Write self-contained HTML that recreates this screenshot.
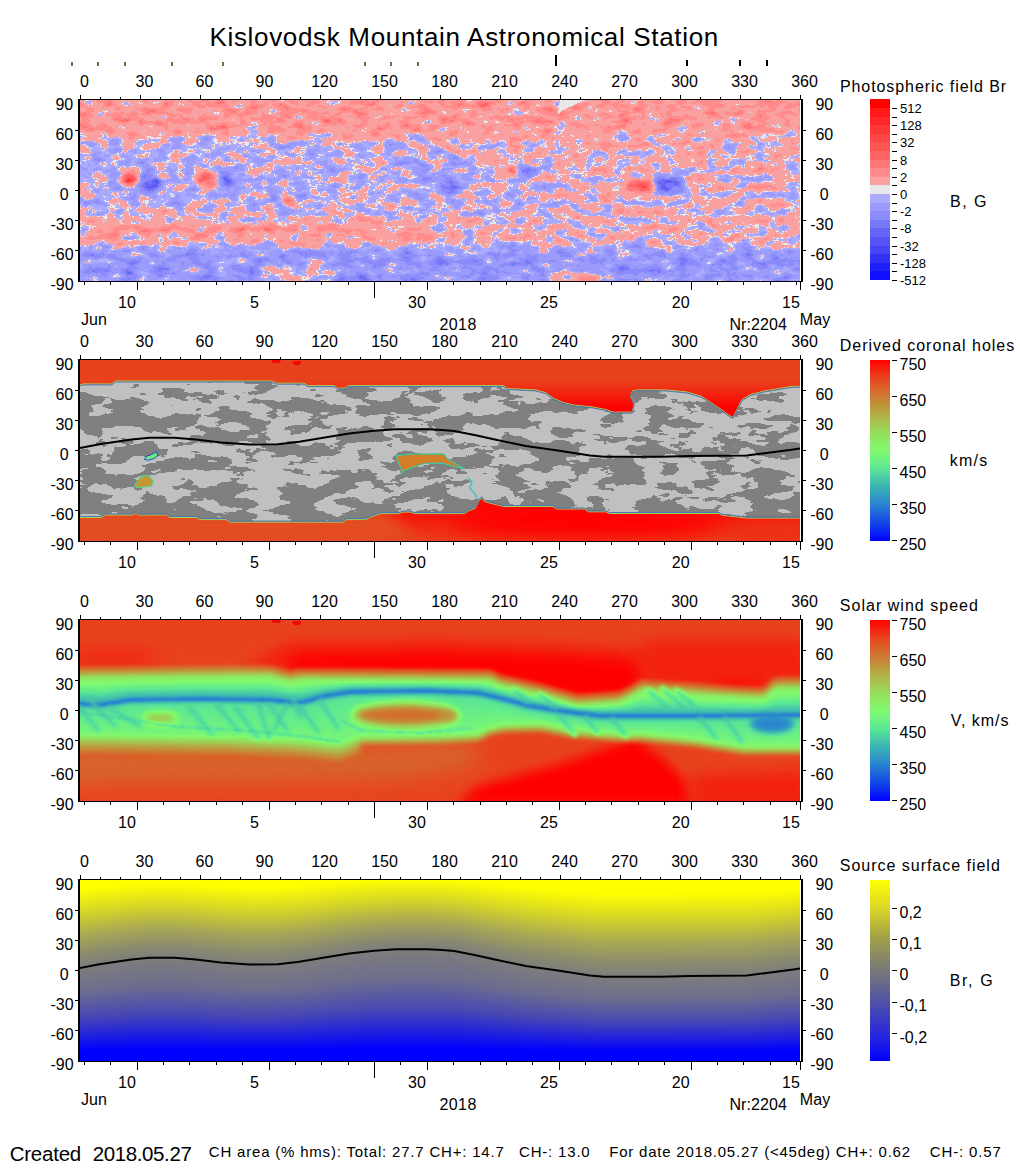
<!DOCTYPE html>
<html><head><meta charset="utf-8"><style>
html,body{margin:0;padding:0;background:#fff;}
svg{display:block;}
text{font-family:"Liberation Sans", sans-serif;}
</style></head><body>
<svg width="1020" height="1172" viewBox="0 0 1020 1172" shape-rendering="crispEdges">
<rect width="1020" height="1172" fill="#fff"/>
<defs>
<linearGradient id="jet" x1="0" y1="0" x2="0" y2="1">
<stop offset="0" stop-color="#ff0000"/>
<stop offset="0.1" stop-color="#e8441e"/>
<stop offset="0.2" stop-color="#cd7a32"/>
<stop offset="0.3" stop-color="#b4ad46"/>
<stop offset="0.4" stop-color="#96dc5a"/>
<stop offset="0.5" stop-color="#82fa6e"/>
<stop offset="0.6" stop-color="#5ae696"/>
<stop offset="0.7" stop-color="#3cb4b4"/>
<stop offset="0.8" stop-color="#2882d2"/>
<stop offset="0.9" stop-color="#1446e6"/>
<stop offset="1" stop-color="#0000ff"/>
</linearGradient>
<linearGradient id="ssf" x1="0" y1="0" x2="0" y2="1">
<stop offset="0" stop-color="#ffff00"/>
<stop offset="0.15" stop-color="#dcd728"/>
<stop offset="0.32" stop-color="#a0a046"/>
<stop offset="0.5" stop-color="#787878"/>
<stop offset="0.68" stop-color="#5050aa"/>
<stop offset="0.85" stop-color="#2828dc"/>
<stop offset="1" stop-color="#0000ff"/>
</linearGradient>
</defs>
<defs><clipPath id="clip0"><rect x="80" y="100" width="720" height="181"/></clipPath><clipPath id="clip1"><rect x="80" y="360" width="720" height="181"/></clipPath><clipPath id="clip2"><rect x="80" y="620" width="720" height="181"/></clipPath><clipPath id="clip3"><rect x="80" y="880" width="720" height="181"/></clipPath><linearGradient id="g4_0" gradientUnits="userSpaceOnUse" x1="0" y1="888.8" x2="0" y2="1050.4"><stop offset="0.000" stop-color="#ffff00"/><stop offset="0.146" stop-color="#d5d528"/><stop offset="0.292" stop-color="#a7a755"/><stop offset="0.414" stop-color="#8a8a70"/><stop offset="0.487" stop-color="#7d7d7d"/><stop offset="0.641" stop-color="#6d6d8e"/><stop offset="0.795" stop-color="#4848b4"/><stop offset="0.923" stop-color="#1c1ce2"/><stop offset="1.000" stop-color="#0000ff"/></linearGradient><linearGradient id="g4_5" gradientUnits="userSpaceOnUse" x1="0" y1="888.3" x2="0" y2="1050.3"><stop offset="0.000" stop-color="#ffff00"/><stop offset="0.145" stop-color="#d5d528"/><stop offset="0.290" stop-color="#a7a755"/><stop offset="0.411" stop-color="#8a8a70"/><stop offset="0.483" stop-color="#7d7d7d"/><stop offset="0.638" stop-color="#6d6d8e"/><stop offset="0.793" stop-color="#4848b4"/><stop offset="0.922" stop-color="#1c1ce2"/><stop offset="1.000" stop-color="#0000ff"/></linearGradient><linearGradient id="g4_10" gradientUnits="userSpaceOnUse" x1="0" y1="887.8" x2="0" y2="1050.2"><stop offset="0.000" stop-color="#ffff00"/><stop offset="0.144" stop-color="#d5d528"/><stop offset="0.287" stop-color="#a7a755"/><stop offset="0.407" stop-color="#8a8a70"/><stop offset="0.479" stop-color="#7d7d7d"/><stop offset="0.635" stop-color="#6d6d8e"/><stop offset="0.792" stop-color="#4848b4"/><stop offset="0.922" stop-color="#1c1ce2"/><stop offset="1.000" stop-color="#0000ff"/></linearGradient><linearGradient id="g4_15" gradientUnits="userSpaceOnUse" x1="0" y1="887.3" x2="0" y2="1050.1"><stop offset="0.000" stop-color="#ffff00"/><stop offset="0.142" stop-color="#d5d528"/><stop offset="0.285" stop-color="#a7a755"/><stop offset="0.404" stop-color="#8a8a70"/><stop offset="0.475" stop-color="#7d7d7d"/><stop offset="0.632" stop-color="#6d6d8e"/><stop offset="0.790" stop-color="#4848b4"/><stop offset="0.921" stop-color="#1c1ce2"/><stop offset="1.000" stop-color="#0000ff"/></linearGradient><linearGradient id="g4_20" gradientUnits="userSpaceOnUse" x1="0" y1="886.9" x2="0" y2="1050.0"><stop offset="0.000" stop-color="#ffff00"/><stop offset="0.141" stop-color="#d5d528"/><stop offset="0.283" stop-color="#a7a755"/><stop offset="0.401" stop-color="#8a8a70"/><stop offset="0.471" stop-color="#7d7d7d"/><stop offset="0.630" stop-color="#6d6d8e"/><stop offset="0.789" stop-color="#4848b4"/><stop offset="0.921" stop-color="#1c1ce2"/><stop offset="1.000" stop-color="#0000ff"/></linearGradient><linearGradient id="g4_25" gradientUnits="userSpaceOnUse" x1="0" y1="886.5" x2="0" y2="1049.9"><stop offset="0.000" stop-color="#ffff00"/><stop offset="0.141" stop-color="#d5d528"/><stop offset="0.281" stop-color="#a7a755"/><stop offset="0.398" stop-color="#8a8a70"/><stop offset="0.468" stop-color="#7d7d7d"/><stop offset="0.628" stop-color="#6d6d8e"/><stop offset="0.787" stop-color="#4848b4"/><stop offset="0.920" stop-color="#1c1ce2"/><stop offset="1.000" stop-color="#0000ff"/></linearGradient><linearGradient id="g4_30" gradientUnits="userSpaceOnUse" x1="0" y1="886.2" x2="0" y2="1049.8"><stop offset="0.000" stop-color="#ffff00"/><stop offset="0.140" stop-color="#d5d528"/><stop offset="0.279" stop-color="#a7a755"/><stop offset="0.396" stop-color="#8a8a70"/><stop offset="0.465" stop-color="#7d7d7d"/><stop offset="0.626" stop-color="#6d6d8e"/><stop offset="0.786" stop-color="#4848b4"/><stop offset="0.920" stop-color="#1c1ce2"/><stop offset="1.000" stop-color="#0000ff"/></linearGradient><linearGradient id="g4_35" gradientUnits="userSpaceOnUse" x1="0" y1="885.8" x2="0" y2="1049.8"><stop offset="0.000" stop-color="#ffff00"/><stop offset="0.139" stop-color="#d5d528"/><stop offset="0.277" stop-color="#a7a755"/><stop offset="0.393" stop-color="#8a8a70"/><stop offset="0.462" stop-color="#7d7d7d"/><stop offset="0.624" stop-color="#6d6d8e"/><stop offset="0.785" stop-color="#4848b4"/><stop offset="0.919" stop-color="#1c1ce2"/><stop offset="1.000" stop-color="#0000ff"/></linearGradient><linearGradient id="g4_40" gradientUnits="userSpaceOnUse" x1="0" y1="885.4" x2="0" y2="1049.7"><stop offset="0.000" stop-color="#ffff00"/><stop offset="0.138" stop-color="#d5d528"/><stop offset="0.276" stop-color="#a7a755"/><stop offset="0.390" stop-color="#8a8a70"/><stop offset="0.459" stop-color="#7d7d7d"/><stop offset="0.622" stop-color="#6d6d8e"/><stop offset="0.784" stop-color="#4848b4"/><stop offset="0.919" stop-color="#1c1ce2"/><stop offset="1.000" stop-color="#0000ff"/></linearGradient><linearGradient id="g4_45" gradientUnits="userSpaceOnUse" x1="0" y1="885.1" x2="0" y2="1049.6"><stop offset="0.000" stop-color="#ffff00"/><stop offset="0.137" stop-color="#d5d528"/><stop offset="0.274" stop-color="#a7a755"/><stop offset="0.388" stop-color="#8a8a70"/><stop offset="0.456" stop-color="#7d7d7d"/><stop offset="0.619" stop-color="#6d6d8e"/><stop offset="0.783" stop-color="#4848b4"/><stop offset="0.918" stop-color="#1c1ce2"/><stop offset="1.000" stop-color="#0000ff"/></linearGradient><linearGradient id="g4_50" gradientUnits="userSpaceOnUse" x1="0" y1="884.7" x2="0" y2="1049.5"><stop offset="0.000" stop-color="#ffff00"/><stop offset="0.136" stop-color="#d5d528"/><stop offset="0.272" stop-color="#a7a755"/><stop offset="0.386" stop-color="#8a8a70"/><stop offset="0.454" stop-color="#7d7d7d"/><stop offset="0.618" stop-color="#6d6d8e"/><stop offset="0.781" stop-color="#4848b4"/><stop offset="0.918" stop-color="#1c1ce2"/><stop offset="1.000" stop-color="#0000ff"/></linearGradient><linearGradient id="g4_55" gradientUnits="userSpaceOnUse" x1="0" y1="884.5" x2="0" y2="1049.5"><stop offset="0.000" stop-color="#ffff00"/><stop offset="0.135" stop-color="#d5d528"/><stop offset="0.271" stop-color="#a7a755"/><stop offset="0.384" stop-color="#8a8a70"/><stop offset="0.452" stop-color="#7d7d7d"/><stop offset="0.616" stop-color="#6d6d8e"/><stop offset="0.781" stop-color="#4848b4"/><stop offset="0.918" stop-color="#1c1ce2"/><stop offset="1.000" stop-color="#0000ff"/></linearGradient><linearGradient id="g4_60" gradientUnits="userSpaceOnUse" x1="0" y1="884.2" x2="0" y2="1049.4"><stop offset="0.000" stop-color="#ffff00"/><stop offset="0.135" stop-color="#d5d528"/><stop offset="0.270" stop-color="#a7a755"/><stop offset="0.382" stop-color="#8a8a70"/><stop offset="0.449" stop-color="#7d7d7d"/><stop offset="0.615" stop-color="#6d6d8e"/><stop offset="0.780" stop-color="#4848b4"/><stop offset="0.917" stop-color="#1c1ce2"/><stop offset="1.000" stop-color="#0000ff"/></linearGradient><linearGradient id="g4_65" gradientUnits="userSpaceOnUse" x1="0" y1="884.0" x2="0" y2="1049.4"><stop offset="0.000" stop-color="#ffff00"/><stop offset="0.134" stop-color="#d5d528"/><stop offset="0.268" stop-color="#a7a755"/><stop offset="0.380" stop-color="#8a8a70"/><stop offset="0.447" stop-color="#7d7d7d"/><stop offset="0.613" stop-color="#6d6d8e"/><stop offset="0.779" stop-color="#4848b4"/><stop offset="0.917" stop-color="#1c1ce2"/><stop offset="1.000" stop-color="#0000ff"/></linearGradient><linearGradient id="g4_70" gradientUnits="userSpaceOnUse" x1="0" y1="883.9" x2="0" y2="1049.4"><stop offset="0.000" stop-color="#ffff00"/><stop offset="0.134" stop-color="#d5d528"/><stop offset="0.268" stop-color="#a7a755"/><stop offset="0.380" stop-color="#8a8a70"/><stop offset="0.447" stop-color="#7d7d7d"/><stop offset="0.613" stop-color="#6d6d8e"/><stop offset="0.779" stop-color="#4848b4"/><stop offset="0.917" stop-color="#1c1ce2"/><stop offset="1.000" stop-color="#0000ff"/></linearGradient><linearGradient id="g4_75" gradientUnits="userSpaceOnUse" x1="0" y1="883.9" x2="0" y2="1049.4"><stop offset="0.000" stop-color="#ffff00"/><stop offset="0.134" stop-color="#d5d528"/><stop offset="0.268" stop-color="#a7a755"/><stop offset="0.380" stop-color="#8a8a70"/><stop offset="0.447" stop-color="#7d7d7d"/><stop offset="0.613" stop-color="#6d6d8e"/><stop offset="0.779" stop-color="#4848b4"/><stop offset="0.917" stop-color="#1c1ce2"/><stop offset="1.000" stop-color="#0000ff"/></linearGradient><linearGradient id="g4_80" gradientUnits="userSpaceOnUse" x1="0" y1="883.9" x2="0" y2="1049.4"><stop offset="0.000" stop-color="#ffff00"/><stop offset="0.134" stop-color="#d5d528"/><stop offset="0.268" stop-color="#a7a755"/><stop offset="0.380" stop-color="#8a8a70"/><stop offset="0.447" stop-color="#7d7d7d"/><stop offset="0.613" stop-color="#6d6d8e"/><stop offset="0.779" stop-color="#4848b4"/><stop offset="0.917" stop-color="#1c1ce2"/><stop offset="1.000" stop-color="#0000ff"/></linearGradient><linearGradient id="g4_85" gradientUnits="userSpaceOnUse" x1="0" y1="883.9" x2="0" y2="1049.4"><stop offset="0.000" stop-color="#ffff00"/><stop offset="0.134" stop-color="#d5d528"/><stop offset="0.268" stop-color="#a7a755"/><stop offset="0.380" stop-color="#8a8a70"/><stop offset="0.447" stop-color="#7d7d7d"/><stop offset="0.613" stop-color="#6d6d8e"/><stop offset="0.779" stop-color="#4848b4"/><stop offset="0.917" stop-color="#1c1ce2"/><stop offset="1.000" stop-color="#0000ff"/></linearGradient><linearGradient id="g4_90" gradientUnits="userSpaceOnUse" x1="0" y1="883.9" x2="0" y2="1049.4"><stop offset="0.000" stop-color="#ffff00"/><stop offset="0.134" stop-color="#d5d528"/><stop offset="0.268" stop-color="#a7a755"/><stop offset="0.380" stop-color="#8a8a70"/><stop offset="0.447" stop-color="#7d7d7d"/><stop offset="0.613" stop-color="#6d6d8e"/><stop offset="0.779" stop-color="#4848b4"/><stop offset="0.917" stop-color="#1c1ce2"/><stop offset="1.000" stop-color="#0000ff"/></linearGradient><linearGradient id="g4_95" gradientUnits="userSpaceOnUse" x1="0" y1="884.0" x2="0" y2="1049.4"><stop offset="0.000" stop-color="#ffff00"/><stop offset="0.134" stop-color="#d5d528"/><stop offset="0.269" stop-color="#a7a755"/><stop offset="0.381" stop-color="#8a8a70"/><stop offset="0.448" stop-color="#7d7d7d"/><stop offset="0.613" stop-color="#6d6d8e"/><stop offset="0.779" stop-color="#4848b4"/><stop offset="0.917" stop-color="#1c1ce2"/><stop offset="1.000" stop-color="#0000ff"/></linearGradient><linearGradient id="g4_100" gradientUnits="userSpaceOnUse" x1="0" y1="884.2" x2="0" y2="1049.4"><stop offset="0.000" stop-color="#ffff00"/><stop offset="0.135" stop-color="#d5d528"/><stop offset="0.270" stop-color="#a7a755"/><stop offset="0.382" stop-color="#8a8a70"/><stop offset="0.449" stop-color="#7d7d7d"/><stop offset="0.615" stop-color="#6d6d8e"/><stop offset="0.780" stop-color="#4848b4"/><stop offset="0.917" stop-color="#1c1ce2"/><stop offset="1.000" stop-color="#0000ff"/></linearGradient><linearGradient id="g4_105" gradientUnits="userSpaceOnUse" x1="0" y1="884.5" x2="0" y2="1049.5"><stop offset="0.000" stop-color="#ffff00"/><stop offset="0.135" stop-color="#d5d528"/><stop offset="0.271" stop-color="#a7a755"/><stop offset="0.383" stop-color="#8a8a70"/><stop offset="0.451" stop-color="#7d7d7d"/><stop offset="0.616" stop-color="#6d6d8e"/><stop offset="0.780" stop-color="#4848b4"/><stop offset="0.918" stop-color="#1c1ce2"/><stop offset="1.000" stop-color="#0000ff"/></linearGradient><linearGradient id="g4_110" gradientUnits="userSpaceOnUse" x1="0" y1="884.7" x2="0" y2="1049.5"><stop offset="0.000" stop-color="#ffff00"/><stop offset="0.136" stop-color="#d5d528"/><stop offset="0.272" stop-color="#a7a755"/><stop offset="0.385" stop-color="#8a8a70"/><stop offset="0.453" stop-color="#7d7d7d"/><stop offset="0.617" stop-color="#6d6d8e"/><stop offset="0.781" stop-color="#4848b4"/><stop offset="0.918" stop-color="#1c1ce2"/><stop offset="1.000" stop-color="#0000ff"/></linearGradient><linearGradient id="g4_115" gradientUnits="userSpaceOnUse" x1="0" y1="884.9" x2="0" y2="1049.6"><stop offset="0.000" stop-color="#ffff00"/><stop offset="0.136" stop-color="#d5d528"/><stop offset="0.273" stop-color="#a7a755"/><stop offset="0.387" stop-color="#8a8a70"/><stop offset="0.455" stop-color="#7d7d7d"/><stop offset="0.618" stop-color="#6d6d8e"/><stop offset="0.782" stop-color="#4848b4"/><stop offset="0.918" stop-color="#1c1ce2"/><stop offset="1.000" stop-color="#0000ff"/></linearGradient><linearGradient id="g4_120" gradientUnits="userSpaceOnUse" x1="0" y1="885.2" x2="0" y2="1049.6"><stop offset="0.000" stop-color="#ffff00"/><stop offset="0.137" stop-color="#d5d528"/><stop offset="0.274" stop-color="#a7a755"/><stop offset="0.389" stop-color="#8a8a70"/><stop offset="0.457" stop-color="#7d7d7d"/><stop offset="0.620" stop-color="#6d6d8e"/><stop offset="0.783" stop-color="#4848b4"/><stop offset="0.919" stop-color="#1c1ce2"/><stop offset="1.000" stop-color="#0000ff"/></linearGradient><linearGradient id="g4_125" gradientUnits="userSpaceOnUse" x1="0" y1="885.5" x2="0" y2="1049.7"><stop offset="0.000" stop-color="#ffff00"/><stop offset="0.138" stop-color="#d5d528"/><stop offset="0.276" stop-color="#a7a755"/><stop offset="0.391" stop-color="#8a8a70"/><stop offset="0.459" stop-color="#7d7d7d"/><stop offset="0.622" stop-color="#6d6d8e"/><stop offset="0.784" stop-color="#4848b4"/><stop offset="0.919" stop-color="#1c1ce2"/><stop offset="1.000" stop-color="#0000ff"/></linearGradient><linearGradient id="g4_130" gradientUnits="userSpaceOnUse" x1="0" y1="885.7" x2="0" y2="1049.7"><stop offset="0.000" stop-color="#ffff00"/><stop offset="0.139" stop-color="#d5d528"/><stop offset="0.277" stop-color="#a7a755"/><stop offset="0.393" stop-color="#8a8a70"/><stop offset="0.462" stop-color="#7d7d7d"/><stop offset="0.623" stop-color="#6d6d8e"/><stop offset="0.785" stop-color="#4848b4"/><stop offset="0.919" stop-color="#1c1ce2"/><stop offset="1.000" stop-color="#0000ff"/></linearGradient><linearGradient id="g4_135" gradientUnits="userSpaceOnUse" x1="0" y1="886.0" x2="0" y2="1049.8"><stop offset="0.000" stop-color="#ffff00"/><stop offset="0.139" stop-color="#d5d528"/><stop offset="0.278" stop-color="#a7a755"/><stop offset="0.394" stop-color="#8a8a70"/><stop offset="0.464" stop-color="#7d7d7d"/><stop offset="0.625" stop-color="#6d6d8e"/><stop offset="0.786" stop-color="#4848b4"/><stop offset="0.920" stop-color="#1c1ce2"/><stop offset="1.000" stop-color="#0000ff"/></linearGradient><linearGradient id="g4_140" gradientUnits="userSpaceOnUse" x1="0" y1="886.3" x2="0" y2="1049.9"><stop offset="0.000" stop-color="#ffff00"/><stop offset="0.140" stop-color="#d5d528"/><stop offset="0.280" stop-color="#a7a755"/><stop offset="0.396" stop-color="#8a8a70"/><stop offset="0.466" stop-color="#7d7d7d"/><stop offset="0.626" stop-color="#6d6d8e"/><stop offset="0.786" stop-color="#4848b4"/><stop offset="0.920" stop-color="#1c1ce2"/><stop offset="1.000" stop-color="#0000ff"/></linearGradient><linearGradient id="g4_145" gradientUnits="userSpaceOnUse" x1="0" y1="886.5" x2="0" y2="1049.9"><stop offset="0.000" stop-color="#ffff00"/><stop offset="0.140" stop-color="#d5d528"/><stop offset="0.281" stop-color="#a7a755"/><stop offset="0.398" stop-color="#8a8a70"/><stop offset="0.468" stop-color="#7d7d7d"/><stop offset="0.627" stop-color="#6d6d8e"/><stop offset="0.787" stop-color="#4848b4"/><stop offset="0.920" stop-color="#1c1ce2"/><stop offset="1.000" stop-color="#0000ff"/></linearGradient><linearGradient id="g4_150" gradientUnits="userSpaceOnUse" x1="0" y1="886.7" x2="0" y2="1049.9"><stop offset="0.000" stop-color="#ffff00"/><stop offset="0.141" stop-color="#d5d528"/><stop offset="0.282" stop-color="#a7a755"/><stop offset="0.399" stop-color="#8a8a70"/><stop offset="0.469" stop-color="#7d7d7d"/><stop offset="0.629" stop-color="#6d6d8e"/><stop offset="0.788" stop-color="#4848b4"/><stop offset="0.920" stop-color="#1c1ce2"/><stop offset="1.000" stop-color="#0000ff"/></linearGradient><linearGradient id="g4_155" gradientUnits="userSpaceOnUse" x1="0" y1="886.8" x2="0" y2="1050.0"><stop offset="0.000" stop-color="#ffff00"/><stop offset="0.141" stop-color="#d5d528"/><stop offset="0.283" stop-color="#a7a755"/><stop offset="0.400" stop-color="#8a8a70"/><stop offset="0.471" stop-color="#7d7d7d"/><stop offset="0.630" stop-color="#6d6d8e"/><stop offset="0.788" stop-color="#4848b4"/><stop offset="0.921" stop-color="#1c1ce2"/><stop offset="1.000" stop-color="#0000ff"/></linearGradient><linearGradient id="g4_160" gradientUnits="userSpaceOnUse" x1="0" y1="887.0" x2="0" y2="1050.0"><stop offset="0.000" stop-color="#ffff00"/><stop offset="0.142" stop-color="#d5d528"/><stop offset="0.284" stop-color="#a7a755"/><stop offset="0.402" stop-color="#8a8a70"/><stop offset="0.473" stop-color="#7d7d7d"/><stop offset="0.631" stop-color="#6d6d8e"/><stop offset="0.789" stop-color="#4848b4"/><stop offset="0.921" stop-color="#1c1ce2"/><stop offset="1.000" stop-color="#0000ff"/></linearGradient><linearGradient id="g4_165" gradientUnits="userSpaceOnUse" x1="0" y1="887.2" x2="0" y2="1050.0"><stop offset="0.000" stop-color="#ffff00"/><stop offset="0.142" stop-color="#d5d528"/><stop offset="0.285" stop-color="#a7a755"/><stop offset="0.403" stop-color="#8a8a70"/><stop offset="0.474" stop-color="#7d7d7d"/><stop offset="0.632" stop-color="#6d6d8e"/><stop offset="0.790" stop-color="#4848b4"/><stop offset="0.921" stop-color="#1c1ce2"/><stop offset="1.000" stop-color="#0000ff"/></linearGradient><linearGradient id="g4_170" gradientUnits="userSpaceOnUse" x1="0" y1="887.3" x2="0" y2="1050.1"><stop offset="0.000" stop-color="#ffff00"/><stop offset="0.142" stop-color="#d5d528"/><stop offset="0.285" stop-color="#a7a755"/><stop offset="0.404" stop-color="#8a8a70"/><stop offset="0.475" stop-color="#7d7d7d"/><stop offset="0.632" stop-color="#6d6d8e"/><stop offset="0.790" stop-color="#4848b4"/><stop offset="0.921" stop-color="#1c1ce2"/><stop offset="1.000" stop-color="#0000ff"/></linearGradient><linearGradient id="g4_175" gradientUnits="userSpaceOnUse" x1="0" y1="887.2" x2="0" y2="1050.0"><stop offset="0.000" stop-color="#ffff00"/><stop offset="0.142" stop-color="#d5d528"/><stop offset="0.285" stop-color="#a7a755"/><stop offset="0.403" stop-color="#8a8a70"/><stop offset="0.474" stop-color="#7d7d7d"/><stop offset="0.632" stop-color="#6d6d8e"/><stop offset="0.790" stop-color="#4848b4"/><stop offset="0.921" stop-color="#1c1ce2"/><stop offset="1.000" stop-color="#0000ff"/></linearGradient><linearGradient id="g4_180" gradientUnits="userSpaceOnUse" x1="0" y1="887.2" x2="0" y2="1050.0"><stop offset="0.000" stop-color="#ffff00"/><stop offset="0.142" stop-color="#d5d528"/><stop offset="0.284" stop-color="#a7a755"/><stop offset="0.403" stop-color="#8a8a70"/><stop offset="0.474" stop-color="#7d7d7d"/><stop offset="0.632" stop-color="#6d6d8e"/><stop offset="0.790" stop-color="#4848b4"/><stop offset="0.921" stop-color="#1c1ce2"/><stop offset="1.000" stop-color="#0000ff"/></linearGradient><linearGradient id="g4_185" gradientUnits="userSpaceOnUse" x1="0" y1="887.2" x2="0" y2="1050.0"><stop offset="0.000" stop-color="#ffff00"/><stop offset="0.142" stop-color="#d5d528"/><stop offset="0.284" stop-color="#a7a755"/><stop offset="0.403" stop-color="#8a8a70"/><stop offset="0.474" stop-color="#7d7d7d"/><stop offset="0.632" stop-color="#6d6d8e"/><stop offset="0.790" stop-color="#4848b4"/><stop offset="0.921" stop-color="#1c1ce2"/><stop offset="1.000" stop-color="#0000ff"/></linearGradient><linearGradient id="g4_190" gradientUnits="userSpaceOnUse" x1="0" y1="887.1" x2="0" y2="1050.0"><stop offset="0.000" stop-color="#ffff00"/><stop offset="0.142" stop-color="#d5d528"/><stop offset="0.284" stop-color="#a7a755"/><stop offset="0.403" stop-color="#8a8a70"/><stop offset="0.474" stop-color="#7d7d7d"/><stop offset="0.631" stop-color="#6d6d8e"/><stop offset="0.789" stop-color="#4848b4"/><stop offset="0.921" stop-color="#1c1ce2"/><stop offset="1.000" stop-color="#0000ff"/></linearGradient><linearGradient id="g4_195" gradientUnits="userSpaceOnUse" x1="0" y1="887.1" x2="0" y2="1050.0"><stop offset="0.000" stop-color="#ffff00"/><stop offset="0.142" stop-color="#d5d528"/><stop offset="0.284" stop-color="#a7a755"/><stop offset="0.402" stop-color="#8a8a70"/><stop offset="0.473" stop-color="#7d7d7d"/><stop offset="0.631" stop-color="#6d6d8e"/><stop offset="0.789" stop-color="#4848b4"/><stop offset="0.921" stop-color="#1c1ce2"/><stop offset="1.000" stop-color="#0000ff"/></linearGradient><linearGradient id="g4_200" gradientUnits="userSpaceOnUse" x1="0" y1="886.8" x2="0" y2="1050.0"><stop offset="0.000" stop-color="#ffff00"/><stop offset="0.141" stop-color="#d5d528"/><stop offset="0.283" stop-color="#a7a755"/><stop offset="0.400" stop-color="#8a8a70"/><stop offset="0.471" stop-color="#7d7d7d"/><stop offset="0.630" stop-color="#6d6d8e"/><stop offset="0.788" stop-color="#4848b4"/><stop offset="0.921" stop-color="#1c1ce2"/><stop offset="1.000" stop-color="#0000ff"/></linearGradient><linearGradient id="g4_205" gradientUnits="userSpaceOnUse" x1="0" y1="886.5" x2="0" y2="1049.9"><stop offset="0.000" stop-color="#ffff00"/><stop offset="0.141" stop-color="#d5d528"/><stop offset="0.281" stop-color="#a7a755"/><stop offset="0.398" stop-color="#8a8a70"/><stop offset="0.469" stop-color="#7d7d7d"/><stop offset="0.628" stop-color="#6d6d8e"/><stop offset="0.787" stop-color="#4848b4"/><stop offset="0.920" stop-color="#1c1ce2"/><stop offset="1.000" stop-color="#0000ff"/></linearGradient><linearGradient id="g4_210" gradientUnits="userSpaceOnUse" x1="0" y1="886.2" x2="0" y2="1049.8"><stop offset="0.000" stop-color="#ffff00"/><stop offset="0.140" stop-color="#d5d528"/><stop offset="0.280" stop-color="#a7a755"/><stop offset="0.396" stop-color="#8a8a70"/><stop offset="0.466" stop-color="#7d7d7d"/><stop offset="0.626" stop-color="#6d6d8e"/><stop offset="0.786" stop-color="#4848b4"/><stop offset="0.920" stop-color="#1c1ce2"/><stop offset="1.000" stop-color="#0000ff"/></linearGradient><linearGradient id="g4_215" gradientUnits="userSpaceOnUse" x1="0" y1="886.0" x2="0" y2="1049.8"><stop offset="0.000" stop-color="#ffff00"/><stop offset="0.139" stop-color="#d5d528"/><stop offset="0.278" stop-color="#a7a755"/><stop offset="0.394" stop-color="#8a8a70"/><stop offset="0.464" stop-color="#7d7d7d"/><stop offset="0.625" stop-color="#6d6d8e"/><stop offset="0.785" stop-color="#4848b4"/><stop offset="0.920" stop-color="#1c1ce2"/><stop offset="1.000" stop-color="#0000ff"/></linearGradient><linearGradient id="g4_220" gradientUnits="userSpaceOnUse" x1="0" y1="885.6" x2="0" y2="1049.7"><stop offset="0.000" stop-color="#ffff00"/><stop offset="0.138" stop-color="#d5d528"/><stop offset="0.276" stop-color="#a7a755"/><stop offset="0.391" stop-color="#8a8a70"/><stop offset="0.461" stop-color="#7d7d7d"/><stop offset="0.622" stop-color="#6d6d8e"/><stop offset="0.784" stop-color="#4848b4"/><stop offset="0.919" stop-color="#1c1ce2"/><stop offset="1.000" stop-color="#0000ff"/></linearGradient><linearGradient id="g4_225" gradientUnits="userSpaceOnUse" x1="0" y1="885.2" x2="0" y2="1049.6"><stop offset="0.000" stop-color="#ffff00"/><stop offset="0.137" stop-color="#d5d528"/><stop offset="0.274" stop-color="#a7a755"/><stop offset="0.389" stop-color="#8a8a70"/><stop offset="0.457" stop-color="#7d7d7d"/><stop offset="0.620" stop-color="#6d6d8e"/><stop offset="0.783" stop-color="#4848b4"/><stop offset="0.919" stop-color="#1c1ce2"/><stop offset="1.000" stop-color="#0000ff"/></linearGradient><linearGradient id="g4_230" gradientUnits="userSpaceOnUse" x1="0" y1="884.8" x2="0" y2="1049.6"><stop offset="0.000" stop-color="#ffff00"/><stop offset="0.136" stop-color="#d5d528"/><stop offset="0.272" stop-color="#a7a755"/><stop offset="0.386" stop-color="#8a8a70"/><stop offset="0.454" stop-color="#7d7d7d"/><stop offset="0.618" stop-color="#6d6d8e"/><stop offset="0.782" stop-color="#4848b4"/><stop offset="0.918" stop-color="#1c1ce2"/><stop offset="1.000" stop-color="#0000ff"/></linearGradient><linearGradient id="g4_235" gradientUnits="userSpaceOnUse" x1="0" y1="884.4" x2="0" y2="1049.5"><stop offset="0.000" stop-color="#ffff00"/><stop offset="0.135" stop-color="#d5d528"/><stop offset="0.270" stop-color="#a7a755"/><stop offset="0.383" stop-color="#8a8a70"/><stop offset="0.451" stop-color="#7d7d7d"/><stop offset="0.615" stop-color="#6d6d8e"/><stop offset="0.780" stop-color="#4848b4"/><stop offset="0.918" stop-color="#1c1ce2"/><stop offset="1.000" stop-color="#0000ff"/></linearGradient><linearGradient id="g4_240" gradientUnits="userSpaceOnUse" x1="0" y1="884.0" x2="0" y2="1049.4"><stop offset="0.000" stop-color="#ffff00"/><stop offset="0.134" stop-color="#d5d528"/><stop offset="0.268" stop-color="#a7a755"/><stop offset="0.380" stop-color="#8a8a70"/><stop offset="0.447" stop-color="#7d7d7d"/><stop offset="0.613" stop-color="#6d6d8e"/><stop offset="0.779" stop-color="#4848b4"/><stop offset="0.917" stop-color="#1c1ce2"/><stop offset="1.000" stop-color="#0000ff"/></linearGradient><linearGradient id="g4_245" gradientUnits="userSpaceOnUse" x1="0" y1="883.6" x2="0" y2="1049.3"><stop offset="0.000" stop-color="#ffff00"/><stop offset="0.133" stop-color="#d5d528"/><stop offset="0.266" stop-color="#a7a755"/><stop offset="0.377" stop-color="#8a8a70"/><stop offset="0.444" stop-color="#7d7d7d"/><stop offset="0.611" stop-color="#6d6d8e"/><stop offset="0.778" stop-color="#4848b4"/><stop offset="0.917" stop-color="#1c1ce2"/><stop offset="1.000" stop-color="#0000ff"/></linearGradient><linearGradient id="g4_250" gradientUnits="userSpaceOnUse" x1="0" y1="883.2" x2="0" y2="1049.2"><stop offset="0.000" stop-color="#ffff00"/><stop offset="0.132" stop-color="#d5d528"/><stop offset="0.264" stop-color="#a7a755"/><stop offset="0.374" stop-color="#8a8a70"/><stop offset="0.440" stop-color="#7d7d7d"/><stop offset="0.608" stop-color="#6d6d8e"/><stop offset="0.776" stop-color="#4848b4"/><stop offset="0.916" stop-color="#1c1ce2"/><stop offset="1.000" stop-color="#0000ff"/></linearGradient><linearGradient id="g4_255" gradientUnits="userSpaceOnUse" x1="0" y1="882.7" x2="0" y2="1049.1"><stop offset="0.000" stop-color="#ffff00"/><stop offset="0.131" stop-color="#d5d528"/><stop offset="0.262" stop-color="#a7a755"/><stop offset="0.372" stop-color="#8a8a70"/><stop offset="0.437" stop-color="#7d7d7d"/><stop offset="0.606" stop-color="#6d6d8e"/><stop offset="0.775" stop-color="#4848b4"/><stop offset="0.916" stop-color="#1c1ce2"/><stop offset="1.000" stop-color="#0000ff"/></linearGradient><linearGradient id="g4_260" gradientUnits="userSpaceOnUse" x1="0" y1="882.3" x2="0" y2="1049.1"><stop offset="0.000" stop-color="#ffff00"/><stop offset="0.130" stop-color="#d5d528"/><stop offset="0.260" stop-color="#a7a755"/><stop offset="0.369" stop-color="#8a8a70"/><stop offset="0.434" stop-color="#7d7d7d"/><stop offset="0.604" stop-color="#6d6d8e"/><stop offset="0.773" stop-color="#4848b4"/><stop offset="0.915" stop-color="#1c1ce2"/><stop offset="1.000" stop-color="#0000ff"/></linearGradient><linearGradient id="g4_265" gradientUnits="userSpaceOnUse" x1="0" y1="881.9" x2="0" y2="1049.0"><stop offset="0.000" stop-color="#ffff00"/><stop offset="0.129" stop-color="#d5d528"/><stop offset="0.258" stop-color="#a7a755"/><stop offset="0.366" stop-color="#8a8a70"/><stop offset="0.430" stop-color="#7d7d7d"/><stop offset="0.601" stop-color="#6d6d8e"/><stop offset="0.772" stop-color="#4848b4"/><stop offset="0.915" stop-color="#1c1ce2"/><stop offset="1.000" stop-color="#0000ff"/></linearGradient><linearGradient id="g4_270" gradientUnits="userSpaceOnUse" x1="0" y1="881.6" x2="0" y2="1048.9"><stop offset="0.000" stop-color="#ffff00"/><stop offset="0.128" stop-color="#d5d528"/><stop offset="0.257" stop-color="#a7a755"/><stop offset="0.363" stop-color="#8a8a70"/><stop offset="0.428" stop-color="#7d7d7d"/><stop offset="0.599" stop-color="#6d6d8e"/><stop offset="0.771" stop-color="#4848b4"/><stop offset="0.914" stop-color="#1c1ce2"/><stop offset="1.000" stop-color="#0000ff"/></linearGradient><linearGradient id="g4_275" gradientUnits="userSpaceOnUse" x1="0" y1="881.3" x2="0" y2="1048.9"><stop offset="0.000" stop-color="#ffff00"/><stop offset="0.128" stop-color="#d5d528"/><stop offset="0.255" stop-color="#a7a755"/><stop offset="0.362" stop-color="#8a8a70"/><stop offset="0.425" stop-color="#7d7d7d"/><stop offset="0.598" stop-color="#6d6d8e"/><stop offset="0.770" stop-color="#4848b4"/><stop offset="0.914" stop-color="#1c1ce2"/><stop offset="1.000" stop-color="#0000ff"/></linearGradient><linearGradient id="g4_280" gradientUnits="userSpaceOnUse" x1="0" y1="881.0" x2="0" y2="1048.8"><stop offset="0.000" stop-color="#ffff00"/><stop offset="0.127" stop-color="#d5d528"/><stop offset="0.254" stop-color="#a7a755"/><stop offset="0.360" stop-color="#8a8a70"/><stop offset="0.423" stop-color="#7d7d7d"/><stop offset="0.596" stop-color="#6d6d8e"/><stop offset="0.769" stop-color="#4848b4"/><stop offset="0.913" stop-color="#1c1ce2"/><stop offset="1.000" stop-color="#0000ff"/></linearGradient><linearGradient id="g4_285" gradientUnits="userSpaceOnUse" x1="0" y1="880.7" x2="0" y2="1048.7"><stop offset="0.000" stop-color="#ffff00"/><stop offset="0.126" stop-color="#d5d528"/><stop offset="0.253" stop-color="#a7a755"/><stop offset="0.358" stop-color="#8a8a70"/><stop offset="0.421" stop-color="#7d7d7d"/><stop offset="0.595" stop-color="#6d6d8e"/><stop offset="0.768" stop-color="#4848b4"/><stop offset="0.913" stop-color="#1c1ce2"/><stop offset="1.000" stop-color="#0000ff"/></linearGradient><linearGradient id="g4_290" gradientUnits="userSpaceOnUse" x1="0" y1="880.4" x2="0" y2="1048.7"><stop offset="0.000" stop-color="#ffff00"/><stop offset="0.126" stop-color="#d5d528"/><stop offset="0.251" stop-color="#a7a755"/><stop offset="0.356" stop-color="#8a8a70"/><stop offset="0.419" stop-color="#7d7d7d"/><stop offset="0.593" stop-color="#6d6d8e"/><stop offset="0.767" stop-color="#4848b4"/><stop offset="0.913" stop-color="#1c1ce2"/><stop offset="1.000" stop-color="#0000ff"/></linearGradient><linearGradient id="g4_295" gradientUnits="userSpaceOnUse" x1="0" y1="880.2" x2="0" y2="1048.6"><stop offset="0.000" stop-color="#ffff00"/><stop offset="0.125" stop-color="#d5d528"/><stop offset="0.250" stop-color="#a7a755"/><stop offset="0.354" stop-color="#8a8a70"/><stop offset="0.417" stop-color="#7d7d7d"/><stop offset="0.592" stop-color="#6d6d8e"/><stop offset="0.767" stop-color="#4848b4"/><stop offset="0.913" stop-color="#1c1ce2"/><stop offset="1.000" stop-color="#0000ff"/></linearGradient><linearGradient id="g4_300" gradientUnits="userSpaceOnUse" x1="0" y1="880.1" x2="0" y2="1048.6"><stop offset="0.000" stop-color="#ffff00"/><stop offset="0.125" stop-color="#d5d528"/><stop offset="0.249" stop-color="#a7a755"/><stop offset="0.353" stop-color="#8a8a70"/><stop offset="0.416" stop-color="#7d7d7d"/><stop offset="0.591" stop-color="#6d6d8e"/><stop offset="0.766" stop-color="#4848b4"/><stop offset="0.912" stop-color="#1c1ce2"/><stop offset="1.000" stop-color="#0000ff"/></linearGradient><linearGradient id="g4_305" gradientUnits="userSpaceOnUse" x1="0" y1="879.9" x2="0" y2="1048.6"><stop offset="0.000" stop-color="#ffff00"/><stop offset="0.124" stop-color="#d5d528"/><stop offset="0.249" stop-color="#a7a755"/><stop offset="0.352" stop-color="#8a8a70"/><stop offset="0.414" stop-color="#7d7d7d"/><stop offset="0.590" stop-color="#6d6d8e"/><stop offset="0.766" stop-color="#4848b4"/><stop offset="0.912" stop-color="#1c1ce2"/><stop offset="1.000" stop-color="#0000ff"/></linearGradient><linearGradient id="g4_310" gradientUnits="userSpaceOnUse" x1="0" y1="879.7" x2="0" y2="1048.5"><stop offset="0.000" stop-color="#ffff00"/><stop offset="0.124" stop-color="#d5d528"/><stop offset="0.248" stop-color="#a7a755"/><stop offset="0.351" stop-color="#8a8a70"/><stop offset="0.413" stop-color="#7d7d7d"/><stop offset="0.589" stop-color="#6d6d8e"/><stop offset="0.765" stop-color="#4848b4"/><stop offset="0.912" stop-color="#1c1ce2"/><stop offset="1.000" stop-color="#0000ff"/></linearGradient><linearGradient id="g4_315" gradientUnits="userSpaceOnUse" x1="0" y1="879.6" x2="0" y2="1048.5"><stop offset="0.000" stop-color="#ffff00"/><stop offset="0.124" stop-color="#d5d528"/><stop offset="0.247" stop-color="#a7a755"/><stop offset="0.350" stop-color="#8a8a70"/><stop offset="0.412" stop-color="#7d7d7d"/><stop offset="0.588" stop-color="#6d6d8e"/><stop offset="0.765" stop-color="#4848b4"/><stop offset="0.912" stop-color="#1c1ce2"/><stop offset="1.000" stop-color="#0000ff"/></linearGradient><linearGradient id="g4_320" gradientUnits="userSpaceOnUse" x1="0" y1="879.6" x2="0" y2="1048.5"><stop offset="0.000" stop-color="#ffff00"/><stop offset="0.124" stop-color="#d5d528"/><stop offset="0.247" stop-color="#a7a755"/><stop offset="0.350" stop-color="#8a8a70"/><stop offset="0.412" stop-color="#7d7d7d"/><stop offset="0.588" stop-color="#6d6d8e"/><stop offset="0.765" stop-color="#4848b4"/><stop offset="0.912" stop-color="#1c1ce2"/><stop offset="1.000" stop-color="#0000ff"/></linearGradient><linearGradient id="g4_325" gradientUnits="userSpaceOnUse" x1="0" y1="879.6" x2="0" y2="1048.5"><stop offset="0.000" stop-color="#ffff00"/><stop offset="0.124" stop-color="#d5d528"/><stop offset="0.247" stop-color="#a7a755"/><stop offset="0.350" stop-color="#8a8a70"/><stop offset="0.412" stop-color="#7d7d7d"/><stop offset="0.588" stop-color="#6d6d8e"/><stop offset="0.765" stop-color="#4848b4"/><stop offset="0.912" stop-color="#1c1ce2"/><stop offset="1.000" stop-color="#0000ff"/></linearGradient><linearGradient id="g4_330" gradientUnits="userSpaceOnUse" x1="0" y1="879.6" x2="0" y2="1048.5"><stop offset="0.000" stop-color="#ffff00"/><stop offset="0.124" stop-color="#d5d528"/><stop offset="0.247" stop-color="#a7a755"/><stop offset="0.350" stop-color="#8a8a70"/><stop offset="0.412" stop-color="#7d7d7d"/><stop offset="0.588" stop-color="#6d6d8e"/><stop offset="0.765" stop-color="#4848b4"/><stop offset="0.912" stop-color="#1c1ce2"/><stop offset="1.000" stop-color="#0000ff"/></linearGradient><linearGradient id="g4_335" gradientUnits="userSpaceOnUse" x1="0" y1="879.6" x2="0" y2="1048.5"><stop offset="0.000" stop-color="#ffff00"/><stop offset="0.124" stop-color="#d5d528"/><stop offset="0.247" stop-color="#a7a755"/><stop offset="0.350" stop-color="#8a8a70"/><stop offset="0.412" stop-color="#7d7d7d"/><stop offset="0.588" stop-color="#6d6d8e"/><stop offset="0.765" stop-color="#4848b4"/><stop offset="0.912" stop-color="#1c1ce2"/><stop offset="1.000" stop-color="#0000ff"/></linearGradient><linearGradient id="g4_340" gradientUnits="userSpaceOnUse" x1="0" y1="879.6" x2="0" y2="1048.5"><stop offset="0.000" stop-color="#ffff00"/><stop offset="0.124" stop-color="#d5d528"/><stop offset="0.247" stop-color="#a7a755"/><stop offset="0.350" stop-color="#8a8a70"/><stop offset="0.412" stop-color="#7d7d7d"/><stop offset="0.588" stop-color="#6d6d8e"/><stop offset="0.765" stop-color="#4848b4"/><stop offset="0.912" stop-color="#1c1ce2"/><stop offset="1.000" stop-color="#0000ff"/></linearGradient><linearGradient id="g4_345" gradientUnits="userSpaceOnUse" x1="0" y1="879.6" x2="0" y2="1048.5"><stop offset="0.000" stop-color="#ffff00"/><stop offset="0.124" stop-color="#d5d528"/><stop offset="0.247" stop-color="#a7a755"/><stop offset="0.350" stop-color="#8a8a70"/><stop offset="0.412" stop-color="#7d7d7d"/><stop offset="0.588" stop-color="#6d6d8e"/><stop offset="0.765" stop-color="#4848b4"/><stop offset="0.912" stop-color="#1c1ce2"/><stop offset="1.000" stop-color="#0000ff"/></linearGradient><linearGradient id="g4_350" gradientUnits="userSpaceOnUse" x1="0" y1="879.7" x2="0" y2="1048.5"><stop offset="0.000" stop-color="#ffff00"/><stop offset="0.124" stop-color="#d5d528"/><stop offset="0.248" stop-color="#a7a755"/><stop offset="0.351" stop-color="#8a8a70"/><stop offset="0.413" stop-color="#7d7d7d"/><stop offset="0.589" stop-color="#6d6d8e"/><stop offset="0.765" stop-color="#4848b4"/><stop offset="0.912" stop-color="#1c1ce2"/><stop offset="1.000" stop-color="#0000ff"/></linearGradient><linearGradient id="g4_355" gradientUnits="userSpaceOnUse" x1="0" y1="879.9" x2="0" y2="1048.6"><stop offset="0.000" stop-color="#ffff00"/><stop offset="0.124" stop-color="#d5d528"/><stop offset="0.249" stop-color="#a7a755"/><stop offset="0.352" stop-color="#8a8a70"/><stop offset="0.414" stop-color="#7d7d7d"/><stop offset="0.590" stop-color="#6d6d8e"/><stop offset="0.766" stop-color="#4848b4"/><stop offset="0.912" stop-color="#1c1ce2"/><stop offset="1.000" stop-color="#0000ff"/></linearGradient><linearGradient id="g4_360" gradientUnits="userSpaceOnUse" x1="0" y1="880.0" x2="0" y2="1048.6"><stop offset="0.000" stop-color="#ffff00"/><stop offset="0.125" stop-color="#d5d528"/><stop offset="0.249" stop-color="#a7a755"/><stop offset="0.353" stop-color="#8a8a70"/><stop offset="0.415" stop-color="#7d7d7d"/><stop offset="0.591" stop-color="#6d6d8e"/><stop offset="0.766" stop-color="#4848b4"/><stop offset="0.912" stop-color="#1c1ce2"/><stop offset="1.000" stop-color="#0000ff"/></linearGradient><linearGradient id="g4_365" gradientUnits="userSpaceOnUse" x1="0" y1="880.2" x2="0" y2="1048.6"><stop offset="0.000" stop-color="#ffff00"/><stop offset="0.125" stop-color="#d5d528"/><stop offset="0.250" stop-color="#a7a755"/><stop offset="0.354" stop-color="#8a8a70"/><stop offset="0.417" stop-color="#7d7d7d"/><stop offset="0.592" stop-color="#6d6d8e"/><stop offset="0.767" stop-color="#4848b4"/><stop offset="0.913" stop-color="#1c1ce2"/><stop offset="1.000" stop-color="#0000ff"/></linearGradient><linearGradient id="g4_370" gradientUnits="userSpaceOnUse" x1="0" y1="880.4" x2="0" y2="1048.7"><stop offset="0.000" stop-color="#ffff00"/><stop offset="0.126" stop-color="#d5d528"/><stop offset="0.251" stop-color="#a7a755"/><stop offset="0.356" stop-color="#8a8a70"/><stop offset="0.419" stop-color="#7d7d7d"/><stop offset="0.593" stop-color="#6d6d8e"/><stop offset="0.767" stop-color="#4848b4"/><stop offset="0.913" stop-color="#1c1ce2"/><stop offset="1.000" stop-color="#0000ff"/></linearGradient><linearGradient id="g4_375" gradientUnits="userSpaceOnUse" x1="0" y1="880.8" x2="0" y2="1048.8"><stop offset="0.000" stop-color="#ffff00"/><stop offset="0.127" stop-color="#d5d528"/><stop offset="0.253" stop-color="#a7a755"/><stop offset="0.358" stop-color="#8a8a70"/><stop offset="0.422" stop-color="#7d7d7d"/><stop offset="0.595" stop-color="#6d6d8e"/><stop offset="0.769" stop-color="#4848b4"/><stop offset="0.913" stop-color="#1c1ce2"/><stop offset="1.000" stop-color="#0000ff"/></linearGradient><linearGradient id="g4_380" gradientUnits="userSpaceOnUse" x1="0" y1="881.3" x2="0" y2="1048.9"><stop offset="0.000" stop-color="#ffff00"/><stop offset="0.128" stop-color="#d5d528"/><stop offset="0.255" stop-color="#a7a755"/><stop offset="0.362" stop-color="#8a8a70"/><stop offset="0.426" stop-color="#7d7d7d"/><stop offset="0.598" stop-color="#6d6d8e"/><stop offset="0.770" stop-color="#4848b4"/><stop offset="0.914" stop-color="#1c1ce2"/><stop offset="1.000" stop-color="#0000ff"/></linearGradient><linearGradient id="g4_385" gradientUnits="userSpaceOnUse" x1="0" y1="881.8" x2="0" y2="1049.0"><stop offset="0.000" stop-color="#ffff00"/><stop offset="0.129" stop-color="#d5d528"/><stop offset="0.258" stop-color="#a7a755"/><stop offset="0.365" stop-color="#8a8a70"/><stop offset="0.430" stop-color="#7d7d7d"/><stop offset="0.601" stop-color="#6d6d8e"/><stop offset="0.772" stop-color="#4848b4"/><stop offset="0.914" stop-color="#1c1ce2"/><stop offset="1.000" stop-color="#0000ff"/></linearGradient><linearGradient id="g4_390" gradientUnits="userSpaceOnUse" x1="0" y1="882.3" x2="0" y2="1049.1"><stop offset="0.000" stop-color="#ffff00"/><stop offset="0.130" stop-color="#d5d528"/><stop offset="0.260" stop-color="#a7a755"/><stop offset="0.369" stop-color="#8a8a70"/><stop offset="0.434" stop-color="#7d7d7d"/><stop offset="0.604" stop-color="#6d6d8e"/><stop offset="0.774" stop-color="#4848b4"/><stop offset="0.915" stop-color="#1c1ce2"/><stop offset="1.000" stop-color="#0000ff"/></linearGradient><linearGradient id="g4_395" gradientUnits="userSpaceOnUse" x1="0" y1="882.8" x2="0" y2="1049.2"><stop offset="0.000" stop-color="#ffff00"/><stop offset="0.131" stop-color="#d5d528"/><stop offset="0.263" stop-color="#a7a755"/><stop offset="0.372" stop-color="#8a8a70"/><stop offset="0.438" stop-color="#7d7d7d"/><stop offset="0.607" stop-color="#6d6d8e"/><stop offset="0.775" stop-color="#4848b4"/><stop offset="0.916" stop-color="#1c1ce2"/><stop offset="1.000" stop-color="#0000ff"/></linearGradient><linearGradient id="g4_400" gradientUnits="userSpaceOnUse" x1="0" y1="883.4" x2="0" y2="1049.3"><stop offset="0.000" stop-color="#ffff00"/><stop offset="0.133" stop-color="#d5d528"/><stop offset="0.265" stop-color="#a7a755"/><stop offset="0.376" stop-color="#8a8a70"/><stop offset="0.442" stop-color="#7d7d7d"/><stop offset="0.610" stop-color="#6d6d8e"/><stop offset="0.777" stop-color="#4848b4"/><stop offset="0.916" stop-color="#1c1ce2"/><stop offset="1.000" stop-color="#0000ff"/></linearGradient><linearGradient id="g4_405" gradientUnits="userSpaceOnUse" x1="0" y1="883.9" x2="0" y2="1049.4"><stop offset="0.000" stop-color="#ffff00"/><stop offset="0.134" stop-color="#d5d528"/><stop offset="0.268" stop-color="#a7a755"/><stop offset="0.380" stop-color="#8a8a70"/><stop offset="0.447" stop-color="#7d7d7d"/><stop offset="0.613" stop-color="#6d6d8e"/><stop offset="0.779" stop-color="#4848b4"/><stop offset="0.917" stop-color="#1c1ce2"/><stop offset="1.000" stop-color="#0000ff"/></linearGradient><linearGradient id="g4_410" gradientUnits="userSpaceOnUse" x1="0" y1="884.5" x2="0" y2="1049.5"><stop offset="0.000" stop-color="#ffff00"/><stop offset="0.135" stop-color="#d5d528"/><stop offset="0.271" stop-color="#a7a755"/><stop offset="0.383" stop-color="#8a8a70"/><stop offset="0.451" stop-color="#7d7d7d"/><stop offset="0.616" stop-color="#6d6d8e"/><stop offset="0.780" stop-color="#4848b4"/><stop offset="0.918" stop-color="#1c1ce2"/><stop offset="1.000" stop-color="#0000ff"/></linearGradient><linearGradient id="g4_415" gradientUnits="userSpaceOnUse" x1="0" y1="885.0" x2="0" y2="1049.6"><stop offset="0.000" stop-color="#ffff00"/><stop offset="0.137" stop-color="#d5d528"/><stop offset="0.273" stop-color="#a7a755"/><stop offset="0.387" stop-color="#8a8a70"/><stop offset="0.456" stop-color="#7d7d7d"/><stop offset="0.619" stop-color="#6d6d8e"/><stop offset="0.782" stop-color="#4848b4"/><stop offset="0.918" stop-color="#1c1ce2"/><stop offset="1.000" stop-color="#0000ff"/></linearGradient><linearGradient id="g4_420" gradientUnits="userSpaceOnUse" x1="0" y1="885.5" x2="0" y2="1049.7"><stop offset="0.000" stop-color="#ffff00"/><stop offset="0.138" stop-color="#d5d528"/><stop offset="0.276" stop-color="#a7a755"/><stop offset="0.391" stop-color="#8a8a70"/><stop offset="0.460" stop-color="#7d7d7d"/><stop offset="0.622" stop-color="#6d6d8e"/><stop offset="0.784" stop-color="#4848b4"/><stop offset="0.919" stop-color="#1c1ce2"/><stop offset="1.000" stop-color="#0000ff"/></linearGradient><linearGradient id="g4_425" gradientUnits="userSpaceOnUse" x1="0" y1="886.1" x2="0" y2="1049.8"><stop offset="0.000" stop-color="#ffff00"/><stop offset="0.139" stop-color="#d5d528"/><stop offset="0.279" stop-color="#a7a755"/><stop offset="0.395" stop-color="#8a8a70"/><stop offset="0.464" stop-color="#7d7d7d"/><stop offset="0.625" stop-color="#6d6d8e"/><stop offset="0.786" stop-color="#4848b4"/><stop offset="0.920" stop-color="#1c1ce2"/><stop offset="1.000" stop-color="#0000ff"/></linearGradient><linearGradient id="g4_430" gradientUnits="userSpaceOnUse" x1="0" y1="886.6" x2="0" y2="1049.9"><stop offset="0.000" stop-color="#ffff00"/><stop offset="0.141" stop-color="#d5d528"/><stop offset="0.281" stop-color="#a7a755"/><stop offset="0.399" stop-color="#8a8a70"/><stop offset="0.469" stop-color="#7d7d7d"/><stop offset="0.628" stop-color="#6d6d8e"/><stop offset="0.788" stop-color="#4848b4"/><stop offset="0.920" stop-color="#1c1ce2"/><stop offset="1.000" stop-color="#0000ff"/></linearGradient><linearGradient id="g4_435" gradientUnits="userSpaceOnUse" x1="0" y1="887.1" x2="0" y2="1050.0"><stop offset="0.000" stop-color="#ffff00"/><stop offset="0.142" stop-color="#d5d528"/><stop offset="0.284" stop-color="#a7a755"/><stop offset="0.402" stop-color="#8a8a70"/><stop offset="0.473" stop-color="#7d7d7d"/><stop offset="0.631" stop-color="#6d6d8e"/><stop offset="0.789" stop-color="#4848b4"/><stop offset="0.921" stop-color="#1c1ce2"/><stop offset="1.000" stop-color="#0000ff"/></linearGradient><linearGradient id="g4_440" gradientUnits="userSpaceOnUse" x1="0" y1="887.7" x2="0" y2="1050.1"><stop offset="0.000" stop-color="#ffff00"/><stop offset="0.143" stop-color="#d5d528"/><stop offset="0.287" stop-color="#a7a755"/><stop offset="0.406" stop-color="#8a8a70"/><stop offset="0.478" stop-color="#7d7d7d"/><stop offset="0.635" stop-color="#6d6d8e"/><stop offset="0.791" stop-color="#4848b4"/><stop offset="0.922" stop-color="#1c1ce2"/><stop offset="1.000" stop-color="#0000ff"/></linearGradient><linearGradient id="g4_445" gradientUnits="userSpaceOnUse" x1="0" y1="888.1" x2="0" y2="1050.2"><stop offset="0.000" stop-color="#ffff00"/><stop offset="0.145" stop-color="#d5d528"/><stop offset="0.289" stop-color="#a7a755"/><stop offset="0.410" stop-color="#8a8a70"/><stop offset="0.482" stop-color="#7d7d7d"/><stop offset="0.637" stop-color="#6d6d8e"/><stop offset="0.793" stop-color="#4848b4"/><stop offset="0.922" stop-color="#1c1ce2"/><stop offset="1.000" stop-color="#0000ff"/></linearGradient><linearGradient id="g4_450" gradientUnits="userSpaceOnUse" x1="0" y1="888.5" x2="0" y2="1050.3"><stop offset="0.000" stop-color="#ffff00"/><stop offset="0.146" stop-color="#d5d528"/><stop offset="0.291" stop-color="#a7a755"/><stop offset="0.412" stop-color="#8a8a70"/><stop offset="0.485" stop-color="#7d7d7d"/><stop offset="0.640" stop-color="#6d6d8e"/><stop offset="0.794" stop-color="#4848b4"/><stop offset="0.923" stop-color="#1c1ce2"/><stop offset="1.000" stop-color="#0000ff"/></linearGradient><linearGradient id="g4_455" gradientUnits="userSpaceOnUse" x1="0" y1="888.8" x2="0" y2="1050.4"><stop offset="0.000" stop-color="#ffff00"/><stop offset="0.146" stop-color="#d5d528"/><stop offset="0.293" stop-color="#a7a755"/><stop offset="0.415" stop-color="#8a8a70"/><stop offset="0.488" stop-color="#7d7d7d"/><stop offset="0.642" stop-color="#6d6d8e"/><stop offset="0.795" stop-color="#4848b4"/><stop offset="0.923" stop-color="#1c1ce2"/><stop offset="1.000" stop-color="#0000ff"/></linearGradient><linearGradient id="g4_460" gradientUnits="userSpaceOnUse" x1="0" y1="889.2" x2="0" y2="1050.4"><stop offset="0.000" stop-color="#ffff00"/><stop offset="0.147" stop-color="#d5d528"/><stop offset="0.295" stop-color="#a7a755"/><stop offset="0.418" stop-color="#8a8a70"/><stop offset="0.491" stop-color="#7d7d7d"/><stop offset="0.644" stop-color="#6d6d8e"/><stop offset="0.796" stop-color="#4848b4"/><stop offset="0.924" stop-color="#1c1ce2"/><stop offset="1.000" stop-color="#0000ff"/></linearGradient><linearGradient id="g4_465" gradientUnits="userSpaceOnUse" x1="0" y1="889.6" x2="0" y2="1050.5"><stop offset="0.000" stop-color="#ffff00"/><stop offset="0.148" stop-color="#d5d528"/><stop offset="0.297" stop-color="#a7a755"/><stop offset="0.420" stop-color="#8a8a70"/><stop offset="0.494" stop-color="#7d7d7d"/><stop offset="0.646" stop-color="#6d6d8e"/><stop offset="0.798" stop-color="#4848b4"/><stop offset="0.924" stop-color="#1c1ce2"/><stop offset="1.000" stop-color="#0000ff"/></linearGradient><linearGradient id="g4_470" gradientUnits="userSpaceOnUse" x1="0" y1="889.9" x2="0" y2="1050.6"><stop offset="0.000" stop-color="#ffff00"/><stop offset="0.149" stop-color="#d5d528"/><stop offset="0.298" stop-color="#a7a755"/><stop offset="0.423" stop-color="#8a8a70"/><stop offset="0.497" stop-color="#7d7d7d"/><stop offset="0.648" stop-color="#6d6d8e"/><stop offset="0.799" stop-color="#4848b4"/><stop offset="0.925" stop-color="#1c1ce2"/><stop offset="1.000" stop-color="#0000ff"/></linearGradient><linearGradient id="g4_475" gradientUnits="userSpaceOnUse" x1="0" y1="890.3" x2="0" y2="1050.7"><stop offset="0.000" stop-color="#ffff00"/><stop offset="0.150" stop-color="#d5d528"/><stop offset="0.300" stop-color="#a7a755"/><stop offset="0.425" stop-color="#8a8a70"/><stop offset="0.501" stop-color="#7d7d7d"/><stop offset="0.650" stop-color="#6d6d8e"/><stop offset="0.800" stop-color="#4848b4"/><stop offset="0.925" stop-color="#1c1ce2"/><stop offset="1.000" stop-color="#0000ff"/></linearGradient><linearGradient id="g4_480" gradientUnits="userSpaceOnUse" x1="0" y1="890.7" x2="0" y2="1050.7"><stop offset="0.000" stop-color="#ffff00"/><stop offset="0.151" stop-color="#d5d528"/><stop offset="0.302" stop-color="#a7a755"/><stop offset="0.428" stop-color="#8a8a70"/><stop offset="0.504" stop-color="#7d7d7d"/><stop offset="0.653" stop-color="#6d6d8e"/><stop offset="0.802" stop-color="#4848b4"/><stop offset="0.926" stop-color="#1c1ce2"/><stop offset="1.000" stop-color="#0000ff"/></linearGradient><linearGradient id="g4_485" gradientUnits="userSpaceOnUse" x1="0" y1="891.1" x2="0" y2="1050.8"><stop offset="0.000" stop-color="#ffff00"/><stop offset="0.152" stop-color="#d5d528"/><stop offset="0.304" stop-color="#a7a755"/><stop offset="0.431" stop-color="#8a8a70"/><stop offset="0.507" stop-color="#7d7d7d"/><stop offset="0.655" stop-color="#6d6d8e"/><stop offset="0.803" stop-color="#4848b4"/><stop offset="0.926" stop-color="#1c1ce2"/><stop offset="1.000" stop-color="#0000ff"/></linearGradient><linearGradient id="g4_490" gradientUnits="userSpaceOnUse" x1="0" y1="891.4" x2="0" y2="1050.9"><stop offset="0.000" stop-color="#ffff00"/><stop offset="0.153" stop-color="#d5d528"/><stop offset="0.306" stop-color="#a7a755"/><stop offset="0.434" stop-color="#8a8a70"/><stop offset="0.511" stop-color="#7d7d7d"/><stop offset="0.658" stop-color="#6d6d8e"/><stop offset="0.804" stop-color="#4848b4"/><stop offset="0.927" stop-color="#1c1ce2"/><stop offset="1.000" stop-color="#0000ff"/></linearGradient><linearGradient id="g4_495" gradientUnits="userSpaceOnUse" x1="0" y1="891.8" x2="0" y2="1051.0"><stop offset="0.000" stop-color="#ffff00"/><stop offset="0.154" stop-color="#d5d528"/><stop offset="0.309" stop-color="#a7a755"/><stop offset="0.437" stop-color="#8a8a70"/><stop offset="0.514" stop-color="#7d7d7d"/><stop offset="0.660" stop-color="#6d6d8e"/><stop offset="0.806" stop-color="#4848b4"/><stop offset="0.927" stop-color="#1c1ce2"/><stop offset="1.000" stop-color="#0000ff"/></linearGradient><linearGradient id="g4_500" gradientUnits="userSpaceOnUse" x1="0" y1="892.2" x2="0" y2="1051.0"><stop offset="0.000" stop-color="#ffff00"/><stop offset="0.155" stop-color="#d5d528"/><stop offset="0.311" stop-color="#a7a755"/><stop offset="0.440" stop-color="#8a8a70"/><stop offset="0.518" stop-color="#7d7d7d"/><stop offset="0.662" stop-color="#6d6d8e"/><stop offset="0.807" stop-color="#4848b4"/><stop offset="0.928" stop-color="#1c1ce2"/><stop offset="1.000" stop-color="#0000ff"/></linearGradient><linearGradient id="g4_505" gradientUnits="userSpaceOnUse" x1="0" y1="892.6" x2="0" y2="1051.1"><stop offset="0.000" stop-color="#ffff00"/><stop offset="0.156" stop-color="#d5d528"/><stop offset="0.313" stop-color="#a7a755"/><stop offset="0.443" stop-color="#8a8a70"/><stop offset="0.521" stop-color="#7d7d7d"/><stop offset="0.665" stop-color="#6d6d8e"/><stop offset="0.808" stop-color="#4848b4"/><stop offset="0.928" stop-color="#1c1ce2"/><stop offset="1.000" stop-color="#0000ff"/></linearGradient><linearGradient id="g4_510" gradientUnits="userSpaceOnUse" x1="0" y1="892.9" x2="0" y2="1051.2"><stop offset="0.000" stop-color="#ffff00"/><stop offset="0.157" stop-color="#d5d528"/><stop offset="0.314" stop-color="#a7a755"/><stop offset="0.445" stop-color="#8a8a70"/><stop offset="0.524" stop-color="#7d7d7d"/><stop offset="0.667" stop-color="#6d6d8e"/><stop offset="0.810" stop-color="#4848b4"/><stop offset="0.929" stop-color="#1c1ce2"/><stop offset="1.000" stop-color="#0000ff"/></linearGradient><linearGradient id="g4_515" gradientUnits="userSpaceOnUse" x1="0" y1="893.1" x2="0" y2="1051.2"><stop offset="0.000" stop-color="#ffff00"/><stop offset="0.158" stop-color="#d5d528"/><stop offset="0.315" stop-color="#a7a755"/><stop offset="0.447" stop-color="#8a8a70"/><stop offset="0.525" stop-color="#7d7d7d"/><stop offset="0.668" stop-color="#6d6d8e"/><stop offset="0.810" stop-color="#4848b4"/><stop offset="0.929" stop-color="#1c1ce2"/><stop offset="1.000" stop-color="#0000ff"/></linearGradient><linearGradient id="g4_520" gradientUnits="userSpaceOnUse" x1="0" y1="893.3" x2="0" y2="1051.3"><stop offset="0.000" stop-color="#ffff00"/><stop offset="0.158" stop-color="#d5d528"/><stop offset="0.316" stop-color="#a7a755"/><stop offset="0.448" stop-color="#8a8a70"/><stop offset="0.527" stop-color="#7d7d7d"/><stop offset="0.669" stop-color="#6d6d8e"/><stop offset="0.811" stop-color="#4848b4"/><stop offset="0.929" stop-color="#1c1ce2"/><stop offset="1.000" stop-color="#0000ff"/></linearGradient><linearGradient id="g4_525" gradientUnits="userSpaceOnUse" x1="0" y1="893.4" x2="0" y2="1051.3"><stop offset="0.000" stop-color="#ffff00"/><stop offset="0.158" stop-color="#d5d528"/><stop offset="0.317" stop-color="#a7a755"/><stop offset="0.449" stop-color="#8a8a70"/><stop offset="0.528" stop-color="#7d7d7d"/><stop offset="0.669" stop-color="#6d6d8e"/><stop offset="0.811" stop-color="#4848b4"/><stop offset="0.929" stop-color="#1c1ce2"/><stop offset="1.000" stop-color="#0000ff"/></linearGradient><linearGradient id="g4_530" gradientUnits="userSpaceOnUse" x1="0" y1="893.4" x2="0" y2="1051.3"><stop offset="0.000" stop-color="#ffff00"/><stop offset="0.158" stop-color="#d5d528"/><stop offset="0.317" stop-color="#a7a755"/><stop offset="0.449" stop-color="#8a8a70"/><stop offset="0.528" stop-color="#7d7d7d"/><stop offset="0.669" stop-color="#6d6d8e"/><stop offset="0.811" stop-color="#4848b4"/><stop offset="0.929" stop-color="#1c1ce2"/><stop offset="1.000" stop-color="#0000ff"/></linearGradient><linearGradient id="g4_535" gradientUnits="userSpaceOnUse" x1="0" y1="893.4" x2="0" y2="1051.3"><stop offset="0.000" stop-color="#ffff00"/><stop offset="0.158" stop-color="#d5d528"/><stop offset="0.317" stop-color="#a7a755"/><stop offset="0.449" stop-color="#8a8a70"/><stop offset="0.528" stop-color="#7d7d7d"/><stop offset="0.669" stop-color="#6d6d8e"/><stop offset="0.811" stop-color="#4848b4"/><stop offset="0.929" stop-color="#1c1ce2"/><stop offset="1.000" stop-color="#0000ff"/></linearGradient><linearGradient id="g4_540" gradientUnits="userSpaceOnUse" x1="0" y1="893.4" x2="0" y2="1051.3"><stop offset="0.000" stop-color="#ffff00"/><stop offset="0.158" stop-color="#d5d528"/><stop offset="0.317" stop-color="#a7a755"/><stop offset="0.449" stop-color="#8a8a70"/><stop offset="0.528" stop-color="#7d7d7d"/><stop offset="0.669" stop-color="#6d6d8e"/><stop offset="0.811" stop-color="#4848b4"/><stop offset="0.929" stop-color="#1c1ce2"/><stop offset="1.000" stop-color="#0000ff"/></linearGradient><linearGradient id="g4_545" gradientUnits="userSpaceOnUse" x1="0" y1="893.4" x2="0" y2="1051.3"><stop offset="0.000" stop-color="#ffff00"/><stop offset="0.158" stop-color="#d5d528"/><stop offset="0.317" stop-color="#a7a755"/><stop offset="0.449" stop-color="#8a8a70"/><stop offset="0.528" stop-color="#7d7d7d"/><stop offset="0.669" stop-color="#6d6d8e"/><stop offset="0.811" stop-color="#4848b4"/><stop offset="0.929" stop-color="#1c1ce2"/><stop offset="1.000" stop-color="#0000ff"/></linearGradient><linearGradient id="g4_550" gradientUnits="userSpaceOnUse" x1="0" y1="893.4" x2="0" y2="1051.3"><stop offset="0.000" stop-color="#ffff00"/><stop offset="0.158" stop-color="#d5d528"/><stop offset="0.317" stop-color="#a7a755"/><stop offset="0.449" stop-color="#8a8a70"/><stop offset="0.528" stop-color="#7d7d7d"/><stop offset="0.669" stop-color="#6d6d8e"/><stop offset="0.811" stop-color="#4848b4"/><stop offset="0.929" stop-color="#1c1ce2"/><stop offset="1.000" stop-color="#0000ff"/></linearGradient><linearGradient id="g4_555" gradientUnits="userSpaceOnUse" x1="0" y1="893.4" x2="0" y2="1051.3"><stop offset="0.000" stop-color="#ffff00"/><stop offset="0.158" stop-color="#d5d528"/><stop offset="0.317" stop-color="#a7a755"/><stop offset="0.449" stop-color="#8a8a70"/><stop offset="0.528" stop-color="#7d7d7d"/><stop offset="0.669" stop-color="#6d6d8e"/><stop offset="0.811" stop-color="#4848b4"/><stop offset="0.929" stop-color="#1c1ce2"/><stop offset="1.000" stop-color="#0000ff"/></linearGradient><linearGradient id="g4_560" gradientUnits="userSpaceOnUse" x1="0" y1="893.4" x2="0" y2="1051.3"><stop offset="0.000" stop-color="#ffff00"/><stop offset="0.158" stop-color="#d5d528"/><stop offset="0.317" stop-color="#a7a755"/><stop offset="0.449" stop-color="#8a8a70"/><stop offset="0.528" stop-color="#7d7d7d"/><stop offset="0.669" stop-color="#6d6d8e"/><stop offset="0.811" stop-color="#4848b4"/><stop offset="0.929" stop-color="#1c1ce2"/><stop offset="1.000" stop-color="#0000ff"/></linearGradient><linearGradient id="g4_565" gradientUnits="userSpaceOnUse" x1="0" y1="893.4" x2="0" y2="1051.3"><stop offset="0.000" stop-color="#ffff00"/><stop offset="0.158" stop-color="#d5d528"/><stop offset="0.317" stop-color="#a7a755"/><stop offset="0.449" stop-color="#8a8a70"/><stop offset="0.528" stop-color="#7d7d7d"/><stop offset="0.669" stop-color="#6d6d8e"/><stop offset="0.811" stop-color="#4848b4"/><stop offset="0.929" stop-color="#1c1ce2"/><stop offset="1.000" stop-color="#0000ff"/></linearGradient><linearGradient id="g4_570" gradientUnits="userSpaceOnUse" x1="0" y1="893.4" x2="0" y2="1051.3"><stop offset="0.000" stop-color="#ffff00"/><stop offset="0.158" stop-color="#d5d528"/><stop offset="0.317" stop-color="#a7a755"/><stop offset="0.449" stop-color="#8a8a70"/><stop offset="0.528" stop-color="#7d7d7d"/><stop offset="0.669" stop-color="#6d6d8e"/><stop offset="0.811" stop-color="#4848b4"/><stop offset="0.929" stop-color="#1c1ce2"/><stop offset="1.000" stop-color="#0000ff"/></linearGradient><linearGradient id="g4_575" gradientUnits="userSpaceOnUse" x1="0" y1="893.4" x2="0" y2="1051.3"><stop offset="0.000" stop-color="#ffff00"/><stop offset="0.158" stop-color="#d5d528"/><stop offset="0.317" stop-color="#a7a755"/><stop offset="0.449" stop-color="#8a8a70"/><stop offset="0.528" stop-color="#7d7d7d"/><stop offset="0.669" stop-color="#6d6d8e"/><stop offset="0.811" stop-color="#4848b4"/><stop offset="0.929" stop-color="#1c1ce2"/><stop offset="1.000" stop-color="#0000ff"/></linearGradient><linearGradient id="g4_580" gradientUnits="userSpaceOnUse" x1="0" y1="893.3" x2="0" y2="1051.3"><stop offset="0.000" stop-color="#ffff00"/><stop offset="0.158" stop-color="#d5d528"/><stop offset="0.317" stop-color="#a7a755"/><stop offset="0.449" stop-color="#8a8a70"/><stop offset="0.528" stop-color="#7d7d7d"/><stop offset="0.669" stop-color="#6d6d8e"/><stop offset="0.811" stop-color="#4848b4"/><stop offset="0.929" stop-color="#1c1ce2"/><stop offset="1.000" stop-color="#0000ff"/></linearGradient><linearGradient id="g4_585" gradientUnits="userSpaceOnUse" x1="0" y1="893.3" x2="0" y2="1051.3"><stop offset="0.000" stop-color="#ffff00"/><stop offset="0.158" stop-color="#d5d528"/><stop offset="0.316" stop-color="#a7a755"/><stop offset="0.448" stop-color="#8a8a70"/><stop offset="0.527" stop-color="#7d7d7d"/><stop offset="0.669" stop-color="#6d6d8e"/><stop offset="0.811" stop-color="#4848b4"/><stop offset="0.929" stop-color="#1c1ce2"/><stop offset="1.000" stop-color="#0000ff"/></linearGradient><linearGradient id="g4_590" gradientUnits="userSpaceOnUse" x1="0" y1="893.2" x2="0" y2="1051.2"><stop offset="0.000" stop-color="#ffff00"/><stop offset="0.158" stop-color="#d5d528"/><stop offset="0.316" stop-color="#a7a755"/><stop offset="0.448" stop-color="#8a8a70"/><stop offset="0.527" stop-color="#7d7d7d"/><stop offset="0.669" stop-color="#6d6d8e"/><stop offset="0.811" stop-color="#4848b4"/><stop offset="0.929" stop-color="#1c1ce2"/><stop offset="1.000" stop-color="#0000ff"/></linearGradient><linearGradient id="g4_595" gradientUnits="userSpaceOnUse" x1="0" y1="893.2" x2="0" y2="1051.2"><stop offset="0.000" stop-color="#ffff00"/><stop offset="0.158" stop-color="#d5d528"/><stop offset="0.316" stop-color="#a7a755"/><stop offset="0.447" stop-color="#8a8a70"/><stop offset="0.526" stop-color="#7d7d7d"/><stop offset="0.668" stop-color="#6d6d8e"/><stop offset="0.810" stop-color="#4848b4"/><stop offset="0.929" stop-color="#1c1ce2"/><stop offset="1.000" stop-color="#0000ff"/></linearGradient><linearGradient id="g4_600" gradientUnits="userSpaceOnUse" x1="0" y1="893.1" x2="0" y2="1051.2"><stop offset="0.000" stop-color="#ffff00"/><stop offset="0.158" stop-color="#d5d528"/><stop offset="0.315" stop-color="#a7a755"/><stop offset="0.447" stop-color="#8a8a70"/><stop offset="0.525" stop-color="#7d7d7d"/><stop offset="0.668" stop-color="#6d6d8e"/><stop offset="0.810" stop-color="#4848b4"/><stop offset="0.929" stop-color="#1c1ce2"/><stop offset="1.000" stop-color="#0000ff"/></linearGradient><linearGradient id="g4_605" gradientUnits="userSpaceOnUse" x1="0" y1="893.0" x2="0" y2="1051.2"><stop offset="0.000" stop-color="#ffff00"/><stop offset="0.157" stop-color="#d5d528"/><stop offset="0.315" stop-color="#a7a755"/><stop offset="0.446" stop-color="#8a8a70"/><stop offset="0.525" stop-color="#7d7d7d"/><stop offset="0.667" stop-color="#6d6d8e"/><stop offset="0.810" stop-color="#4848b4"/><stop offset="0.929" stop-color="#1c1ce2"/><stop offset="1.000" stop-color="#0000ff"/></linearGradient><linearGradient id="g4_610" gradientUnits="userSpaceOnUse" x1="0" y1="893.0" x2="0" y2="1051.2"><stop offset="0.000" stop-color="#ffff00"/><stop offset="0.157" stop-color="#d5d528"/><stop offset="0.315" stop-color="#a7a755"/><stop offset="0.446" stop-color="#8a8a70"/><stop offset="0.525" stop-color="#7d7d7d"/><stop offset="0.667" stop-color="#6d6d8e"/><stop offset="0.810" stop-color="#4848b4"/><stop offset="0.929" stop-color="#1c1ce2"/><stop offset="1.000" stop-color="#0000ff"/></linearGradient><linearGradient id="g4_615" gradientUnits="userSpaceOnUse" x1="0" y1="893.0" x2="0" y2="1051.2"><stop offset="0.000" stop-color="#ffff00"/><stop offset="0.157" stop-color="#d5d528"/><stop offset="0.315" stop-color="#a7a755"/><stop offset="0.446" stop-color="#8a8a70"/><stop offset="0.524" stop-color="#7d7d7d"/><stop offset="0.667" stop-color="#6d6d8e"/><stop offset="0.810" stop-color="#4848b4"/><stop offset="0.929" stop-color="#1c1ce2"/><stop offset="1.000" stop-color="#0000ff"/></linearGradient><linearGradient id="g4_620" gradientUnits="userSpaceOnUse" x1="0" y1="893.0" x2="0" y2="1051.2"><stop offset="0.000" stop-color="#ffff00"/><stop offset="0.157" stop-color="#d5d528"/><stop offset="0.315" stop-color="#a7a755"/><stop offset="0.446" stop-color="#8a8a70"/><stop offset="0.524" stop-color="#7d7d7d"/><stop offset="0.667" stop-color="#6d6d8e"/><stop offset="0.810" stop-color="#4848b4"/><stop offset="0.929" stop-color="#1c1ce2"/><stop offset="1.000" stop-color="#0000ff"/></linearGradient><linearGradient id="g4_625" gradientUnits="userSpaceOnUse" x1="0" y1="892.9" x2="0" y2="1051.2"><stop offset="0.000" stop-color="#ffff00"/><stop offset="0.157" stop-color="#d5d528"/><stop offset="0.314" stop-color="#a7a755"/><stop offset="0.445" stop-color="#8a8a70"/><stop offset="0.524" stop-color="#7d7d7d"/><stop offset="0.667" stop-color="#6d6d8e"/><stop offset="0.810" stop-color="#4848b4"/><stop offset="0.929" stop-color="#1c1ce2"/><stop offset="1.000" stop-color="#0000ff"/></linearGradient><linearGradient id="g4_630" gradientUnits="userSpaceOnUse" x1="0" y1="892.9" x2="0" y2="1051.2"><stop offset="0.000" stop-color="#ffff00"/><stop offset="0.157" stop-color="#d5d528"/><stop offset="0.314" stop-color="#a7a755"/><stop offset="0.445" stop-color="#8a8a70"/><stop offset="0.524" stop-color="#7d7d7d"/><stop offset="0.667" stop-color="#6d6d8e"/><stop offset="0.810" stop-color="#4848b4"/><stop offset="0.929" stop-color="#1c1ce2"/><stop offset="1.000" stop-color="#0000ff"/></linearGradient><linearGradient id="g4_635" gradientUnits="userSpaceOnUse" x1="0" y1="892.9" x2="0" y2="1051.2"><stop offset="0.000" stop-color="#ffff00"/><stop offset="0.157" stop-color="#d5d528"/><stop offset="0.314" stop-color="#a7a755"/><stop offset="0.445" stop-color="#8a8a70"/><stop offset="0.524" stop-color="#7d7d7d"/><stop offset="0.667" stop-color="#6d6d8e"/><stop offset="0.810" stop-color="#4848b4"/><stop offset="0.929" stop-color="#1c1ce2"/><stop offset="1.000" stop-color="#0000ff"/></linearGradient><linearGradient id="g4_640" gradientUnits="userSpaceOnUse" x1="0" y1="892.9" x2="0" y2="1051.2"><stop offset="0.000" stop-color="#ffff00"/><stop offset="0.157" stop-color="#d5d528"/><stop offset="0.314" stop-color="#a7a755"/><stop offset="0.445" stop-color="#8a8a70"/><stop offset="0.524" stop-color="#7d7d7d"/><stop offset="0.667" stop-color="#6d6d8e"/><stop offset="0.809" stop-color="#4848b4"/><stop offset="0.929" stop-color="#1c1ce2"/><stop offset="1.000" stop-color="#0000ff"/></linearGradient><linearGradient id="g4_645" gradientUnits="userSpaceOnUse" x1="0" y1="892.9" x2="0" y2="1051.2"><stop offset="0.000" stop-color="#ffff00"/><stop offset="0.157" stop-color="#d5d528"/><stop offset="0.314" stop-color="#a7a755"/><stop offset="0.445" stop-color="#8a8a70"/><stop offset="0.523" stop-color="#7d7d7d"/><stop offset="0.666" stop-color="#6d6d8e"/><stop offset="0.809" stop-color="#4848b4"/><stop offset="0.929" stop-color="#1c1ce2"/><stop offset="1.000" stop-color="#0000ff"/></linearGradient><linearGradient id="g4_650" gradientUnits="userSpaceOnUse" x1="0" y1="892.9" x2="0" y2="1051.2"><stop offset="0.000" stop-color="#ffff00"/><stop offset="0.157" stop-color="#d5d528"/><stop offset="0.314" stop-color="#a7a755"/><stop offset="0.445" stop-color="#8a8a70"/><stop offset="0.523" stop-color="#7d7d7d"/><stop offset="0.666" stop-color="#6d6d8e"/><stop offset="0.809" stop-color="#4848b4"/><stop offset="0.928" stop-color="#1c1ce2"/><stop offset="1.000" stop-color="#0000ff"/></linearGradient><linearGradient id="g4_655" gradientUnits="userSpaceOnUse" x1="0" y1="892.8" x2="0" y2="1051.2"><stop offset="0.000" stop-color="#ffff00"/><stop offset="0.157" stop-color="#d5d528"/><stop offset="0.314" stop-color="#a7a755"/><stop offset="0.445" stop-color="#8a8a70"/><stop offset="0.523" stop-color="#7d7d7d"/><stop offset="0.666" stop-color="#6d6d8e"/><stop offset="0.809" stop-color="#4848b4"/><stop offset="0.928" stop-color="#1c1ce2"/><stop offset="1.000" stop-color="#0000ff"/></linearGradient><linearGradient id="g4_660" gradientUnits="userSpaceOnUse" x1="0" y1="892.8" x2="0" y2="1051.2"><stop offset="0.000" stop-color="#ffff00"/><stop offset="0.157" stop-color="#d5d528"/><stop offset="0.314" stop-color="#a7a755"/><stop offset="0.445" stop-color="#8a8a70"/><stop offset="0.523" stop-color="#7d7d7d"/><stop offset="0.666" stop-color="#6d6d8e"/><stop offset="0.809" stop-color="#4848b4"/><stop offset="0.928" stop-color="#1c1ce2"/><stop offset="1.000" stop-color="#0000ff"/></linearGradient><linearGradient id="g4_665" gradientUnits="userSpaceOnUse" x1="0" y1="892.8" x2="0" y2="1051.2"><stop offset="0.000" stop-color="#ffff00"/><stop offset="0.157" stop-color="#d5d528"/><stop offset="0.314" stop-color="#a7a755"/><stop offset="0.444" stop-color="#8a8a70"/><stop offset="0.523" stop-color="#7d7d7d"/><stop offset="0.666" stop-color="#6d6d8e"/><stop offset="0.809" stop-color="#4848b4"/><stop offset="0.928" stop-color="#1c1ce2"/><stop offset="1.000" stop-color="#0000ff"/></linearGradient><linearGradient id="g4_670" gradientUnits="userSpaceOnUse" x1="0" y1="892.4" x2="0" y2="1051.1"><stop offset="0.000" stop-color="#ffff00"/><stop offset="0.156" stop-color="#d5d528"/><stop offset="0.312" stop-color="#a7a755"/><stop offset="0.442" stop-color="#8a8a70"/><stop offset="0.520" stop-color="#7d7d7d"/><stop offset="0.664" stop-color="#6d6d8e"/><stop offset="0.808" stop-color="#4848b4"/><stop offset="0.928" stop-color="#1c1ce2"/><stop offset="1.000" stop-color="#0000ff"/></linearGradient><linearGradient id="g4_675" gradientUnits="userSpaceOnUse" x1="0" y1="892.1" x2="0" y2="1051.0"><stop offset="0.000" stop-color="#ffff00"/><stop offset="0.155" stop-color="#d5d528"/><stop offset="0.310" stop-color="#a7a755"/><stop offset="0.439" stop-color="#8a8a70"/><stop offset="0.517" stop-color="#7d7d7d"/><stop offset="0.662" stop-color="#6d6d8e"/><stop offset="0.807" stop-color="#4848b4"/><stop offset="0.928" stop-color="#1c1ce2"/><stop offset="1.000" stop-color="#0000ff"/></linearGradient><linearGradient id="g4_680" gradientUnits="userSpaceOnUse" x1="0" y1="891.8" x2="0" y2="1051.0"><stop offset="0.000" stop-color="#ffff00"/><stop offset="0.154" stop-color="#d5d528"/><stop offset="0.308" stop-color="#a7a755"/><stop offset="0.437" stop-color="#8a8a70"/><stop offset="0.514" stop-color="#7d7d7d"/><stop offset="0.660" stop-color="#6d6d8e"/><stop offset="0.806" stop-color="#4848b4"/><stop offset="0.927" stop-color="#1c1ce2"/><stop offset="1.000" stop-color="#0000ff"/></linearGradient><linearGradient id="g4_685" gradientUnits="userSpaceOnUse" x1="0" y1="891.5" x2="0" y2="1050.9"><stop offset="0.000" stop-color="#ffff00"/><stop offset="0.153" stop-color="#d5d528"/><stop offset="0.307" stop-color="#a7a755"/><stop offset="0.434" stop-color="#8a8a70"/><stop offset="0.511" stop-color="#7d7d7d"/><stop offset="0.658" stop-color="#6d6d8e"/><stop offset="0.804" stop-color="#4848b4"/><stop offset="0.927" stop-color="#1c1ce2"/><stop offset="1.000" stop-color="#0000ff"/></linearGradient><linearGradient id="g4_690" gradientUnits="userSpaceOnUse" x1="0" y1="891.1" x2="0" y2="1050.8"><stop offset="0.000" stop-color="#ffff00"/><stop offset="0.152" stop-color="#d5d528"/><stop offset="0.305" stop-color="#a7a755"/><stop offset="0.432" stop-color="#8a8a70"/><stop offset="0.508" stop-color="#7d7d7d"/><stop offset="0.656" stop-color="#6d6d8e"/><stop offset="0.803" stop-color="#4848b4"/><stop offset="0.926" stop-color="#1c1ce2"/><stop offset="1.000" stop-color="#0000ff"/></linearGradient><linearGradient id="g4_695" gradientUnits="userSpaceOnUse" x1="0" y1="890.8" x2="0" y2="1050.8"><stop offset="0.000" stop-color="#ffff00"/><stop offset="0.151" stop-color="#d5d528"/><stop offset="0.303" stop-color="#a7a755"/><stop offset="0.429" stop-color="#8a8a70"/><stop offset="0.505" stop-color="#7d7d7d"/><stop offset="0.653" stop-color="#6d6d8e"/><stop offset="0.802" stop-color="#4848b4"/><stop offset="0.926" stop-color="#1c1ce2"/><stop offset="1.000" stop-color="#0000ff"/></linearGradient><linearGradient id="g4_700" gradientUnits="userSpaceOnUse" x1="0" y1="890.4" x2="0" y2="1050.7"><stop offset="0.000" stop-color="#ffff00"/><stop offset="0.151" stop-color="#d5d528"/><stop offset="0.301" stop-color="#a7a755"/><stop offset="0.427" stop-color="#8a8a70"/><stop offset="0.502" stop-color="#7d7d7d"/><stop offset="0.651" stop-color="#6d6d8e"/><stop offset="0.801" stop-color="#4848b4"/><stop offset="0.925" stop-color="#1c1ce2"/><stop offset="1.000" stop-color="#0000ff"/></linearGradient><linearGradient id="g4_705" gradientUnits="userSpaceOnUse" x1="0" y1="890.1" x2="0" y2="1050.6"><stop offset="0.000" stop-color="#ffff00"/><stop offset="0.150" stop-color="#d5d528"/><stop offset="0.299" stop-color="#a7a755"/><stop offset="0.424" stop-color="#8a8a70"/><stop offset="0.499" stop-color="#7d7d7d"/><stop offset="0.649" stop-color="#6d6d8e"/><stop offset="0.800" stop-color="#4848b4"/><stop offset="0.925" stop-color="#1c1ce2"/><stop offset="1.000" stop-color="#0000ff"/></linearGradient><linearGradient id="g4_710" gradientUnits="userSpaceOnUse" x1="0" y1="889.8" x2="0" y2="1050.6"><stop offset="0.000" stop-color="#ffff00"/><stop offset="0.149" stop-color="#d5d528"/><stop offset="0.298" stop-color="#a7a755"/><stop offset="0.422" stop-color="#8a8a70"/><stop offset="0.496" stop-color="#7d7d7d"/><stop offset="0.647" stop-color="#6d6d8e"/><stop offset="0.798" stop-color="#4848b4"/><stop offset="0.924" stop-color="#1c1ce2"/><stop offset="1.000" stop-color="#0000ff"/></linearGradient><linearGradient id="g4_715" gradientUnits="userSpaceOnUse" x1="0" y1="889.4" x2="0" y2="1050.5"><stop offset="0.000" stop-color="#ffff00"/><stop offset="0.148" stop-color="#d5d528"/><stop offset="0.296" stop-color="#a7a755"/><stop offset="0.419" stop-color="#8a8a70"/><stop offset="0.493" stop-color="#7d7d7d"/><stop offset="0.645" stop-color="#6d6d8e"/><stop offset="0.797" stop-color="#4848b4"/><stop offset="0.924" stop-color="#1c1ce2"/><stop offset="1.000" stop-color="#0000ff"/></linearGradient><filter id="cmap" x="0" y="0" width="1020" height="1172" filterUnits="userSpaceOnUse" color-interpolation-filters="sRGB"><feComponentTransfer><feFuncR type="table" tableValues="0.000 0.016 0.031 0.047 0.063 0.078 0.094 0.110 0.125 0.141 0.157 0.173 0.188 0.204 0.220 0.235 0.259 0.282 0.306 0.329 0.353 0.384 0.416 0.447 0.478 0.510 0.525 0.541 0.557 0.573 0.588 0.612 0.635 0.659 0.682 0.706 0.725 0.745 0.765 0.784 0.804 0.825 0.846 0.867 0.889 0.910 0.928 0.946 0.964 0.982 1.000"/><feFuncG type="table" tableValues="0.000 0.055 0.110 0.165 0.220 0.275 0.322 0.369 0.416 0.463 0.510 0.549 0.588 0.627 0.667 0.706 0.745 0.784 0.824 0.863 0.902 0.918 0.933 0.949 0.965 0.980 0.957 0.933 0.910 0.886 0.863 0.826 0.789 0.752 0.715 0.678 0.638 0.598 0.558 0.518 0.478 0.436 0.394 0.351 0.309 0.267 0.213 0.160 0.107 0.053 0.000"/><feFuncB type="table" tableValues="1.000 0.980 0.961 0.941 0.922 0.902 0.886 0.871 0.855 0.839 0.824 0.800 0.776 0.753 0.729 0.706 0.682 0.659 0.635 0.612 0.588 0.557 0.525 0.494 0.463 0.431 0.416 0.400 0.384 0.369 0.353 0.337 0.322 0.306 0.290 0.275 0.259 0.243 0.227 0.212 0.196 0.180 0.165 0.149 0.133 0.118 0.094 0.071 0.047 0.024 0.000"/></feComponentTransfer></filter><filter id="blh" x="-5%" y="-5%" width="110%" height="110%" color-interpolation-filters="sRGB"><feGaussianBlur stdDeviation="2.5 1"/></filter><filter id="bl1" x="-50%" y="-50%" width="200%" height="200%" color-interpolation-filters="sRGB"><feGaussianBlur stdDeviation="1"/></filter><filter id="bl2" x="-50%" y="-50%" width="200%" height="200%" color-interpolation-filters="sRGB"><feGaussianBlur stdDeviation="2"/></filter><filter id="bl3" x="-50%" y="-50%" width="200%" height="200%" color-interpolation-filters="sRGB"><feGaussianBlur stdDeviation="3"/></filter><filter id="bl4" x="-50%" y="-50%" width="200%" height="200%" color-interpolation-filters="sRGB"><feGaussianBlur stdDeviation="4"/></filter><filter id="bl5" x="-50%" y="-50%" width="200%" height="200%" color-interpolation-filters="sRGB"><feGaussianBlur stdDeviation="5"/></filter><filter id="bl6" x="-50%" y="-50%" width="200%" height="200%" color-interpolation-filters="sRGB"><feGaussianBlur stdDeviation="6"/></filter><filter id="bl8" x="-50%" y="-50%" width="200%" height="200%" color-interpolation-filters="sRGB"><feGaussianBlur stdDeviation="8"/></filter><filter id="bl10" x="-50%" y="-50%" width="200%" height="200%" color-interpolation-filters="sRGB"><feGaussianBlur stdDeviation="10"/></filter><filter id="bl14" x="-50%" y="-50%" width="200%" height="200%" color-interpolation-filters="sRGB"><feGaussianBlur stdDeviation="14"/></filter><linearGradient id="p3bg" x1="0" y1="0" x2="0" y2="1"><stop offset="0" stop-color="#e6e6e6"/><stop offset="0.5" stop-color="#e6e6e6"/><stop offset="1" stop-color="#e6e6e6"/></linearGradient><linearGradient id="g3_0" gradientUnits="userSpaceOnUse" x1="0" y1="664.9" x2="0" y2="755.2"><stop offset="0.000" stop-color="#9e9e9e" stop-opacity="0"/><stop offset="0.155" stop-color="#8a8a8a" stop-opacity="1"/><stop offset="0.230" stop-color="#7a7a7a" stop-opacity="1"/><stop offset="0.397" stop-color="#4c4c4c" stop-opacity="1"/><stop offset="0.430" stop-color="#2e2e2e" stop-opacity="1"/><stop offset="0.452" stop-color="#4c4c4c" stop-opacity="1"/><stop offset="0.496" stop-color="#666666" stop-opacity="1"/><stop offset="0.756" stop-color="#7a7a7a" stop-opacity="1"/><stop offset="0.801" stop-color="#8f8f8f" stop-opacity="1"/><stop offset="1.000" stop-color="#9e9e9e" stop-opacity="0"/></linearGradient><linearGradient id="g3_4" gradientUnits="userSpaceOnUse" x1="0" y1="664.8" x2="0" y2="755.2"><stop offset="0.000" stop-color="#9e9e9e" stop-opacity="0"/><stop offset="0.155" stop-color="#8a8a8a" stop-opacity="1"/><stop offset="0.230" stop-color="#7a7a7a" stop-opacity="1"/><stop offset="0.399" stop-color="#4c4c4c" stop-opacity="1"/><stop offset="0.432" stop-color="#2e2e2e" stop-opacity="1"/><stop offset="0.454" stop-color="#4c4c4c" stop-opacity="1"/><stop offset="0.499" stop-color="#666666" stop-opacity="1"/><stop offset="0.757" stop-color="#7a7a7a" stop-opacity="1"/><stop offset="0.801" stop-color="#8f8f8f" stop-opacity="1"/><stop offset="1.000" stop-color="#9e9e9e" stop-opacity="0"/></linearGradient><linearGradient id="g3_8" gradientUnits="userSpaceOnUse" x1="0" y1="664.8" x2="0" y2="755.3"><stop offset="0.000" stop-color="#9e9e9e" stop-opacity="0"/><stop offset="0.155" stop-color="#8a8a8a" stop-opacity="1"/><stop offset="0.231" stop-color="#7a7a7a" stop-opacity="1"/><stop offset="0.401" stop-color="#4c4c4c" stop-opacity="1"/><stop offset="0.434" stop-color="#2e2e2e" stop-opacity="1"/><stop offset="0.457" stop-color="#4c4c4c" stop-opacity="1"/><stop offset="0.501" stop-color="#666666" stop-opacity="1"/><stop offset="0.757" stop-color="#7a7a7a" stop-opacity="1"/><stop offset="0.801" stop-color="#8f8f8f" stop-opacity="1"/><stop offset="1.000" stop-color="#9e9e9e" stop-opacity="0"/></linearGradient><linearGradient id="g3_12" gradientUnits="userSpaceOnUse" x1="0" y1="664.8" x2="0" y2="755.3"><stop offset="0.000" stop-color="#9e9e9e" stop-opacity="0"/><stop offset="0.155" stop-color="#8a8a8a" stop-opacity="1"/><stop offset="0.232" stop-color="#7a7a7a" stop-opacity="1"/><stop offset="0.404" stop-color="#4c4c4c" stop-opacity="1"/><stop offset="0.437" stop-color="#2e2e2e" stop-opacity="1"/><stop offset="0.459" stop-color="#4c4c4c" stop-opacity="1"/><stop offset="0.503" stop-color="#666666" stop-opacity="1"/><stop offset="0.757" stop-color="#7a7a7a" stop-opacity="1"/><stop offset="0.801" stop-color="#8f8f8f" stop-opacity="1"/><stop offset="1.000" stop-color="#9e9e9e" stop-opacity="0"/></linearGradient><linearGradient id="g3_16" gradientUnits="userSpaceOnUse" x1="0" y1="664.7" x2="0" y2="755.4"><stop offset="0.000" stop-color="#9e9e9e" stop-opacity="0"/><stop offset="0.154" stop-color="#8a8a8a" stop-opacity="1"/><stop offset="0.232" stop-color="#7a7a7a" stop-opacity="1"/><stop offset="0.406" stop-color="#4c4c4c" stop-opacity="1"/><stop offset="0.439" stop-color="#2e2e2e" stop-opacity="1"/><stop offset="0.461" stop-color="#4c4c4c" stop-opacity="1"/><stop offset="0.505" stop-color="#666666" stop-opacity="1"/><stop offset="0.757" stop-color="#7a7a7a" stop-opacity="1"/><stop offset="0.801" stop-color="#8f8f8f" stop-opacity="1"/><stop offset="1.000" stop-color="#9e9e9e" stop-opacity="0"/></linearGradient><linearGradient id="g3_20" gradientUnits="userSpaceOnUse" x1="0" y1="664.7" x2="0" y2="755.4"><stop offset="0.000" stop-color="#9e9e9e" stop-opacity="0"/><stop offset="0.154" stop-color="#8a8a8a" stop-opacity="1"/><stop offset="0.233" stop-color="#7a7a7a" stop-opacity="1"/><stop offset="0.408" stop-color="#4c4c4c" stop-opacity="1"/><stop offset="0.441" stop-color="#2e2e2e" stop-opacity="1"/><stop offset="0.463" stop-color="#4c4c4c" stop-opacity="1"/><stop offset="0.507" stop-color="#666666" stop-opacity="1"/><stop offset="0.758" stop-color="#7a7a7a" stop-opacity="1"/><stop offset="0.802" stop-color="#8f8f8f" stop-opacity="1"/><stop offset="1.000" stop-color="#9e9e9e" stop-opacity="0"/></linearGradient><linearGradient id="g3_24" gradientUnits="userSpaceOnUse" x1="0" y1="664.6" x2="0" y2="755.5"><stop offset="0.000" stop-color="#9e9e9e" stop-opacity="0"/><stop offset="0.154" stop-color="#8a8a8a" stop-opacity="1"/><stop offset="0.234" stop-color="#7a7a7a" stop-opacity="1"/><stop offset="0.410" stop-color="#4c4c4c" stop-opacity="1"/><stop offset="0.443" stop-color="#2e2e2e" stop-opacity="1"/><stop offset="0.465" stop-color="#4c4c4c" stop-opacity="1"/><stop offset="0.509" stop-color="#666666" stop-opacity="1"/><stop offset="0.758" stop-color="#7a7a7a" stop-opacity="1"/><stop offset="0.802" stop-color="#8f8f8f" stop-opacity="1"/><stop offset="1.000" stop-color="#9e9e9e" stop-opacity="0"/></linearGradient><linearGradient id="g3_28" gradientUnits="userSpaceOnUse" x1="0" y1="664.6" x2="0" y2="755.5"><stop offset="0.000" stop-color="#9e9e9e" stop-opacity="0"/><stop offset="0.154" stop-color="#8a8a8a" stop-opacity="1"/><stop offset="0.233" stop-color="#7a7a7a" stop-opacity="1"/><stop offset="0.408" stop-color="#4c4c4c" stop-opacity="1"/><stop offset="0.441" stop-color="#2e2e2e" stop-opacity="1"/><stop offset="0.463" stop-color="#4c4c4c" stop-opacity="1"/><stop offset="0.507" stop-color="#666666" stop-opacity="1"/><stop offset="0.758" stop-color="#7a7a7a" stop-opacity="1"/><stop offset="0.802" stop-color="#8f8f8f" stop-opacity="1"/><stop offset="1.000" stop-color="#9e9e9e" stop-opacity="0"/></linearGradient><linearGradient id="g3_32" gradientUnits="userSpaceOnUse" x1="0" y1="664.6" x2="0" y2="755.6"><stop offset="0.000" stop-color="#9e9e9e" stop-opacity="0"/><stop offset="0.154" stop-color="#8a8a8a" stop-opacity="1"/><stop offset="0.230" stop-color="#7a7a7a" stop-opacity="1"/><stop offset="0.400" stop-color="#4c4c4c" stop-opacity="1"/><stop offset="0.433" stop-color="#2e2e2e" stop-opacity="1"/><stop offset="0.455" stop-color="#4c4c4c" stop-opacity="1"/><stop offset="0.499" stop-color="#666666" stop-opacity="1"/><stop offset="0.758" stop-color="#7a7a7a" stop-opacity="1"/><stop offset="0.802" stop-color="#8f8f8f" stop-opacity="1"/><stop offset="1.000" stop-color="#9e9e9e" stop-opacity="0"/></linearGradient><linearGradient id="g3_36" gradientUnits="userSpaceOnUse" x1="0" y1="664.5" x2="0" y2="755.6"><stop offset="0.000" stop-color="#9e9e9e" stop-opacity="0"/><stop offset="0.154" stop-color="#8a8a8a" stop-opacity="1"/><stop offset="0.228" stop-color="#7a7a7a" stop-opacity="1"/><stop offset="0.393" stop-color="#4c4c4c" stop-opacity="1"/><stop offset="0.426" stop-color="#2e2e2e" stop-opacity="1"/><stop offset="0.448" stop-color="#4c4c4c" stop-opacity="1"/><stop offset="0.492" stop-color="#666666" stop-opacity="1"/><stop offset="0.758" stop-color="#7a7a7a" stop-opacity="1"/><stop offset="0.802" stop-color="#8f8f8f" stop-opacity="1"/><stop offset="1.000" stop-color="#9e9e9e" stop-opacity="0"/></linearGradient><linearGradient id="g3_40" gradientUnits="userSpaceOnUse" x1="0" y1="664.5" x2="0" y2="755.7"><stop offset="0.000" stop-color="#9e9e9e" stop-opacity="0"/><stop offset="0.154" stop-color="#8a8a8a" stop-opacity="1"/><stop offset="0.225" stop-color="#7a7a7a" stop-opacity="1"/><stop offset="0.386" stop-color="#4c4c4c" stop-opacity="1"/><stop offset="0.419" stop-color="#2e2e2e" stop-opacity="1"/><stop offset="0.441" stop-color="#4c4c4c" stop-opacity="1"/><stop offset="0.485" stop-color="#666666" stop-opacity="1"/><stop offset="0.759" stop-color="#7a7a7a" stop-opacity="1"/><stop offset="0.803" stop-color="#8f8f8f" stop-opacity="1"/><stop offset="1.000" stop-color="#9e9e9e" stop-opacity="0"/></linearGradient><linearGradient id="g3_44" gradientUnits="userSpaceOnUse" x1="0" y1="664.4" x2="0" y2="755.7"><stop offset="0.000" stop-color="#9e9e9e" stop-opacity="0"/><stop offset="0.153" stop-color="#8a8a8a" stop-opacity="1"/><stop offset="0.222" stop-color="#7a7a7a" stop-opacity="1"/><stop offset="0.379" stop-color="#4c4c4c" stop-opacity="1"/><stop offset="0.412" stop-color="#2e2e2e" stop-opacity="1"/><stop offset="0.433" stop-color="#4c4c4c" stop-opacity="1"/><stop offset="0.477" stop-color="#666666" stop-opacity="1"/><stop offset="0.759" stop-color="#7a7a7a" stop-opacity="1"/><stop offset="0.803" stop-color="#8f8f8f" stop-opacity="1"/><stop offset="1.000" stop-color="#9e9e9e" stop-opacity="0"/></linearGradient><linearGradient id="g3_48" gradientUnits="userSpaceOnUse" x1="0" y1="664.4" x2="0" y2="755.8"><stop offset="0.000" stop-color="#9e9e9e" stop-opacity="0"/><stop offset="0.153" stop-color="#8a8a8a" stop-opacity="1"/><stop offset="0.220" stop-color="#7a7a7a" stop-opacity="1"/><stop offset="0.371" stop-color="#4c4c4c" stop-opacity="1"/><stop offset="0.404" stop-color="#2e2e2e" stop-opacity="1"/><stop offset="0.426" stop-color="#4c4c4c" stop-opacity="1"/><stop offset="0.470" stop-color="#666666" stop-opacity="1"/><stop offset="0.759" stop-color="#7a7a7a" stop-opacity="1"/><stop offset="0.803" stop-color="#8f8f8f" stop-opacity="1"/><stop offset="1.000" stop-color="#9e9e9e" stop-opacity="0"/></linearGradient><linearGradient id="g3_52" gradientUnits="userSpaceOnUse" x1="0" y1="664.4" x2="0" y2="755.8"><stop offset="0.000" stop-color="#9e9e9e" stop-opacity="0"/><stop offset="0.153" stop-color="#8a8a8a" stop-opacity="1"/><stop offset="0.217" stop-color="#7a7a7a" stop-opacity="1"/><stop offset="0.364" stop-color="#4c4c4c" stop-opacity="1"/><stop offset="0.397" stop-color="#2e2e2e" stop-opacity="1"/><stop offset="0.419" stop-color="#4c4c4c" stop-opacity="1"/><stop offset="0.463" stop-color="#666666" stop-opacity="1"/><stop offset="0.759" stop-color="#7a7a7a" stop-opacity="1"/><stop offset="0.803" stop-color="#8f8f8f" stop-opacity="1"/><stop offset="1.000" stop-color="#9e9e9e" stop-opacity="0"/></linearGradient><linearGradient id="g3_56" gradientUnits="userSpaceOnUse" x1="0" y1="664.3" x2="0" y2="755.8"><stop offset="0.000" stop-color="#9e9e9e" stop-opacity="0"/><stop offset="0.153" stop-color="#8a8a8a" stop-opacity="1"/><stop offset="0.215" stop-color="#7a7a7a" stop-opacity="1"/><stop offset="0.357" stop-color="#4c4c4c" stop-opacity="1"/><stop offset="0.390" stop-color="#2e2e2e" stop-opacity="1"/><stop offset="0.412" stop-color="#4c4c4c" stop-opacity="1"/><stop offset="0.455" stop-color="#666666" stop-opacity="1"/><stop offset="0.760" stop-color="#7a7a7a" stop-opacity="1"/><stop offset="0.803" stop-color="#8f8f8f" stop-opacity="1"/><stop offset="1.000" stop-color="#9e9e9e" stop-opacity="0"/></linearGradient><linearGradient id="g3_60" gradientUnits="userSpaceOnUse" x1="0" y1="664.3" x2="0" y2="755.9"><stop offset="0.000" stop-color="#9e9e9e" stop-opacity="0"/><stop offset="0.153" stop-color="#8a8a8a" stop-opacity="1"/><stop offset="0.214" stop-color="#7a7a7a" stop-opacity="1"/><stop offset="0.356" stop-color="#4c4c4c" stop-opacity="1"/><stop offset="0.389" stop-color="#2e2e2e" stop-opacity="1"/><stop offset="0.411" stop-color="#4c4c4c" stop-opacity="1"/><stop offset="0.455" stop-color="#666666" stop-opacity="1"/><stop offset="0.760" stop-color="#7a7a7a" stop-opacity="1"/><stop offset="0.803" stop-color="#8f8f8f" stop-opacity="1"/><stop offset="1.000" stop-color="#9e9e9e" stop-opacity="0"/></linearGradient><linearGradient id="g3_64" gradientUnits="userSpaceOnUse" x1="0" y1="664.3" x2="0" y2="755.9"><stop offset="0.000" stop-color="#9e9e9e" stop-opacity="0"/><stop offset="0.153" stop-color="#8a8a8a" stop-opacity="1"/><stop offset="0.214" stop-color="#7a7a7a" stop-opacity="1"/><stop offset="0.356" stop-color="#4c4c4c" stop-opacity="1"/><stop offset="0.389" stop-color="#2e2e2e" stop-opacity="1"/><stop offset="0.410" stop-color="#4c4c4c" stop-opacity="1"/><stop offset="0.454" stop-color="#666666" stop-opacity="1"/><stop offset="0.760" stop-color="#7a7a7a" stop-opacity="1"/><stop offset="0.804" stop-color="#8f8f8f" stop-opacity="1"/><stop offset="1.000" stop-color="#9e9e9e" stop-opacity="0"/></linearGradient><linearGradient id="g3_68" gradientUnits="userSpaceOnUse" x1="0" y1="664.2" x2="0" y2="756.0"><stop offset="0.000" stop-color="#9e9e9e" stop-opacity="0"/><stop offset="0.153" stop-color="#8a8a8a" stop-opacity="1"/><stop offset="0.214" stop-color="#7a7a7a" stop-opacity="1"/><stop offset="0.355" stop-color="#4c4c4c" stop-opacity="1"/><stop offset="0.388" stop-color="#2e2e2e" stop-opacity="1"/><stop offset="0.410" stop-color="#4c4c4c" stop-opacity="1"/><stop offset="0.453" stop-color="#666666" stop-opacity="1"/><stop offset="0.760" stop-color="#7a7a7a" stop-opacity="1"/><stop offset="0.804" stop-color="#8f8f8f" stop-opacity="1"/><stop offset="1.000" stop-color="#9e9e9e" stop-opacity="0"/></linearGradient><linearGradient id="g3_72" gradientUnits="userSpaceOnUse" x1="0" y1="664.2" x2="0" y2="756.0"><stop offset="0.000" stop-color="#9e9e9e" stop-opacity="0"/><stop offset="0.152" stop-color="#8a8a8a" stop-opacity="1"/><stop offset="0.213" stop-color="#7a7a7a" stop-opacity="1"/><stop offset="0.355" stop-color="#4c4c4c" stop-opacity="1"/><stop offset="0.387" stop-color="#2e2e2e" stop-opacity="1"/><stop offset="0.409" stop-color="#4c4c4c" stop-opacity="1"/><stop offset="0.453" stop-color="#666666" stop-opacity="1"/><stop offset="0.761" stop-color="#7a7a7a" stop-opacity="1"/><stop offset="0.804" stop-color="#8f8f8f" stop-opacity="1"/><stop offset="1.000" stop-color="#9e9e9e" stop-opacity="0"/></linearGradient><linearGradient id="g3_76" gradientUnits="userSpaceOnUse" x1="0" y1="664.1" x2="0" y2="756.1"><stop offset="0.000" stop-color="#9e9e9e" stop-opacity="0"/><stop offset="0.152" stop-color="#8a8a8a" stop-opacity="1"/><stop offset="0.213" stop-color="#7a7a7a" stop-opacity="1"/><stop offset="0.354" stop-color="#4c4c4c" stop-opacity="1"/><stop offset="0.387" stop-color="#2e2e2e" stop-opacity="1"/><stop offset="0.409" stop-color="#4c4c4c" stop-opacity="1"/><stop offset="0.452" stop-color="#666666" stop-opacity="1"/><stop offset="0.761" stop-color="#7a7a7a" stop-opacity="1"/><stop offset="0.804" stop-color="#8f8f8f" stop-opacity="1"/><stop offset="1.000" stop-color="#9e9e9e" stop-opacity="0"/></linearGradient><linearGradient id="g3_80" gradientUnits="userSpaceOnUse" x1="0" y1="664.1" x2="0" y2="756.1"><stop offset="0.000" stop-color="#9e9e9e" stop-opacity="0"/><stop offset="0.152" stop-color="#8a8a8a" stop-opacity="1"/><stop offset="0.213" stop-color="#7a7a7a" stop-opacity="1"/><stop offset="0.354" stop-color="#4c4c4c" stop-opacity="1"/><stop offset="0.386" stop-color="#2e2e2e" stop-opacity="1"/><stop offset="0.408" stop-color="#4c4c4c" stop-opacity="1"/><stop offset="0.451" stop-color="#666666" stop-opacity="1"/><stop offset="0.761" stop-color="#7a7a7a" stop-opacity="1"/><stop offset="0.804" stop-color="#8f8f8f" stop-opacity="1"/><stop offset="1.000" stop-color="#9e9e9e" stop-opacity="0"/></linearGradient><linearGradient id="g3_84" gradientUnits="userSpaceOnUse" x1="0" y1="664.1" x2="0" y2="756.2"><stop offset="0.000" stop-color="#9e9e9e" stop-opacity="0"/><stop offset="0.152" stop-color="#8a8a8a" stop-opacity="1"/><stop offset="0.213" stop-color="#7a7a7a" stop-opacity="1"/><stop offset="0.353" stop-color="#4c4c4c" stop-opacity="1"/><stop offset="0.386" stop-color="#2e2e2e" stop-opacity="1"/><stop offset="0.407" stop-color="#4c4c4c" stop-opacity="1"/><stop offset="0.451" stop-color="#666666" stop-opacity="1"/><stop offset="0.761" stop-color="#7a7a7a" stop-opacity="1"/><stop offset="0.805" stop-color="#8f8f8f" stop-opacity="1"/><stop offset="1.000" stop-color="#9e9e9e" stop-opacity="0"/></linearGradient><linearGradient id="g3_88" gradientUnits="userSpaceOnUse" x1="0" y1="664.0" x2="0" y2="756.2"><stop offset="0.000" stop-color="#9e9e9e" stop-opacity="0"/><stop offset="0.152" stop-color="#8a8a8a" stop-opacity="1"/><stop offset="0.212" stop-color="#7a7a7a" stop-opacity="1"/><stop offset="0.353" stop-color="#4c4c4c" stop-opacity="1"/><stop offset="0.385" stop-color="#2e2e2e" stop-opacity="1"/><stop offset="0.407" stop-color="#4c4c4c" stop-opacity="1"/><stop offset="0.450" stop-color="#666666" stop-opacity="1"/><stop offset="0.761" stop-color="#7a7a7a" stop-opacity="1"/><stop offset="0.805" stop-color="#8f8f8f" stop-opacity="1"/><stop offset="1.000" stop-color="#9e9e9e" stop-opacity="0"/></linearGradient><linearGradient id="g3_92" gradientUnits="userSpaceOnUse" x1="0" y1="664.0" x2="0" y2="756.3"><stop offset="0.000" stop-color="#9e9e9e" stop-opacity="0"/><stop offset="0.152" stop-color="#8a8a8a" stop-opacity="1"/><stop offset="0.212" stop-color="#7a7a7a" stop-opacity="1"/><stop offset="0.352" stop-color="#4c4c4c" stop-opacity="1"/><stop offset="0.385" stop-color="#2e2e2e" stop-opacity="1"/><stop offset="0.406" stop-color="#4c4c4c" stop-opacity="1"/><stop offset="0.450" stop-color="#666666" stop-opacity="1"/><stop offset="0.762" stop-color="#7a7a7a" stop-opacity="1"/><stop offset="0.805" stop-color="#8f8f8f" stop-opacity="1"/><stop offset="1.000" stop-color="#9e9e9e" stop-opacity="0"/></linearGradient><linearGradient id="g3_96" gradientUnits="userSpaceOnUse" x1="0" y1="664.0" x2="0" y2="756.3"><stop offset="0.000" stop-color="#9e9e9e" stop-opacity="0"/><stop offset="0.152" stop-color="#8a8a8a" stop-opacity="1"/><stop offset="0.212" stop-color="#7a7a7a" stop-opacity="1"/><stop offset="0.352" stop-color="#4c4c4c" stop-opacity="1"/><stop offset="0.384" stop-color="#2e2e2e" stop-opacity="1"/><stop offset="0.406" stop-color="#4c4c4c" stop-opacity="1"/><stop offset="0.449" stop-color="#666666" stop-opacity="1"/><stop offset="0.762" stop-color="#7a7a7a" stop-opacity="1"/><stop offset="0.805" stop-color="#8f8f8f" stop-opacity="1"/><stop offset="1.000" stop-color="#9e9e9e" stop-opacity="0"/></linearGradient><linearGradient id="g3_100" gradientUnits="userSpaceOnUse" x1="0" y1="663.9" x2="0" y2="756.4"><stop offset="0.000" stop-color="#9e9e9e" stop-opacity="0"/><stop offset="0.151" stop-color="#8a8a8a" stop-opacity="1"/><stop offset="0.212" stop-color="#7a7a7a" stop-opacity="1"/><stop offset="0.351" stop-color="#4c4c4c" stop-opacity="1"/><stop offset="0.383" stop-color="#2e2e2e" stop-opacity="1"/><stop offset="0.405" stop-color="#4c4c4c" stop-opacity="1"/><stop offset="0.448" stop-color="#666666" stop-opacity="1"/><stop offset="0.762" stop-color="#7a7a7a" stop-opacity="1"/><stop offset="0.805" stop-color="#8f8f8f" stop-opacity="1"/><stop offset="1.000" stop-color="#9e9e9e" stop-opacity="0"/></linearGradient><linearGradient id="g3_104" gradientUnits="userSpaceOnUse" x1="0" y1="663.9" x2="0" y2="756.4"><stop offset="0.000" stop-color="#9e9e9e" stop-opacity="0"/><stop offset="0.151" stop-color="#8a8a8a" stop-opacity="1"/><stop offset="0.211" stop-color="#7a7a7a" stop-opacity="1"/><stop offset="0.350" stop-color="#4c4c4c" stop-opacity="1"/><stop offset="0.383" stop-color="#2e2e2e" stop-opacity="1"/><stop offset="0.404" stop-color="#4c4c4c" stop-opacity="1"/><stop offset="0.448" stop-color="#666666" stop-opacity="1"/><stop offset="0.762" stop-color="#7a7a7a" stop-opacity="1"/><stop offset="0.806" stop-color="#8f8f8f" stop-opacity="1"/><stop offset="1.000" stop-color="#9e9e9e" stop-opacity="0"/></linearGradient><linearGradient id="g3_108" gradientUnits="userSpaceOnUse" x1="0" y1="663.8" x2="0" y2="756.5"><stop offset="0.000" stop-color="#9e9e9e" stop-opacity="0"/><stop offset="0.151" stop-color="#8a8a8a" stop-opacity="1"/><stop offset="0.211" stop-color="#7a7a7a" stop-opacity="1"/><stop offset="0.350" stop-color="#4c4c4c" stop-opacity="1"/><stop offset="0.382" stop-color="#2e2e2e" stop-opacity="1"/><stop offset="0.404" stop-color="#4c4c4c" stop-opacity="1"/><stop offset="0.447" stop-color="#666666" stop-opacity="1"/><stop offset="0.763" stop-color="#7a7a7a" stop-opacity="1"/><stop offset="0.806" stop-color="#8f8f8f" stop-opacity="1"/><stop offset="1.000" stop-color="#9e9e9e" stop-opacity="0"/></linearGradient><linearGradient id="g3_112" gradientUnits="userSpaceOnUse" x1="0" y1="663.8" x2="0" y2="756.5"><stop offset="0.000" stop-color="#9e9e9e" stop-opacity="0"/><stop offset="0.151" stop-color="#8a8a8a" stop-opacity="1"/><stop offset="0.211" stop-color="#7a7a7a" stop-opacity="1"/><stop offset="0.349" stop-color="#4c4c4c" stop-opacity="1"/><stop offset="0.382" stop-color="#2e2e2e" stop-opacity="1"/><stop offset="0.403" stop-color="#4c4c4c" stop-opacity="1"/><stop offset="0.446" stop-color="#666666" stop-opacity="1"/><stop offset="0.763" stop-color="#7a7a7a" stop-opacity="1"/><stop offset="0.806" stop-color="#8f8f8f" stop-opacity="1"/><stop offset="1.000" stop-color="#9e9e9e" stop-opacity="0"/></linearGradient><linearGradient id="g3_116" gradientUnits="userSpaceOnUse" x1="0" y1="663.8" x2="0" y2="756.6"><stop offset="0.000" stop-color="#9e9e9e" stop-opacity="0"/><stop offset="0.151" stop-color="#8a8a8a" stop-opacity="1"/><stop offset="0.210" stop-color="#7a7a7a" stop-opacity="1"/><stop offset="0.349" stop-color="#4c4c4c" stop-opacity="1"/><stop offset="0.381" stop-color="#2e2e2e" stop-opacity="1"/><stop offset="0.403" stop-color="#4c4c4c" stop-opacity="1"/><stop offset="0.446" stop-color="#666666" stop-opacity="1"/><stop offset="0.763" stop-color="#7a7a7a" stop-opacity="1"/><stop offset="0.806" stop-color="#8f8f8f" stop-opacity="1"/><stop offset="1.000" stop-color="#9e9e9e" stop-opacity="0"/></linearGradient><linearGradient id="g3_120" gradientUnits="userSpaceOnUse" x1="0" y1="663.7" x2="0" y2="756.6"><stop offset="0.000" stop-color="#9e9e9e" stop-opacity="0"/><stop offset="0.151" stop-color="#8a8a8a" stop-opacity="1"/><stop offset="0.210" stop-color="#7a7a7a" stop-opacity="1"/><stop offset="0.348" stop-color="#4c4c4c" stop-opacity="1"/><stop offset="0.381" stop-color="#2e2e2e" stop-opacity="1"/><stop offset="0.402" stop-color="#4c4c4c" stop-opacity="1"/><stop offset="0.445" stop-color="#666666" stop-opacity="1"/><stop offset="0.763" stop-color="#7a7a7a" stop-opacity="1"/><stop offset="0.806" stop-color="#8f8f8f" stop-opacity="1"/><stop offset="1.000" stop-color="#9e9e9e" stop-opacity="0"/></linearGradient><linearGradient id="g3_124" gradientUnits="userSpaceOnUse" x1="0" y1="663.7" x2="0" y2="756.7"><stop offset="0.000" stop-color="#9e9e9e" stop-opacity="0"/><stop offset="0.151" stop-color="#8a8a8a" stop-opacity="1"/><stop offset="0.210" stop-color="#7a7a7a" stop-opacity="1"/><stop offset="0.348" stop-color="#4c4c4c" stop-opacity="1"/><stop offset="0.380" stop-color="#2e2e2e" stop-opacity="1"/><stop offset="0.402" stop-color="#4c4c4c" stop-opacity="1"/><stop offset="0.445" stop-color="#666666" stop-opacity="1"/><stop offset="0.763" stop-color="#7a7a7a" stop-opacity="1"/><stop offset="0.806" stop-color="#8f8f8f" stop-opacity="1"/><stop offset="1.000" stop-color="#9e9e9e" stop-opacity="0"/></linearGradient><linearGradient id="g3_128" gradientUnits="userSpaceOnUse" x1="0" y1="663.6" x2="0" y2="756.7"><stop offset="0.000" stop-color="#9e9e9e" stop-opacity="0"/><stop offset="0.150" stop-color="#8a8a8a" stop-opacity="1"/><stop offset="0.210" stop-color="#7a7a7a" stop-opacity="1"/><stop offset="0.348" stop-color="#4c4c4c" stop-opacity="1"/><stop offset="0.380" stop-color="#2e2e2e" stop-opacity="1"/><stop offset="0.402" stop-color="#4c4c4c" stop-opacity="1"/><stop offset="0.445" stop-color="#666666" stop-opacity="1"/><stop offset="0.764" stop-color="#7a7a7a" stop-opacity="1"/><stop offset="0.807" stop-color="#8f8f8f" stop-opacity="1"/><stop offset="1.000" stop-color="#9e9e9e" stop-opacity="0"/></linearGradient><linearGradient id="g3_132" gradientUnits="userSpaceOnUse" x1="0" y1="663.6" x2="0" y2="756.8"><stop offset="0.000" stop-color="#9e9e9e" stop-opacity="0"/><stop offset="0.150" stop-color="#8a8a8a" stop-opacity="1"/><stop offset="0.210" stop-color="#7a7a7a" stop-opacity="1"/><stop offset="0.349" stop-color="#4c4c4c" stop-opacity="1"/><stop offset="0.381" stop-color="#2e2e2e" stop-opacity="1"/><stop offset="0.402" stop-color="#4c4c4c" stop-opacity="1"/><stop offset="0.445" stop-color="#666666" stop-opacity="1"/><stop offset="0.764" stop-color="#7a7a7a" stop-opacity="1"/><stop offset="0.807" stop-color="#8f8f8f" stop-opacity="1"/><stop offset="1.000" stop-color="#9e9e9e" stop-opacity="0"/></linearGradient><linearGradient id="g3_136" gradientUnits="userSpaceOnUse" x1="0" y1="663.6" x2="0" y2="756.8"><stop offset="0.000" stop-color="#9e9e9e" stop-opacity="0"/><stop offset="0.150" stop-color="#8a8a8a" stop-opacity="1"/><stop offset="0.210" stop-color="#7a7a7a" stop-opacity="1"/><stop offset="0.349" stop-color="#4c4c4c" stop-opacity="1"/><stop offset="0.381" stop-color="#2e2e2e" stop-opacity="1"/><stop offset="0.403" stop-color="#4c4c4c" stop-opacity="1"/><stop offset="0.446" stop-color="#666666" stop-opacity="1"/><stop offset="0.764" stop-color="#7a7a7a" stop-opacity="1"/><stop offset="0.807" stop-color="#8f8f8f" stop-opacity="1"/><stop offset="1.000" stop-color="#9e9e9e" stop-opacity="0"/></linearGradient><linearGradient id="g3_140" gradientUnits="userSpaceOnUse" x1="0" y1="663.5" x2="0" y2="756.9"><stop offset="0.000" stop-color="#9e9e9e" stop-opacity="0"/><stop offset="0.150" stop-color="#8a8a8a" stop-opacity="1"/><stop offset="0.210" stop-color="#7a7a7a" stop-opacity="1"/><stop offset="0.350" stop-color="#4c4c4c" stop-opacity="1"/><stop offset="0.382" stop-color="#2e2e2e" stop-opacity="1"/><stop offset="0.404" stop-color="#4c4c4c" stop-opacity="1"/><stop offset="0.446" stop-color="#666666" stop-opacity="1"/><stop offset="0.764" stop-color="#7a7a7a" stop-opacity="1"/><stop offset="0.807" stop-color="#8f8f8f" stop-opacity="1"/><stop offset="1.000" stop-color="#9e9e9e" stop-opacity="0"/></linearGradient><linearGradient id="g3_144" gradientUnits="userSpaceOnUse" x1="0" y1="663.5" x2="0" y2="756.9"><stop offset="0.000" stop-color="#9e9e9e" stop-opacity="0"/><stop offset="0.150" stop-color="#8a8a8a" stop-opacity="1"/><stop offset="0.211" stop-color="#7a7a7a" stop-opacity="1"/><stop offset="0.351" stop-color="#4c4c4c" stop-opacity="1"/><stop offset="0.383" stop-color="#2e2e2e" stop-opacity="1"/><stop offset="0.404" stop-color="#4c4c4c" stop-opacity="1"/><stop offset="0.447" stop-color="#666666" stop-opacity="1"/><stop offset="0.765" stop-color="#7a7a7a" stop-opacity="1"/><stop offset="0.807" stop-color="#8f8f8f" stop-opacity="1"/><stop offset="1.000" stop-color="#9e9e9e" stop-opacity="0"/></linearGradient><linearGradient id="g3_148" gradientUnits="userSpaceOnUse" x1="0" y1="663.5" x2="0" y2="757.0"><stop offset="0.000" stop-color="#9e9e9e" stop-opacity="0"/><stop offset="0.150" stop-color="#8a8a8a" stop-opacity="1"/><stop offset="0.211" stop-color="#7a7a7a" stop-opacity="1"/><stop offset="0.351" stop-color="#4c4c4c" stop-opacity="1"/><stop offset="0.383" stop-color="#2e2e2e" stop-opacity="1"/><stop offset="0.405" stop-color="#4c4c4c" stop-opacity="1"/><stop offset="0.448" stop-color="#666666" stop-opacity="1"/><stop offset="0.765" stop-color="#7a7a7a" stop-opacity="1"/><stop offset="0.807" stop-color="#8f8f8f" stop-opacity="1"/><stop offset="1.000" stop-color="#9e9e9e" stop-opacity="0"/></linearGradient><linearGradient id="g3_152" gradientUnits="userSpaceOnUse" x1="0" y1="663.4" x2="0" y2="757.0"><stop offset="0.000" stop-color="#9e9e9e" stop-opacity="0"/><stop offset="0.150" stop-color="#8a8a8a" stop-opacity="1"/><stop offset="0.211" stop-color="#7a7a7a" stop-opacity="1"/><stop offset="0.352" stop-color="#4c4c4c" stop-opacity="1"/><stop offset="0.384" stop-color="#2e2e2e" stop-opacity="1"/><stop offset="0.405" stop-color="#4c4c4c" stop-opacity="1"/><stop offset="0.448" stop-color="#666666" stop-opacity="1"/><stop offset="0.765" stop-color="#7a7a7a" stop-opacity="1"/><stop offset="0.808" stop-color="#8f8f8f" stop-opacity="1"/><stop offset="1.000" stop-color="#9e9e9e" stop-opacity="0"/></linearGradient><linearGradient id="g3_156" gradientUnits="userSpaceOnUse" x1="0" y1="663.4" x2="0" y2="757.2"><stop offset="0.000" stop-color="#9e9e9e" stop-opacity="0"/><stop offset="0.149" stop-color="#8a8a8a" stop-opacity="1"/><stop offset="0.211" stop-color="#7a7a7a" stop-opacity="1"/><stop offset="0.352" stop-color="#4c4c4c" stop-opacity="1"/><stop offset="0.384" stop-color="#2e2e2e" stop-opacity="1"/><stop offset="0.406" stop-color="#4c4c4c" stop-opacity="1"/><stop offset="0.448" stop-color="#666666" stop-opacity="1"/><stop offset="0.766" stop-color="#7a7a7a" stop-opacity="1"/><stop offset="0.808" stop-color="#8f8f8f" stop-opacity="1"/><stop offset="1.000" stop-color="#9e9e9e" stop-opacity="0"/></linearGradient><linearGradient id="g3_160" gradientUnits="userSpaceOnUse" x1="0" y1="663.3" x2="0" y2="757.4"><stop offset="0.000" stop-color="#9e9e9e" stop-opacity="0"/><stop offset="0.149" stop-color="#8a8a8a" stop-opacity="1"/><stop offset="0.211" stop-color="#7a7a7a" stop-opacity="1"/><stop offset="0.353" stop-color="#4c4c4c" stop-opacity="1"/><stop offset="0.384" stop-color="#2e2e2e" stop-opacity="1"/><stop offset="0.406" stop-color="#4c4c4c" stop-opacity="1"/><stop offset="0.448" stop-color="#666666" stop-opacity="1"/><stop offset="0.766" stop-color="#7a7a7a" stop-opacity="1"/><stop offset="0.809" stop-color="#8f8f8f" stop-opacity="1"/><stop offset="1.000" stop-color="#9e9e9e" stop-opacity="0"/></linearGradient><linearGradient id="g3_164" gradientUnits="userSpaceOnUse" x1="0" y1="663.3" x2="0" y2="757.5"><stop offset="0.000" stop-color="#9e9e9e" stop-opacity="0"/><stop offset="0.149" stop-color="#8a8a8a" stop-opacity="1"/><stop offset="0.211" stop-color="#7a7a7a" stop-opacity="1"/><stop offset="0.353" stop-color="#4c4c4c" stop-opacity="1"/><stop offset="0.385" stop-color="#2e2e2e" stop-opacity="1"/><stop offset="0.406" stop-color="#4c4c4c" stop-opacity="1"/><stop offset="0.448" stop-color="#666666" stop-opacity="1"/><stop offset="0.766" stop-color="#7a7a7a" stop-opacity="1"/><stop offset="0.809" stop-color="#8f8f8f" stop-opacity="1"/><stop offset="1.000" stop-color="#9e9e9e" stop-opacity="0"/></linearGradient><linearGradient id="g3_168" gradientUnits="userSpaceOnUse" x1="0" y1="663.3" x2="0" y2="757.7"><stop offset="0.000" stop-color="#9e9e9e" stop-opacity="0"/><stop offset="0.148" stop-color="#8a8a8a" stop-opacity="1"/><stop offset="0.210" stop-color="#7a7a7a" stop-opacity="1"/><stop offset="0.353" stop-color="#4c4c4c" stop-opacity="1"/><stop offset="0.385" stop-color="#2e2e2e" stop-opacity="1"/><stop offset="0.406" stop-color="#4c4c4c" stop-opacity="1"/><stop offset="0.448" stop-color="#666666" stop-opacity="1"/><stop offset="0.767" stop-color="#7a7a7a" stop-opacity="1"/><stop offset="0.809" stop-color="#8f8f8f" stop-opacity="1"/><stop offset="1.000" stop-color="#9e9e9e" stop-opacity="0"/></linearGradient><linearGradient id="g3_172" gradientUnits="userSpaceOnUse" x1="0" y1="663.2" x2="0" y2="757.8"><stop offset="0.000" stop-color="#9e9e9e" stop-opacity="0"/><stop offset="0.148" stop-color="#8a8a8a" stop-opacity="1"/><stop offset="0.210" stop-color="#7a7a7a" stop-opacity="1"/><stop offset="0.353" stop-color="#4c4c4c" stop-opacity="1"/><stop offset="0.385" stop-color="#2e2e2e" stop-opacity="1"/><stop offset="0.406" stop-color="#4c4c4c" stop-opacity="1"/><stop offset="0.448" stop-color="#666666" stop-opacity="1"/><stop offset="0.767" stop-color="#7a7a7a" stop-opacity="1"/><stop offset="0.810" stop-color="#8f8f8f" stop-opacity="1"/><stop offset="1.000" stop-color="#9e9e9e" stop-opacity="0"/></linearGradient><linearGradient id="g3_176" gradientUnits="userSpaceOnUse" x1="0" y1="663.2" x2="0" y2="758.0"><stop offset="0.000" stop-color="#9e9e9e" stop-opacity="0"/><stop offset="0.148" stop-color="#8a8a8a" stop-opacity="1"/><stop offset="0.210" stop-color="#7a7a7a" stop-opacity="1"/><stop offset="0.354" stop-color="#4c4c4c" stop-opacity="1"/><stop offset="0.385" stop-color="#2e2e2e" stop-opacity="1"/><stop offset="0.406" stop-color="#4c4c4c" stop-opacity="1"/><stop offset="0.449" stop-color="#666666" stop-opacity="1"/><stop offset="0.768" stop-color="#7a7a7a" stop-opacity="1"/><stop offset="0.810" stop-color="#8f8f8f" stop-opacity="1"/><stop offset="1.000" stop-color="#9e9e9e" stop-opacity="0"/></linearGradient><linearGradient id="g3_180" gradientUnits="userSpaceOnUse" x1="0" y1="663.2" x2="0" y2="758.2"><stop offset="0.000" stop-color="#9e9e9e" stop-opacity="0"/><stop offset="0.147" stop-color="#8a8a8a" stop-opacity="1"/><stop offset="0.210" stop-color="#7a7a7a" stop-opacity="1"/><stop offset="0.354" stop-color="#4c4c4c" stop-opacity="1"/><stop offset="0.385" stop-color="#2e2e2e" stop-opacity="1"/><stop offset="0.406" stop-color="#4c4c4c" stop-opacity="1"/><stop offset="0.449" stop-color="#666666" stop-opacity="1"/><stop offset="0.768" stop-color="#7a7a7a" stop-opacity="1"/><stop offset="0.811" stop-color="#8f8f8f" stop-opacity="1"/><stop offset="1.000" stop-color="#9e9e9e" stop-opacity="0"/></linearGradient><linearGradient id="g3_184" gradientUnits="userSpaceOnUse" x1="0" y1="663.1" x2="0" y2="758.3"><stop offset="0.000" stop-color="#9e9e9e" stop-opacity="0"/><stop offset="0.147" stop-color="#8a8a8a" stop-opacity="1"/><stop offset="0.210" stop-color="#7a7a7a" stop-opacity="1"/><stop offset="0.354" stop-color="#4c4c4c" stop-opacity="1"/><stop offset="0.386" stop-color="#2e2e2e" stop-opacity="1"/><stop offset="0.407" stop-color="#4c4c4c" stop-opacity="1"/><stop offset="0.449" stop-color="#666666" stop-opacity="1"/><stop offset="0.769" stop-color="#7a7a7a" stop-opacity="1"/><stop offset="0.811" stop-color="#8f8f8f" stop-opacity="1"/><stop offset="1.000" stop-color="#9e9e9e" stop-opacity="0"/></linearGradient><linearGradient id="g3_188" gradientUnits="userSpaceOnUse" x1="0" y1="663.1" x2="0" y2="758.5"><stop offset="0.000" stop-color="#9e9e9e" stop-opacity="0"/><stop offset="0.147" stop-color="#8a8a8a" stop-opacity="1"/><stop offset="0.210" stop-color="#7a7a7a" stop-opacity="1"/><stop offset="0.354" stop-color="#4c4c4c" stop-opacity="1"/><stop offset="0.386" stop-color="#2e2e2e" stop-opacity="1"/><stop offset="0.407" stop-color="#4c4c4c" stop-opacity="1"/><stop offset="0.449" stop-color="#666666" stop-opacity="1"/><stop offset="0.769" stop-color="#7a7a7a" stop-opacity="1"/><stop offset="0.811" stop-color="#8f8f8f" stop-opacity="1"/><stop offset="1.000" stop-color="#9e9e9e" stop-opacity="0"/></linearGradient><linearGradient id="g3_192" gradientUnits="userSpaceOnUse" x1="0" y1="663.0" x2="0" y2="758.6"><stop offset="0.000" stop-color="#9e9e9e" stop-opacity="0"/><stop offset="0.146" stop-color="#8a8a8a" stop-opacity="1"/><stop offset="0.210" stop-color="#7a7a7a" stop-opacity="1"/><stop offset="0.355" stop-color="#4c4c4c" stop-opacity="1"/><stop offset="0.386" stop-color="#2e2e2e" stop-opacity="1"/><stop offset="0.407" stop-color="#4c4c4c" stop-opacity="1"/><stop offset="0.449" stop-color="#666666" stop-opacity="1"/><stop offset="0.770" stop-color="#7a7a7a" stop-opacity="1"/><stop offset="0.812" stop-color="#8f8f8f" stop-opacity="1"/><stop offset="1.000" stop-color="#9e9e9e" stop-opacity="0"/></linearGradient><linearGradient id="g3_196" gradientUnits="userSpaceOnUse" x1="0" y1="663.0" x2="0" y2="758.8"><stop offset="0.000" stop-color="#9e9e9e" stop-opacity="0"/><stop offset="0.146" stop-color="#8a8a8a" stop-opacity="1"/><stop offset="0.210" stop-color="#7a7a7a" stop-opacity="1"/><stop offset="0.355" stop-color="#4c4c4c" stop-opacity="1"/><stop offset="0.386" stop-color="#2e2e2e" stop-opacity="1"/><stop offset="0.407" stop-color="#4c4c4c" stop-opacity="1"/><stop offset="0.449" stop-color="#666666" stop-opacity="1"/><stop offset="0.770" stop-color="#7a7a7a" stop-opacity="1"/><stop offset="0.812" stop-color="#8f8f8f" stop-opacity="1"/><stop offset="1.000" stop-color="#9e9e9e" stop-opacity="0"/></linearGradient><linearGradient id="g3_200" gradientUnits="userSpaceOnUse" x1="0" y1="664.0" x2="0" y2="759.0"><stop offset="0.000" stop-color="#9e9e9e" stop-opacity="0"/><stop offset="0.147" stop-color="#8a8a8a" stop-opacity="1"/><stop offset="0.209" stop-color="#7a7a7a" stop-opacity="1"/><stop offset="0.352" stop-color="#4c4c4c" stop-opacity="1"/><stop offset="0.383" stop-color="#2e2e2e" stop-opacity="1"/><stop offset="0.404" stop-color="#4c4c4c" stop-opacity="1"/><stop offset="0.447" stop-color="#666666" stop-opacity="1"/><stop offset="0.768" stop-color="#7a7a7a" stop-opacity="1"/><stop offset="0.810" stop-color="#8f8f8f" stop-opacity="1"/><stop offset="1.000" stop-color="#9e9e9e" stop-opacity="0"/></linearGradient><linearGradient id="g3_204" gradientUnits="userSpaceOnUse" x1="0" y1="665.0" x2="0" y2="759.1"><stop offset="0.000" stop-color="#9e9e9e" stop-opacity="0"/><stop offset="0.149" stop-color="#8a8a8a" stop-opacity="1"/><stop offset="0.209" stop-color="#7a7a7a" stop-opacity="1"/><stop offset="0.348" stop-color="#4c4c4c" stop-opacity="1"/><stop offset="0.380" stop-color="#2e2e2e" stop-opacity="1"/><stop offset="0.402" stop-color="#4c4c4c" stop-opacity="1"/><stop offset="0.444" stop-color="#666666" stop-opacity="1"/><stop offset="0.766" stop-color="#7a7a7a" stop-opacity="1"/><stop offset="0.809" stop-color="#8f8f8f" stop-opacity="1"/><stop offset="1.000" stop-color="#9e9e9e" stop-opacity="0"/></linearGradient><linearGradient id="g3_208" gradientUnits="userSpaceOnUse" x1="0" y1="666.0" x2="0" y2="759.3"><stop offset="0.000" stop-color="#9e9e9e" stop-opacity="0"/><stop offset="0.150" stop-color="#8a8a8a" stop-opacity="1"/><stop offset="0.209" stop-color="#7a7a7a" stop-opacity="1"/><stop offset="0.345" stop-color="#4c4c4c" stop-opacity="1"/><stop offset="0.377" stop-color="#2e2e2e" stop-opacity="1"/><stop offset="0.399" stop-color="#4c4c4c" stop-opacity="1"/><stop offset="0.442" stop-color="#666666" stop-opacity="1"/><stop offset="0.764" stop-color="#7a7a7a" stop-opacity="1"/><stop offset="0.807" stop-color="#8f8f8f" stop-opacity="1"/><stop offset="1.000" stop-color="#9e9e9e" stop-opacity="0"/></linearGradient><linearGradient id="g3_212" gradientUnits="userSpaceOnUse" x1="0" y1="667.0" x2="0" y2="759.4"><stop offset="0.000" stop-color="#9e9e9e" stop-opacity="0"/><stop offset="0.151" stop-color="#8a8a8a" stop-opacity="1"/><stop offset="0.208" stop-color="#7a7a7a" stop-opacity="1"/><stop offset="0.342" stop-color="#4c4c4c" stop-opacity="1"/><stop offset="0.374" stop-color="#2e2e2e" stop-opacity="1"/><stop offset="0.396" stop-color="#4c4c4c" stop-opacity="1"/><stop offset="0.439" stop-color="#666666" stop-opacity="1"/><stop offset="0.762" stop-color="#7a7a7a" stop-opacity="1"/><stop offset="0.805" stop-color="#8f8f8f" stop-opacity="1"/><stop offset="1.000" stop-color="#9e9e9e" stop-opacity="0"/></linearGradient><linearGradient id="g3_216" gradientUnits="userSpaceOnUse" x1="0" y1="668.0" x2="0" y2="759.6"><stop offset="0.000" stop-color="#9e9e9e" stop-opacity="0"/><stop offset="0.153" stop-color="#8a8a8a" stop-opacity="1"/><stop offset="0.208" stop-color="#7a7a7a" stop-opacity="1"/><stop offset="0.338" stop-color="#4c4c4c" stop-opacity="1"/><stop offset="0.371" stop-color="#2e2e2e" stop-opacity="1"/><stop offset="0.393" stop-color="#4c4c4c" stop-opacity="1"/><stop offset="0.437" stop-color="#666666" stop-opacity="1"/><stop offset="0.760" stop-color="#7a7a7a" stop-opacity="1"/><stop offset="0.803" stop-color="#8f8f8f" stop-opacity="1"/><stop offset="1.000" stop-color="#9e9e9e" stop-opacity="0"/></linearGradient><linearGradient id="g3_220" gradientUnits="userSpaceOnUse" x1="0" y1="667.2" x2="0" y2="759.8"><stop offset="0.000" stop-color="#9e9e9e" stop-opacity="0"/><stop offset="0.151" stop-color="#8a8a8a" stop-opacity="1"/><stop offset="0.210" stop-color="#7a7a7a" stop-opacity="1"/><stop offset="0.348" stop-color="#4c4c4c" stop-opacity="1"/><stop offset="0.380" stop-color="#2e2e2e" stop-opacity="1"/><stop offset="0.402" stop-color="#4c4c4c" stop-opacity="1"/><stop offset="0.445" stop-color="#666666" stop-opacity="1"/><stop offset="0.762" stop-color="#7a7a7a" stop-opacity="1"/><stop offset="0.806" stop-color="#8f8f8f" stop-opacity="1"/><stop offset="1.000" stop-color="#9e9e9e" stop-opacity="0"/></linearGradient><linearGradient id="g3_224" gradientUnits="userSpaceOnUse" x1="0" y1="666.4" x2="0" y2="759.9"><stop offset="0.000" stop-color="#9e9e9e" stop-opacity="0"/><stop offset="0.150" stop-color="#8a8a8a" stop-opacity="1"/><stop offset="0.213" stop-color="#7a7a7a" stop-opacity="1"/><stop offset="0.357" stop-color="#4c4c4c" stop-opacity="1"/><stop offset="0.389" stop-color="#2e2e2e" stop-opacity="1"/><stop offset="0.411" stop-color="#4c4c4c" stop-opacity="1"/><stop offset="0.453" stop-color="#666666" stop-opacity="1"/><stop offset="0.765" stop-color="#7a7a7a" stop-opacity="1"/><stop offset="0.808" stop-color="#8f8f8f" stop-opacity="1"/><stop offset="1.000" stop-color="#9e9e9e" stop-opacity="0"/></linearGradient><linearGradient id="g3_228" gradientUnits="userSpaceOnUse" x1="0" y1="666.0" x2="0" y2="760.2"><stop offset="0.000" stop-color="#9e9e9e" stop-opacity="0"/><stop offset="0.149" stop-color="#8a8a8a" stop-opacity="1"/><stop offset="0.211" stop-color="#7a7a7a" stop-opacity="1"/><stop offset="0.355" stop-color="#4c4c4c" stop-opacity="1"/><stop offset="0.387" stop-color="#2e2e2e" stop-opacity="1"/><stop offset="0.408" stop-color="#4c4c4c" stop-opacity="1"/><stop offset="0.450" stop-color="#666666" stop-opacity="1"/><stop offset="0.766" stop-color="#7a7a7a" stop-opacity="1"/><stop offset="0.809" stop-color="#8f8f8f" stop-opacity="1"/><stop offset="1.000" stop-color="#9e9e9e" stop-opacity="0"/></linearGradient><linearGradient id="g3_232" gradientUnits="userSpaceOnUse" x1="0" y1="666.0" x2="0" y2="760.6"><stop offset="0.000" stop-color="#9e9e9e" stop-opacity="0"/><stop offset="0.148" stop-color="#8a8a8a" stop-opacity="1"/><stop offset="0.206" stop-color="#7a7a7a" stop-opacity="1"/><stop offset="0.341" stop-color="#4c4c4c" stop-opacity="1"/><stop offset="0.373" stop-color="#2e2e2e" stop-opacity="1"/><stop offset="0.394" stop-color="#4c4c4c" stop-opacity="1"/><stop offset="0.437" stop-color="#666666" stop-opacity="1"/><stop offset="0.767" stop-color="#7a7a7a" stop-opacity="1"/><stop offset="0.810" stop-color="#8f8f8f" stop-opacity="1"/><stop offset="1.000" stop-color="#9e9e9e" stop-opacity="0"/></linearGradient><linearGradient id="g3_236" gradientUnits="userSpaceOnUse" x1="0" y1="666.1" x2="0" y2="761.0"><stop offset="0.000" stop-color="#9e9e9e" stop-opacity="0"/><stop offset="0.147" stop-color="#8a8a8a" stop-opacity="1"/><stop offset="0.201" stop-color="#7a7a7a" stop-opacity="1"/><stop offset="0.328" stop-color="#4c4c4c" stop-opacity="1"/><stop offset="0.360" stop-color="#2e2e2e" stop-opacity="1"/><stop offset="0.381" stop-color="#4c4c4c" stop-opacity="1"/><stop offset="0.423" stop-color="#666666" stop-opacity="1"/><stop offset="0.768" stop-color="#7a7a7a" stop-opacity="1"/><stop offset="0.810" stop-color="#8f8f8f" stop-opacity="1"/><stop offset="1.000" stop-color="#9e9e9e" stop-opacity="0"/></linearGradient><linearGradient id="g3_240" gradientUnits="userSpaceOnUse" x1="0" y1="666.1" x2="0" y2="761.4"><stop offset="0.000" stop-color="#9e9e9e" stop-opacity="0"/><stop offset="0.147" stop-color="#8a8a8a" stop-opacity="1"/><stop offset="0.196" stop-color="#7a7a7a" stop-opacity="1"/><stop offset="0.315" stop-color="#4c4c4c" stop-opacity="1"/><stop offset="0.346" stop-color="#2e2e2e" stop-opacity="1"/><stop offset="0.367" stop-color="#4c4c4c" stop-opacity="1"/><stop offset="0.409" stop-color="#666666" stop-opacity="1"/><stop offset="0.769" stop-color="#7a7a7a" stop-opacity="1"/><stop offset="0.811" stop-color="#8f8f8f" stop-opacity="1"/><stop offset="1.000" stop-color="#9e9e9e" stop-opacity="0"/></linearGradient><linearGradient id="g3_244" gradientUnits="userSpaceOnUse" x1="0" y1="666.1" x2="0" y2="761.8"><stop offset="0.000" stop-color="#9e9e9e" stop-opacity="0"/><stop offset="0.146" stop-color="#8a8a8a" stop-opacity="1"/><stop offset="0.191" stop-color="#7a7a7a" stop-opacity="1"/><stop offset="0.302" stop-color="#4c4c4c" stop-opacity="1"/><stop offset="0.333" stop-color="#2e2e2e" stop-opacity="1"/><stop offset="0.354" stop-color="#4c4c4c" stop-opacity="1"/><stop offset="0.396" stop-color="#666666" stop-opacity="1"/><stop offset="0.770" stop-color="#7a7a7a" stop-opacity="1"/><stop offset="0.812" stop-color="#8f8f8f" stop-opacity="1"/><stop offset="1.000" stop-color="#9e9e9e" stop-opacity="0"/></linearGradient><linearGradient id="g3_248" gradientUnits="userSpaceOnUse" x1="0" y1="666.1" x2="0" y2="762.2"><stop offset="0.000" stop-color="#9e9e9e" stop-opacity="0"/><stop offset="0.146" stop-color="#8a8a8a" stop-opacity="1"/><stop offset="0.186" stop-color="#7a7a7a" stop-opacity="1"/><stop offset="0.289" stop-color="#4c4c4c" stop-opacity="1"/><stop offset="0.320" stop-color="#2e2e2e" stop-opacity="1"/><stop offset="0.341" stop-color="#4c4c4c" stop-opacity="1"/><stop offset="0.382" stop-color="#666666" stop-opacity="1"/><stop offset="0.771" stop-color="#7a7a7a" stop-opacity="1"/><stop offset="0.813" stop-color="#8f8f8f" stop-opacity="1"/><stop offset="1.000" stop-color="#9e9e9e" stop-opacity="0"/></linearGradient><linearGradient id="g3_252" gradientUnits="userSpaceOnUse" x1="0" y1="666.1" x2="0" y2="762.6"><stop offset="0.000" stop-color="#9e9e9e" stop-opacity="0"/><stop offset="0.145" stop-color="#8a8a8a" stop-opacity="1"/><stop offset="0.182" stop-color="#7a7a7a" stop-opacity="1"/><stop offset="0.277" stop-color="#4c4c4c" stop-opacity="1"/><stop offset="0.308" stop-color="#2e2e2e" stop-opacity="1"/><stop offset="0.329" stop-color="#4c4c4c" stop-opacity="1"/><stop offset="0.370" stop-color="#666666" stop-opacity="1"/><stop offset="0.772" stop-color="#7a7a7a" stop-opacity="1"/><stop offset="0.813" stop-color="#8f8f8f" stop-opacity="1"/><stop offset="1.000" stop-color="#9e9e9e" stop-opacity="0"/></linearGradient><linearGradient id="g3_256" gradientUnits="userSpaceOnUse" x1="0" y1="666.2" x2="0" y2="763.0"><stop offset="0.000" stop-color="#9e9e9e" stop-opacity="0"/><stop offset="0.145" stop-color="#8a8a8a" stop-opacity="1"/><stop offset="0.179" stop-color="#7a7a7a" stop-opacity="1"/><stop offset="0.269" stop-color="#4c4c4c" stop-opacity="1"/><stop offset="0.300" stop-color="#2e2e2e" stop-opacity="1"/><stop offset="0.321" stop-color="#4c4c4c" stop-opacity="1"/><stop offset="0.362" stop-color="#666666" stop-opacity="1"/><stop offset="0.773" stop-color="#7a7a7a" stop-opacity="1"/><stop offset="0.814" stop-color="#8f8f8f" stop-opacity="1"/><stop offset="1.000" stop-color="#9e9e9e" stop-opacity="0"/></linearGradient><linearGradient id="g3_260" gradientUnits="userSpaceOnUse" x1="0" y1="666.2" x2="0" y2="763.4"><stop offset="0.000" stop-color="#9e9e9e" stop-opacity="0"/><stop offset="0.144" stop-color="#8a8a8a" stop-opacity="1"/><stop offset="0.176" stop-color="#7a7a7a" stop-opacity="1"/><stop offset="0.262" stop-color="#4c4c4c" stop-opacity="1"/><stop offset="0.292" stop-color="#2e2e2e" stop-opacity="1"/><stop offset="0.313" stop-color="#4c4c4c" stop-opacity="1"/><stop offset="0.354" stop-color="#666666" stop-opacity="1"/><stop offset="0.774" stop-color="#7a7a7a" stop-opacity="1"/><stop offset="0.815" stop-color="#8f8f8f" stop-opacity="1"/><stop offset="1.000" stop-color="#9e9e9e" stop-opacity="0"/></linearGradient><linearGradient id="g3_264" gradientUnits="userSpaceOnUse" x1="0" y1="666.2" x2="0" y2="763.8"><stop offset="0.000" stop-color="#9e9e9e" stop-opacity="0"/><stop offset="0.143" stop-color="#8a8a8a" stop-opacity="1"/><stop offset="0.173" stop-color="#7a7a7a" stop-opacity="1"/><stop offset="0.254" stop-color="#4c4c4c" stop-opacity="1"/><stop offset="0.285" stop-color="#2e2e2e" stop-opacity="1"/><stop offset="0.305" stop-color="#4c4c4c" stop-opacity="1"/><stop offset="0.346" stop-color="#666666" stop-opacity="1"/><stop offset="0.775" stop-color="#7a7a7a" stop-opacity="1"/><stop offset="0.816" stop-color="#8f8f8f" stop-opacity="1"/><stop offset="1.000" stop-color="#9e9e9e" stop-opacity="0"/></linearGradient><linearGradient id="g3_268" gradientUnits="userSpaceOnUse" x1="0" y1="666.2" x2="0" y2="763.2"><stop offset="0.000" stop-color="#9e9e9e" stop-opacity="0"/><stop offset="0.144" stop-color="#8a8a8a" stop-opacity="1"/><stop offset="0.172" stop-color="#7a7a7a" stop-opacity="1"/><stop offset="0.249" stop-color="#4c4c4c" stop-opacity="1"/><stop offset="0.280" stop-color="#2e2e2e" stop-opacity="1"/><stop offset="0.301" stop-color="#4c4c4c" stop-opacity="1"/><stop offset="0.342" stop-color="#666666" stop-opacity="1"/><stop offset="0.773" stop-color="#7a7a7a" stop-opacity="1"/><stop offset="0.814" stop-color="#8f8f8f" stop-opacity="1"/><stop offset="1.000" stop-color="#9e9e9e" stop-opacity="0"/></linearGradient><linearGradient id="g3_272" gradientUnits="userSpaceOnUse" x1="0" y1="666.2" x2="0" y2="761.6"><stop offset="0.000" stop-color="#9e9e9e" stop-opacity="0"/><stop offset="0.147" stop-color="#8a8a8a" stop-opacity="1"/><stop offset="0.172" stop-color="#7a7a7a" stop-opacity="1"/><stop offset="0.247" stop-color="#4c4c4c" stop-opacity="1"/><stop offset="0.278" stop-color="#2e2e2e" stop-opacity="1"/><stop offset="0.299" stop-color="#4c4c4c" stop-opacity="1"/><stop offset="0.341" stop-color="#666666" stop-opacity="1"/><stop offset="0.769" stop-color="#7a7a7a" stop-opacity="1"/><stop offset="0.811" stop-color="#8f8f8f" stop-opacity="1"/><stop offset="1.000" stop-color="#9e9e9e" stop-opacity="0"/></linearGradient><linearGradient id="g3_276" gradientUnits="userSpaceOnUse" x1="0" y1="666.3" x2="0" y2="760.0"><stop offset="0.000" stop-color="#9e9e9e" stop-opacity="0"/><stop offset="0.149" stop-color="#8a8a8a" stop-opacity="1"/><stop offset="0.173" stop-color="#7a7a7a" stop-opacity="1"/><stop offset="0.244" stop-color="#4c4c4c" stop-opacity="1"/><stop offset="0.276" stop-color="#2e2e2e" stop-opacity="1"/><stop offset="0.298" stop-color="#4c4c4c" stop-opacity="1"/><stop offset="0.340" stop-color="#666666" stop-opacity="1"/><stop offset="0.765" stop-color="#7a7a7a" stop-opacity="1"/><stop offset="0.808" stop-color="#8f8f8f" stop-opacity="1"/><stop offset="1.000" stop-color="#9e9e9e" stop-opacity="0"/></linearGradient><linearGradient id="g3_280" gradientUnits="userSpaceOnUse" x1="0" y1="666.3" x2="0" y2="758.4"><stop offset="0.000" stop-color="#9e9e9e" stop-opacity="0"/><stop offset="0.152" stop-color="#8a8a8a" stop-opacity="1"/><stop offset="0.175" stop-color="#7a7a7a" stop-opacity="1"/><stop offset="0.246" stop-color="#4c4c4c" stop-opacity="1"/><stop offset="0.279" stop-color="#2e2e2e" stop-opacity="1"/><stop offset="0.300" stop-color="#4c4c4c" stop-opacity="1"/><stop offset="0.344" stop-color="#666666" stop-opacity="1"/><stop offset="0.761" stop-color="#7a7a7a" stop-opacity="1"/><stop offset="0.805" stop-color="#8f8f8f" stop-opacity="1"/><stop offset="1.000" stop-color="#9e9e9e" stop-opacity="0"/></linearGradient><linearGradient id="g3_284" gradientUnits="userSpaceOnUse" x1="0" y1="666.3" x2="0" y2="756.8"><stop offset="0.000" stop-color="#9e9e9e" stop-opacity="0"/><stop offset="0.155" stop-color="#8a8a8a" stop-opacity="1"/><stop offset="0.178" stop-color="#7a7a7a" stop-opacity="1"/><stop offset="0.250" stop-color="#4c4c4c" stop-opacity="1"/><stop offset="0.283" stop-color="#2e2e2e" stop-opacity="1"/><stop offset="0.305" stop-color="#4c4c4c" stop-opacity="1"/><stop offset="0.349" stop-color="#666666" stop-opacity="1"/><stop offset="0.757" stop-color="#7a7a7a" stop-opacity="1"/><stop offset="0.801" stop-color="#8f8f8f" stop-opacity="1"/><stop offset="1.000" stop-color="#9e9e9e" stop-opacity="0"/></linearGradient><linearGradient id="g3_288" gradientUnits="userSpaceOnUse" x1="0" y1="666.3" x2="0" y2="747.0"><stop offset="0.000" stop-color="#9e9e9e" stop-opacity="0"/><stop offset="0.174" stop-color="#8a8a8a" stop-opacity="1"/><stop offset="0.199" stop-color="#7a7a7a" stop-opacity="1"/><stop offset="0.279" stop-color="#4c4c4c" stop-opacity="1"/><stop offset="0.317" stop-color="#2e2e2e" stop-opacity="1"/><stop offset="0.341" stop-color="#4c4c4c" stop-opacity="1"/><stop offset="0.391" stop-color="#666666" stop-opacity="1"/><stop offset="0.839" stop-color="#7a7a7a" stop-opacity="1"/><stop offset="0.888" stop-color="#8f8f8f" stop-opacity="1"/><stop offset="1.000" stop-color="#9e9e9e" stop-opacity="0"/></linearGradient><linearGradient id="g3_292" gradientUnits="userSpaceOnUse" x1="0" y1="666.3" x2="0" y2="746.9"><stop offset="0.000" stop-color="#9e9e9e" stop-opacity="0"/><stop offset="0.174" stop-color="#8a8a8a" stop-opacity="1"/><stop offset="0.199" stop-color="#7a7a7a" stop-opacity="1"/><stop offset="0.279" stop-color="#4c4c4c" stop-opacity="1"/><stop offset="0.316" stop-color="#2e2e2e" stop-opacity="1"/><stop offset="0.341" stop-color="#4c4c4c" stop-opacity="1"/><stop offset="0.390" stop-color="#666666" stop-opacity="1"/><stop offset="0.839" stop-color="#7a7a7a" stop-opacity="1"/><stop offset="0.888" stop-color="#8f8f8f" stop-opacity="1"/><stop offset="1.000" stop-color="#9e9e9e" stop-opacity="0"/></linearGradient><linearGradient id="g3_296" gradientUnits="userSpaceOnUse" x1="0" y1="666.4" x2="0" y2="746.9"><stop offset="0.000" stop-color="#9e9e9e" stop-opacity="0"/><stop offset="0.174" stop-color="#8a8a8a" stop-opacity="1"/><stop offset="0.199" stop-color="#7a7a7a" stop-opacity="1"/><stop offset="0.278" stop-color="#4c4c4c" stop-opacity="1"/><stop offset="0.315" stop-color="#2e2e2e" stop-opacity="1"/><stop offset="0.340" stop-color="#4c4c4c" stop-opacity="1"/><stop offset="0.390" stop-color="#666666" stop-opacity="1"/><stop offset="0.839" stop-color="#7a7a7a" stop-opacity="1"/><stop offset="0.888" stop-color="#8f8f8f" stop-opacity="1"/><stop offset="1.000" stop-color="#9e9e9e" stop-opacity="0"/></linearGradient><linearGradient id="g3_300" gradientUnits="userSpaceOnUse" x1="0" y1="666.4" x2="0" y2="746.8"><stop offset="0.000" stop-color="#9e9e9e" stop-opacity="0"/><stop offset="0.174" stop-color="#8a8a8a" stop-opacity="1"/><stop offset="0.199" stop-color="#7a7a7a" stop-opacity="1"/><stop offset="0.277" stop-color="#4c4c4c" stop-opacity="1"/><stop offset="0.315" stop-color="#2e2e2e" stop-opacity="1"/><stop offset="0.340" stop-color="#4c4c4c" stop-opacity="1"/><stop offset="0.389" stop-color="#666666" stop-opacity="1"/><stop offset="0.838" stop-color="#7a7a7a" stop-opacity="1"/><stop offset="0.888" stop-color="#8f8f8f" stop-opacity="1"/><stop offset="1.000" stop-color="#9e9e9e" stop-opacity="0"/></linearGradient><linearGradient id="g3_304" gradientUnits="userSpaceOnUse" x1="0" y1="666.4" x2="0" y2="746.8"><stop offset="0.000" stop-color="#9e9e9e" stop-opacity="0"/><stop offset="0.174" stop-color="#8a8a8a" stop-opacity="1"/><stop offset="0.199" stop-color="#7a7a7a" stop-opacity="1"/><stop offset="0.277" stop-color="#4c4c4c" stop-opacity="1"/><stop offset="0.314" stop-color="#2e2e2e" stop-opacity="1"/><stop offset="0.339" stop-color="#4c4c4c" stop-opacity="1"/><stop offset="0.389" stop-color="#666666" stop-opacity="1"/><stop offset="0.838" stop-color="#7a7a7a" stop-opacity="1"/><stop offset="0.888" stop-color="#8f8f8f" stop-opacity="1"/><stop offset="1.000" stop-color="#9e9e9e" stop-opacity="0"/></linearGradient><linearGradient id="g3_308" gradientUnits="userSpaceOnUse" x1="0" y1="666.4" x2="0" y2="746.7"><stop offset="0.000" stop-color="#9e9e9e" stop-opacity="0"/><stop offset="0.174" stop-color="#8a8a8a" stop-opacity="1"/><stop offset="0.199" stop-color="#7a7a7a" stop-opacity="1"/><stop offset="0.276" stop-color="#4c4c4c" stop-opacity="1"/><stop offset="0.313" stop-color="#2e2e2e" stop-opacity="1"/><stop offset="0.338" stop-color="#4c4c4c" stop-opacity="1"/><stop offset="0.388" stop-color="#666666" stop-opacity="1"/><stop offset="0.838" stop-color="#7a7a7a" stop-opacity="1"/><stop offset="0.888" stop-color="#8f8f8f" stop-opacity="1"/><stop offset="1.000" stop-color="#9e9e9e" stop-opacity="0"/></linearGradient><linearGradient id="g3_312" gradientUnits="userSpaceOnUse" x1="0" y1="666.5" x2="0" y2="746.7"><stop offset="0.000" stop-color="#9e9e9e" stop-opacity="0"/><stop offset="0.175" stop-color="#8a8a8a" stop-opacity="1"/><stop offset="0.199" stop-color="#7a7a7a" stop-opacity="1"/><stop offset="0.275" stop-color="#4c4c4c" stop-opacity="1"/><stop offset="0.313" stop-color="#2e2e2e" stop-opacity="1"/><stop offset="0.338" stop-color="#4c4c4c" stop-opacity="1"/><stop offset="0.388" stop-color="#666666" stop-opacity="1"/><stop offset="0.838" stop-color="#7a7a7a" stop-opacity="1"/><stop offset="0.888" stop-color="#8f8f8f" stop-opacity="1"/><stop offset="1.000" stop-color="#9e9e9e" stop-opacity="0"/></linearGradient><linearGradient id="g3_316" gradientUnits="userSpaceOnUse" x1="0" y1="666.5" x2="0" y2="746.6"><stop offset="0.000" stop-color="#9e9e9e" stop-opacity="0"/><stop offset="0.175" stop-color="#8a8a8a" stop-opacity="1"/><stop offset="0.198" stop-color="#7a7a7a" stop-opacity="1"/><stop offset="0.275" stop-color="#4c4c4c" stop-opacity="1"/><stop offset="0.312" stop-color="#2e2e2e" stop-opacity="1"/><stop offset="0.337" stop-color="#4c4c4c" stop-opacity="1"/><stop offset="0.387" stop-color="#666666" stop-opacity="1"/><stop offset="0.838" stop-color="#7a7a7a" stop-opacity="1"/><stop offset="0.888" stop-color="#8f8f8f" stop-opacity="1"/><stop offset="1.000" stop-color="#9e9e9e" stop-opacity="0"/></linearGradient><linearGradient id="g3_320" gradientUnits="userSpaceOnUse" x1="0" y1="666.5" x2="0" y2="746.6"><stop offset="0.000" stop-color="#9e9e9e" stop-opacity="0"/><stop offset="0.175" stop-color="#8a8a8a" stop-opacity="1"/><stop offset="0.198" stop-color="#7a7a7a" stop-opacity="1"/><stop offset="0.274" stop-color="#4c4c4c" stop-opacity="1"/><stop offset="0.311" stop-color="#2e2e2e" stop-opacity="1"/><stop offset="0.336" stop-color="#4c4c4c" stop-opacity="1"/><stop offset="0.386" stop-color="#666666" stop-opacity="1"/><stop offset="0.838" stop-color="#7a7a7a" stop-opacity="1"/><stop offset="0.888" stop-color="#8f8f8f" stop-opacity="1"/><stop offset="1.000" stop-color="#9e9e9e" stop-opacity="0"/></linearGradient><linearGradient id="g3_324" gradientUnits="userSpaceOnUse" x1="0" y1="666.5" x2="0" y2="746.5"><stop offset="0.000" stop-color="#9e9e9e" stop-opacity="0"/><stop offset="0.175" stop-color="#8a8a8a" stop-opacity="1"/><stop offset="0.198" stop-color="#7a7a7a" stop-opacity="1"/><stop offset="0.273" stop-color="#4c4c4c" stop-opacity="1"/><stop offset="0.311" stop-color="#2e2e2e" stop-opacity="1"/><stop offset="0.336" stop-color="#4c4c4c" stop-opacity="1"/><stop offset="0.386" stop-color="#666666" stop-opacity="1"/><stop offset="0.838" stop-color="#7a7a7a" stop-opacity="1"/><stop offset="0.888" stop-color="#8f8f8f" stop-opacity="1"/><stop offset="1.000" stop-color="#9e9e9e" stop-opacity="0"/></linearGradient><linearGradient id="g3_328" gradientUnits="userSpaceOnUse" x1="0" y1="666.5" x2="0" y2="746.5"><stop offset="0.000" stop-color="#9e9e9e" stop-opacity="0"/><stop offset="0.175" stop-color="#8a8a8a" stop-opacity="1"/><stop offset="0.198" stop-color="#7a7a7a" stop-opacity="1"/><stop offset="0.273" stop-color="#4c4c4c" stop-opacity="1"/><stop offset="0.310" stop-color="#2e2e2e" stop-opacity="1"/><stop offset="0.335" stop-color="#4c4c4c" stop-opacity="1"/><stop offset="0.385" stop-color="#666666" stop-opacity="1"/><stop offset="0.837" stop-color="#7a7a7a" stop-opacity="1"/><stop offset="0.887" stop-color="#8f8f8f" stop-opacity="1"/><stop offset="1.000" stop-color="#9e9e9e" stop-opacity="0"/></linearGradient><linearGradient id="g3_332" gradientUnits="userSpaceOnUse" x1="0" y1="666.6" x2="0" y2="746.4"><stop offset="0.000" stop-color="#9e9e9e" stop-opacity="0"/><stop offset="0.175" stop-color="#8a8a8a" stop-opacity="1"/><stop offset="0.198" stop-color="#7a7a7a" stop-opacity="1"/><stop offset="0.272" stop-color="#4c4c4c" stop-opacity="1"/><stop offset="0.309" stop-color="#2e2e2e" stop-opacity="1"/><stop offset="0.335" stop-color="#4c4c4c" stop-opacity="1"/><stop offset="0.385" stop-color="#666666" stop-opacity="1"/><stop offset="0.837" stop-color="#7a7a7a" stop-opacity="1"/><stop offset="0.887" stop-color="#8f8f8f" stop-opacity="1"/><stop offset="1.000" stop-color="#9e9e9e" stop-opacity="0"/></linearGradient><linearGradient id="g3_336" gradientUnits="userSpaceOnUse" x1="0" y1="666.6" x2="0" y2="746.4"><stop offset="0.000" stop-color="#9e9e9e" stop-opacity="0"/><stop offset="0.175" stop-color="#8a8a8a" stop-opacity="1"/><stop offset="0.198" stop-color="#7a7a7a" stop-opacity="1"/><stop offset="0.271" stop-color="#4c4c4c" stop-opacity="1"/><stop offset="0.309" stop-color="#2e2e2e" stop-opacity="1"/><stop offset="0.334" stop-color="#4c4c4c" stop-opacity="1"/><stop offset="0.384" stop-color="#666666" stop-opacity="1"/><stop offset="0.837" stop-color="#7a7a7a" stop-opacity="1"/><stop offset="0.887" stop-color="#8f8f8f" stop-opacity="1"/><stop offset="1.000" stop-color="#9e9e9e" stop-opacity="0"/></linearGradient><linearGradient id="g3_340" gradientUnits="userSpaceOnUse" x1="0" y1="666.6" x2="0" y2="746.3"><stop offset="0.000" stop-color="#9e9e9e" stop-opacity="0"/><stop offset="0.176" stop-color="#8a8a8a" stop-opacity="1"/><stop offset="0.198" stop-color="#7a7a7a" stop-opacity="1"/><stop offset="0.271" stop-color="#4c4c4c" stop-opacity="1"/><stop offset="0.308" stop-color="#2e2e2e" stop-opacity="1"/><stop offset="0.333" stop-color="#4c4c4c" stop-opacity="1"/><stop offset="0.383" stop-color="#666666" stop-opacity="1"/><stop offset="0.837" stop-color="#7a7a7a" stop-opacity="1"/><stop offset="0.887" stop-color="#8f8f8f" stop-opacity="1"/><stop offset="1.000" stop-color="#9e9e9e" stop-opacity="0"/></linearGradient><linearGradient id="g3_344" gradientUnits="userSpaceOnUse" x1="0" y1="666.6" x2="0" y2="746.3"><stop offset="0.000" stop-color="#9e9e9e" stop-opacity="0"/><stop offset="0.176" stop-color="#8a8a8a" stop-opacity="1"/><stop offset="0.197" stop-color="#7a7a7a" stop-opacity="1"/><stop offset="0.270" stop-color="#4c4c4c" stop-opacity="1"/><stop offset="0.308" stop-color="#2e2e2e" stop-opacity="1"/><stop offset="0.333" stop-color="#4c4c4c" stop-opacity="1"/><stop offset="0.383" stop-color="#666666" stop-opacity="1"/><stop offset="0.837" stop-color="#7a7a7a" stop-opacity="1"/><stop offset="0.887" stop-color="#8f8f8f" stop-opacity="1"/><stop offset="1.000" stop-color="#9e9e9e" stop-opacity="0"/></linearGradient><linearGradient id="g3_348" gradientUnits="userSpaceOnUse" x1="0" y1="666.6" x2="0" y2="746.2"><stop offset="0.000" stop-color="#9e9e9e" stop-opacity="0"/><stop offset="0.176" stop-color="#8a8a8a" stop-opacity="1"/><stop offset="0.197" stop-color="#7a7a7a" stop-opacity="1"/><stop offset="0.269" stop-color="#4c4c4c" stop-opacity="1"/><stop offset="0.307" stop-color="#2e2e2e" stop-opacity="1"/><stop offset="0.332" stop-color="#4c4c4c" stop-opacity="1"/><stop offset="0.382" stop-color="#666666" stop-opacity="1"/><stop offset="0.837" stop-color="#7a7a7a" stop-opacity="1"/><stop offset="0.887" stop-color="#8f8f8f" stop-opacity="1"/><stop offset="1.000" stop-color="#9e9e9e" stop-opacity="0"/></linearGradient><linearGradient id="g3_352" gradientUnits="userSpaceOnUse" x1="0" y1="666.7" x2="0" y2="746.2"><stop offset="0.000" stop-color="#9e9e9e" stop-opacity="0"/><stop offset="0.176" stop-color="#8a8a8a" stop-opacity="1"/><stop offset="0.197" stop-color="#7a7a7a" stop-opacity="1"/><stop offset="0.269" stop-color="#4c4c4c" stop-opacity="1"/><stop offset="0.306" stop-color="#2e2e2e" stop-opacity="1"/><stop offset="0.331" stop-color="#4c4c4c" stop-opacity="1"/><stop offset="0.382" stop-color="#666666" stop-opacity="1"/><stop offset="0.837" stop-color="#7a7a7a" stop-opacity="1"/><stop offset="0.887" stop-color="#8f8f8f" stop-opacity="1"/><stop offset="1.000" stop-color="#9e9e9e" stop-opacity="0"/></linearGradient><linearGradient id="g3_356" gradientUnits="userSpaceOnUse" x1="0" y1="666.7" x2="0" y2="746.1"><stop offset="0.000" stop-color="#9e9e9e" stop-opacity="0"/><stop offset="0.176" stop-color="#8a8a8a" stop-opacity="1"/><stop offset="0.198" stop-color="#7a7a7a" stop-opacity="1"/><stop offset="0.270" stop-color="#4c4c4c" stop-opacity="1"/><stop offset="0.308" stop-color="#2e2e2e" stop-opacity="1"/><stop offset="0.333" stop-color="#4c4c4c" stop-opacity="1"/><stop offset="0.383" stop-color="#666666" stop-opacity="1"/><stop offset="0.836" stop-color="#7a7a7a" stop-opacity="1"/><stop offset="0.887" stop-color="#8f8f8f" stop-opacity="1"/><stop offset="1.000" stop-color="#9e9e9e" stop-opacity="0"/></linearGradient><linearGradient id="g3_360" gradientUnits="userSpaceOnUse" x1="0" y1="666.7" x2="0" y2="746.1"><stop offset="0.000" stop-color="#9e9e9e" stop-opacity="0"/><stop offset="0.176" stop-color="#8a8a8a" stop-opacity="1"/><stop offset="0.198" stop-color="#7a7a7a" stop-opacity="1"/><stop offset="0.272" stop-color="#4c4c4c" stop-opacity="1"/><stop offset="0.310" stop-color="#2e2e2e" stop-opacity="1"/><stop offset="0.335" stop-color="#4c4c4c" stop-opacity="1"/><stop offset="0.385" stop-color="#666666" stop-opacity="1"/><stop offset="0.836" stop-color="#7a7a7a" stop-opacity="1"/><stop offset="0.887" stop-color="#8f8f8f" stop-opacity="1"/><stop offset="1.000" stop-color="#9e9e9e" stop-opacity="0"/></linearGradient><linearGradient id="g3_364" gradientUnits="userSpaceOnUse" x1="0" y1="666.7" x2="0" y2="746.0"><stop offset="0.000" stop-color="#9e9e9e" stop-opacity="0"/><stop offset="0.177" stop-color="#8a8a8a" stop-opacity="1"/><stop offset="0.199" stop-color="#7a7a7a" stop-opacity="1"/><stop offset="0.274" stop-color="#4c4c4c" stop-opacity="1"/><stop offset="0.312" stop-color="#2e2e2e" stop-opacity="1"/><stop offset="0.337" stop-color="#4c4c4c" stop-opacity="1"/><stop offset="0.387" stop-color="#666666" stop-opacity="1"/><stop offset="0.836" stop-color="#7a7a7a" stop-opacity="1"/><stop offset="0.887" stop-color="#8f8f8f" stop-opacity="1"/><stop offset="1.000" stop-color="#9e9e9e" stop-opacity="0"/></linearGradient><linearGradient id="g3_368" gradientUnits="userSpaceOnUse" x1="0" y1="666.7" x2="0" y2="745.9"><stop offset="0.000" stop-color="#9e9e9e" stop-opacity="0"/><stop offset="0.177" stop-color="#8a8a8a" stop-opacity="1"/><stop offset="0.200" stop-color="#7a7a7a" stop-opacity="1"/><stop offset="0.276" stop-color="#4c4c4c" stop-opacity="1"/><stop offset="0.314" stop-color="#2e2e2e" stop-opacity="1"/><stop offset="0.339" stop-color="#4c4c4c" stop-opacity="1"/><stop offset="0.390" stop-color="#666666" stop-opacity="1"/><stop offset="0.836" stop-color="#7a7a7a" stop-opacity="1"/><stop offset="0.886" stop-color="#8f8f8f" stop-opacity="1"/><stop offset="1.000" stop-color="#9e9e9e" stop-opacity="0"/></linearGradient><linearGradient id="g3_372" gradientUnits="userSpaceOnUse" x1="0" y1="666.8" x2="0" y2="745.7"><stop offset="0.000" stop-color="#9e9e9e" stop-opacity="0"/><stop offset="0.177" stop-color="#8a8a8a" stop-opacity="1"/><stop offset="0.201" stop-color="#7a7a7a" stop-opacity="1"/><stop offset="0.278" stop-color="#4c4c4c" stop-opacity="1"/><stop offset="0.316" stop-color="#2e2e2e" stop-opacity="1"/><stop offset="0.342" stop-color="#4c4c4c" stop-opacity="1"/><stop offset="0.393" stop-color="#666666" stop-opacity="1"/><stop offset="0.835" stop-color="#7a7a7a" stop-opacity="1"/><stop offset="0.886" stop-color="#8f8f8f" stop-opacity="1"/><stop offset="1.000" stop-color="#9e9e9e" stop-opacity="0"/></linearGradient><linearGradient id="g3_376" gradientUnits="userSpaceOnUse" x1="0" y1="666.8" x2="0" y2="745.5"><stop offset="0.000" stop-color="#9e9e9e" stop-opacity="0"/><stop offset="0.178" stop-color="#8a8a8a" stop-opacity="1"/><stop offset="0.203" stop-color="#7a7a7a" stop-opacity="1"/><stop offset="0.281" stop-color="#4c4c4c" stop-opacity="1"/><stop offset="0.319" stop-color="#2e2e2e" stop-opacity="1"/><stop offset="0.345" stop-color="#4c4c4c" stop-opacity="1"/><stop offset="0.395" stop-color="#666666" stop-opacity="1"/><stop offset="0.835" stop-color="#7a7a7a" stop-opacity="1"/><stop offset="0.886" stop-color="#8f8f8f" stop-opacity="1"/><stop offset="1.000" stop-color="#9e9e9e" stop-opacity="0"/></linearGradient><linearGradient id="g3_380" gradientUnits="userSpaceOnUse" x1="0" y1="666.8" x2="0" y2="745.3"><stop offset="0.000" stop-color="#9e9e9e" stop-opacity="0"/><stop offset="0.178" stop-color="#8a8a8a" stop-opacity="1"/><stop offset="0.204" stop-color="#7a7a7a" stop-opacity="1"/><stop offset="0.284" stop-color="#4c4c4c" stop-opacity="1"/><stop offset="0.322" stop-color="#2e2e2e" stop-opacity="1"/><stop offset="0.347" stop-color="#4c4c4c" stop-opacity="1"/><stop offset="0.398" stop-color="#666666" stop-opacity="1"/><stop offset="0.834" stop-color="#7a7a7a" stop-opacity="1"/><stop offset="0.885" stop-color="#8f8f8f" stop-opacity="1"/><stop offset="1.000" stop-color="#9e9e9e" stop-opacity="0"/></linearGradient><linearGradient id="g3_384" gradientUnits="userSpaceOnUse" x1="0" y1="666.8" x2="0" y2="745.1"><stop offset="0.000" stop-color="#9e9e9e" stop-opacity="0"/><stop offset="0.179" stop-color="#8a8a8a" stop-opacity="1"/><stop offset="0.205" stop-color="#7a7a7a" stop-opacity="1"/><stop offset="0.286" stop-color="#4c4c4c" stop-opacity="1"/><stop offset="0.325" stop-color="#2e2e2e" stop-opacity="1"/><stop offset="0.350" stop-color="#4c4c4c" stop-opacity="1"/><stop offset="0.401" stop-color="#666666" stop-opacity="1"/><stop offset="0.834" stop-color="#7a7a7a" stop-opacity="1"/><stop offset="0.885" stop-color="#8f8f8f" stop-opacity="1"/><stop offset="1.000" stop-color="#9e9e9e" stop-opacity="0"/></linearGradient><linearGradient id="g3_388" gradientUnits="userSpaceOnUse" x1="0" y1="666.9" x2="0" y2="744.8"><stop offset="0.000" stop-color="#9e9e9e" stop-opacity="0"/><stop offset="0.180" stop-color="#8a8a8a" stop-opacity="1"/><stop offset="0.206" stop-color="#7a7a7a" stop-opacity="1"/><stop offset="0.289" stop-color="#4c4c4c" stop-opacity="1"/><stop offset="0.327" stop-color="#2e2e2e" stop-opacity="1"/><stop offset="0.353" stop-color="#4c4c4c" stop-opacity="1"/><stop offset="0.404" stop-color="#666666" stop-opacity="1"/><stop offset="0.833" stop-color="#7a7a7a" stop-opacity="1"/><stop offset="0.885" stop-color="#8f8f8f" stop-opacity="1"/><stop offset="1.000" stop-color="#9e9e9e" stop-opacity="0"/></linearGradient><linearGradient id="g3_392" gradientUnits="userSpaceOnUse" x1="0" y1="666.9" x2="0" y2="744.6"><stop offset="0.000" stop-color="#9e9e9e" stop-opacity="0"/><stop offset="0.180" stop-color="#8a8a8a" stop-opacity="1"/><stop offset="0.207" stop-color="#7a7a7a" stop-opacity="1"/><stop offset="0.291" stop-color="#4c4c4c" stop-opacity="1"/><stop offset="0.330" stop-color="#2e2e2e" stop-opacity="1"/><stop offset="0.356" stop-color="#4c4c4c" stop-opacity="1"/><stop offset="0.407" stop-color="#666666" stop-opacity="1"/><stop offset="0.833" stop-color="#7a7a7a" stop-opacity="1"/><stop offset="0.884" stop-color="#8f8f8f" stop-opacity="1"/><stop offset="1.000" stop-color="#9e9e9e" stop-opacity="0"/></linearGradient><linearGradient id="g3_396" gradientUnits="userSpaceOnUse" x1="0" y1="666.9" x2="0" y2="744.4"><stop offset="0.000" stop-color="#9e9e9e" stop-opacity="0"/><stop offset="0.181" stop-color="#8a8a8a" stop-opacity="1"/><stop offset="0.209" stop-color="#7a7a7a" stop-opacity="1"/><stop offset="0.294" stop-color="#4c4c4c" stop-opacity="1"/><stop offset="0.333" stop-color="#2e2e2e" stop-opacity="1"/><stop offset="0.358" stop-color="#4c4c4c" stop-opacity="1"/><stop offset="0.410" stop-color="#666666" stop-opacity="1"/><stop offset="0.832" stop-color="#7a7a7a" stop-opacity="1"/><stop offset="0.884" stop-color="#8f8f8f" stop-opacity="1"/><stop offset="1.000" stop-color="#9e9e9e" stop-opacity="0"/></linearGradient><linearGradient id="g3_400" gradientUnits="userSpaceOnUse" x1="0" y1="666.9" x2="0" y2="744.2"><stop offset="0.000" stop-color="#9e9e9e" stop-opacity="0"/><stop offset="0.181" stop-color="#8a8a8a" stop-opacity="1"/><stop offset="0.210" stop-color="#7a7a7a" stop-opacity="1"/><stop offset="0.297" stop-color="#4c4c4c" stop-opacity="1"/><stop offset="0.335" stop-color="#2e2e2e" stop-opacity="1"/><stop offset="0.361" stop-color="#4c4c4c" stop-opacity="1"/><stop offset="0.413" stop-color="#666666" stop-opacity="1"/><stop offset="0.832" stop-color="#7a7a7a" stop-opacity="1"/><stop offset="0.884" stop-color="#8f8f8f" stop-opacity="1"/><stop offset="1.000" stop-color="#9e9e9e" stop-opacity="0"/></linearGradient><linearGradient id="g3_404" gradientUnits="userSpaceOnUse" x1="0" y1="666.9" x2="0" y2="744.0"><stop offset="0.000" stop-color="#9e9e9e" stop-opacity="0"/><stop offset="0.182" stop-color="#8a8a8a" stop-opacity="1"/><stop offset="0.211" stop-color="#7a7a7a" stop-opacity="1"/><stop offset="0.299" stop-color="#4c4c4c" stop-opacity="1"/><stop offset="0.338" stop-color="#2e2e2e" stop-opacity="1"/><stop offset="0.364" stop-color="#4c4c4c" stop-opacity="1"/><stop offset="0.416" stop-color="#666666" stop-opacity="1"/><stop offset="0.831" stop-color="#7a7a7a" stop-opacity="1"/><stop offset="0.883" stop-color="#8f8f8f" stop-opacity="1"/><stop offset="1.000" stop-color="#9e9e9e" stop-opacity="0"/></linearGradient><linearGradient id="g3_408" gradientUnits="userSpaceOnUse" x1="0" y1="667.0" x2="0" y2="742.0"><stop offset="0.000" stop-color="#9e9e9e" stop-opacity="0"/><stop offset="0.187" stop-color="#8a8a8a" stop-opacity="1"/><stop offset="0.221" stop-color="#7a7a7a" stop-opacity="1"/><stop offset="0.320" stop-color="#4c4c4c" stop-opacity="1"/><stop offset="0.360" stop-color="#2e2e2e" stop-opacity="1"/><stop offset="0.386" stop-color="#4c4c4c" stop-opacity="1"/><stop offset="0.440" stop-color="#666666" stop-opacity="1"/><stop offset="0.827" stop-color="#7a7a7a" stop-opacity="1"/><stop offset="0.880" stop-color="#8f8f8f" stop-opacity="1"/><stop offset="1.000" stop-color="#9e9e9e" stop-opacity="0"/></linearGradient><linearGradient id="g3_412" gradientUnits="userSpaceOnUse" x1="0" y1="667.0" x2="0" y2="740.0"><stop offset="0.000" stop-color="#9e9e9e" stop-opacity="0"/><stop offset="0.192" stop-color="#8a8a8a" stop-opacity="1"/><stop offset="0.232" stop-color="#7a7a7a" stop-opacity="1"/><stop offset="0.341" stop-color="#4c4c4c" stop-opacity="1"/><stop offset="0.382" stop-color="#2e2e2e" stop-opacity="1"/><stop offset="0.410" stop-color="#4c4c4c" stop-opacity="1"/><stop offset="0.465" stop-color="#666666" stop-opacity="1"/><stop offset="0.822" stop-color="#7a7a7a" stop-opacity="1"/><stop offset="0.877" stop-color="#8f8f8f" stop-opacity="1"/><stop offset="1.000" stop-color="#9e9e9e" stop-opacity="0"/></linearGradient><linearGradient id="g3_416" gradientUnits="userSpaceOnUse" x1="0" y1="667.0" x2="0" y2="738.0"><stop offset="0.000" stop-color="#9e9e9e" stop-opacity="0"/><stop offset="0.197" stop-color="#8a8a8a" stop-opacity="1"/><stop offset="0.243" stop-color="#7a7a7a" stop-opacity="1"/><stop offset="0.364" stop-color="#4c4c4c" stop-opacity="1"/><stop offset="0.406" stop-color="#2e2e2e" stop-opacity="1"/><stop offset="0.435" stop-color="#4c4c4c" stop-opacity="1"/><stop offset="0.491" stop-color="#666666" stop-opacity="1"/><stop offset="0.817" stop-color="#7a7a7a" stop-opacity="1"/><stop offset="0.873" stop-color="#8f8f8f" stop-opacity="1"/><stop offset="1.000" stop-color="#9e9e9e" stop-opacity="0"/></linearGradient><linearGradient id="g3_420" gradientUnits="userSpaceOnUse" x1="0" y1="669.0" x2="0" y2="737.1"><stop offset="0.000" stop-color="#9e9e9e" stop-opacity="0"/><stop offset="0.205" stop-color="#8a8a8a" stop-opacity="1"/><stop offset="0.248" stop-color="#7a7a7a" stop-opacity="1"/><stop offset="0.364" stop-color="#4c4c4c" stop-opacity="1"/><stop offset="0.408" stop-color="#2e2e2e" stop-opacity="1"/><stop offset="0.437" stop-color="#4c4c4c" stop-opacity="1"/><stop offset="0.496" stop-color="#666666" stop-opacity="1"/><stop offset="0.809" stop-color="#7a7a7a" stop-opacity="1"/><stop offset="0.868" stop-color="#8f8f8f" stop-opacity="1"/><stop offset="1.000" stop-color="#9e9e9e" stop-opacity="0"/></linearGradient><linearGradient id="g3_424" gradientUnits="userSpaceOnUse" x1="0" y1="671.0" x2="0" y2="736.3"><stop offset="0.000" stop-color="#9e9e9e" stop-opacity="0"/><stop offset="0.214" stop-color="#8a8a8a" stop-opacity="1"/><stop offset="0.253" stop-color="#7a7a7a" stop-opacity="1"/><stop offset="0.364" stop-color="#4c4c4c" stop-opacity="1"/><stop offset="0.410" stop-color="#2e2e2e" stop-opacity="1"/><stop offset="0.441" stop-color="#4c4c4c" stop-opacity="1"/><stop offset="0.502" stop-color="#666666" stop-opacity="1"/><stop offset="0.801" stop-color="#7a7a7a" stop-opacity="1"/><stop offset="0.862" stop-color="#8f8f8f" stop-opacity="1"/><stop offset="1.000" stop-color="#9e9e9e" stop-opacity="0"/></linearGradient><linearGradient id="g3_428" gradientUnits="userSpaceOnUse" x1="0" y1="672.5" x2="0" y2="735.4"><stop offset="0.000" stop-color="#9e9e9e" stop-opacity="0"/><stop offset="0.222" stop-color="#8a8a8a" stop-opacity="1"/><stop offset="0.260" stop-color="#7a7a7a" stop-opacity="1"/><stop offset="0.371" stop-color="#4c4c4c" stop-opacity="1"/><stop offset="0.418" stop-color="#2e2e2e" stop-opacity="1"/><stop offset="0.450" stop-color="#4c4c4c" stop-opacity="1"/><stop offset="0.514" stop-color="#666666" stop-opacity="1"/><stop offset="0.794" stop-color="#7a7a7a" stop-opacity="1"/><stop offset="0.857" stop-color="#8f8f8f" stop-opacity="1"/><stop offset="1.000" stop-color="#9e9e9e" stop-opacity="0"/></linearGradient><linearGradient id="g3_432" gradientUnits="userSpaceOnUse" x1="0" y1="673.4" x2="0" y2="734.9"><stop offset="0.000" stop-color="#9e9e9e" stop-opacity="0"/><stop offset="0.227" stop-color="#8a8a8a" stop-opacity="1"/><stop offset="0.267" stop-color="#7a7a7a" stop-opacity="1"/><stop offset="0.382" stop-color="#4c4c4c" stop-opacity="1"/><stop offset="0.431" stop-color="#2e2e2e" stop-opacity="1"/><stop offset="0.463" stop-color="#4c4c4c" stop-opacity="1"/><stop offset="0.528" stop-color="#666666" stop-opacity="1"/><stop offset="0.789" stop-color="#7a7a7a" stop-opacity="1"/><stop offset="0.854" stop-color="#8f8f8f" stop-opacity="1"/><stop offset="1.000" stop-color="#9e9e9e" stop-opacity="0"/></linearGradient><linearGradient id="g3_436" gradientUnits="userSpaceOnUse" x1="0" y1="674.2" x2="0" y2="734.8"><stop offset="0.000" stop-color="#9e9e9e" stop-opacity="0"/><stop offset="0.231" stop-color="#8a8a8a" stop-opacity="1"/><stop offset="0.272" stop-color="#7a7a7a" stop-opacity="1"/><stop offset="0.391" stop-color="#4c4c4c" stop-opacity="1"/><stop offset="0.440" stop-color="#2e2e2e" stop-opacity="1"/><stop offset="0.473" stop-color="#4c4c4c" stop-opacity="1"/><stop offset="0.539" stop-color="#666666" stop-opacity="1"/><stop offset="0.785" stop-color="#7a7a7a" stop-opacity="1"/><stop offset="0.851" stop-color="#8f8f8f" stop-opacity="1"/><stop offset="1.000" stop-color="#9e9e9e" stop-opacity="0"/></linearGradient><linearGradient id="g3_440" gradientUnits="userSpaceOnUse" x1="0" y1="675.1" x2="0" y2="734.7"><stop offset="0.000" stop-color="#9e9e9e" stop-opacity="0"/><stop offset="0.235" stop-color="#8a8a8a" stop-opacity="1"/><stop offset="0.278" stop-color="#7a7a7a" stop-opacity="1"/><stop offset="0.400" stop-color="#4c4c4c" stop-opacity="1"/><stop offset="0.451" stop-color="#2e2e2e" stop-opacity="1"/><stop offset="0.484" stop-color="#4c4c4c" stop-opacity="1"/><stop offset="0.551" stop-color="#666666" stop-opacity="1"/><stop offset="0.782" stop-color="#7a7a7a" stop-opacity="1"/><stop offset="0.849" stop-color="#8f8f8f" stop-opacity="1"/><stop offset="1.000" stop-color="#9e9e9e" stop-opacity="0"/></linearGradient><linearGradient id="g3_444" gradientUnits="userSpaceOnUse" x1="0" y1="676.0" x2="0" y2="734.6"><stop offset="0.000" stop-color="#9e9e9e" stop-opacity="0"/><stop offset="0.239" stop-color="#8a8a8a" stop-opacity="1"/><stop offset="0.284" stop-color="#7a7a7a" stop-opacity="1"/><stop offset="0.410" stop-color="#4c4c4c" stop-opacity="1"/><stop offset="0.461" stop-color="#2e2e2e" stop-opacity="1"/><stop offset="0.495" stop-color="#4c4c4c" stop-opacity="1"/><stop offset="0.564" stop-color="#666666" stop-opacity="1"/><stop offset="0.778" stop-color="#7a7a7a" stop-opacity="1"/><stop offset="0.846" stop-color="#8f8f8f" stop-opacity="1"/><stop offset="1.000" stop-color="#9e9e9e" stop-opacity="0"/></linearGradient><linearGradient id="g3_448" gradientUnits="userSpaceOnUse" x1="0" y1="677.0" x2="0" y2="734.5"><stop offset="0.000" stop-color="#9e9e9e" stop-opacity="0"/><stop offset="0.243" stop-color="#8a8a8a" stop-opacity="1"/><stop offset="0.290" stop-color="#7a7a7a" stop-opacity="1"/><stop offset="0.420" stop-color="#4c4c4c" stop-opacity="1"/><stop offset="0.472" stop-color="#2e2e2e" stop-opacity="1"/><stop offset="0.507" stop-color="#4c4c4c" stop-opacity="1"/><stop offset="0.577" stop-color="#666666" stop-opacity="1"/><stop offset="0.774" stop-color="#7a7a7a" stop-opacity="1"/><stop offset="0.844" stop-color="#8f8f8f" stop-opacity="1"/><stop offset="1.000" stop-color="#9e9e9e" stop-opacity="0"/></linearGradient><linearGradient id="g3_452" gradientUnits="userSpaceOnUse" x1="0" y1="677.9" x2="0" y2="734.4"><stop offset="0.000" stop-color="#9e9e9e" stop-opacity="0"/><stop offset="0.248" stop-color="#8a8a8a" stop-opacity="1"/><stop offset="0.296" stop-color="#7a7a7a" stop-opacity="1"/><stop offset="0.431" stop-color="#4c4c4c" stop-opacity="1"/><stop offset="0.484" stop-color="#2e2e2e" stop-opacity="1"/><stop offset="0.519" stop-color="#4c4c4c" stop-opacity="1"/><stop offset="0.590" stop-color="#666666" stop-opacity="1"/><stop offset="0.770" stop-color="#7a7a7a" stop-opacity="1"/><stop offset="0.841" stop-color="#8f8f8f" stop-opacity="1"/><stop offset="1.000" stop-color="#9e9e9e" stop-opacity="0"/></linearGradient><linearGradient id="g3_456" gradientUnits="userSpaceOnUse" x1="0" y1="678.8" x2="0" y2="734.3"><stop offset="0.000" stop-color="#9e9e9e" stop-opacity="0"/><stop offset="0.252" stop-color="#8a8a8a" stop-opacity="1"/><stop offset="0.302" stop-color="#7a7a7a" stop-opacity="1"/><stop offset="0.440" stop-color="#4c4c4c" stop-opacity="1"/><stop offset="0.494" stop-color="#2e2e2e" stop-opacity="1"/><stop offset="0.530" stop-color="#4c4c4c" stop-opacity="1"/><stop offset="0.602" stop-color="#666666" stop-opacity="1"/><stop offset="0.766" stop-color="#7a7a7a" stop-opacity="1"/><stop offset="0.838" stop-color="#8f8f8f" stop-opacity="1"/><stop offset="1.000" stop-color="#9e9e9e" stop-opacity="0"/></linearGradient><linearGradient id="g3_460" gradientUnits="userSpaceOnUse" x1="0" y1="679.6" x2="0" y2="734.2"><stop offset="0.000" stop-color="#9e9e9e" stop-opacity="0"/><stop offset="0.257" stop-color="#8a8a8a" stop-opacity="1"/><stop offset="0.305" stop-color="#7a7a7a" stop-opacity="1"/><stop offset="0.443" stop-color="#4c4c4c" stop-opacity="1"/><stop offset="0.498" stop-color="#2e2e2e" stop-opacity="1"/><stop offset="0.535" stop-color="#4c4c4c" stop-opacity="1"/><stop offset="0.608" stop-color="#666666" stop-opacity="1"/><stop offset="0.762" stop-color="#7a7a7a" stop-opacity="1"/><stop offset="0.835" stop-color="#8f8f8f" stop-opacity="1"/><stop offset="1.000" stop-color="#9e9e9e" stop-opacity="0"/></linearGradient><linearGradient id="g3_464" gradientUnits="userSpaceOnUse" x1="0" y1="680.5" x2="0" y2="734.1"><stop offset="0.000" stop-color="#9e9e9e" stop-opacity="0"/><stop offset="0.262" stop-color="#8a8a8a" stop-opacity="1"/><stop offset="0.310" stop-color="#7a7a7a" stop-opacity="1"/><stop offset="0.447" stop-color="#4c4c4c" stop-opacity="1"/><stop offset="0.503" stop-color="#2e2e2e" stop-opacity="1"/><stop offset="0.540" stop-color="#4c4c4c" stop-opacity="1"/><stop offset="0.615" stop-color="#666666" stop-opacity="1"/><stop offset="0.757" stop-color="#7a7a7a" stop-opacity="1"/><stop offset="0.832" stop-color="#8f8f8f" stop-opacity="1"/><stop offset="1.000" stop-color="#9e9e9e" stop-opacity="0"/></linearGradient><linearGradient id="g3_468" gradientUnits="userSpaceOnUse" x1="0" y1="681.6" x2="0" y2="734.4"><stop offset="0.000" stop-color="#9e9e9e" stop-opacity="0"/><stop offset="0.265" stop-color="#8a8a8a" stop-opacity="1"/><stop offset="0.311" stop-color="#7a7a7a" stop-opacity="1"/><stop offset="0.445" stop-color="#4c4c4c" stop-opacity="1"/><stop offset="0.502" stop-color="#2e2e2e" stop-opacity="1"/><stop offset="0.540" stop-color="#4c4c4c" stop-opacity="1"/><stop offset="0.616" stop-color="#666666" stop-opacity="1"/><stop offset="0.754" stop-color="#7a7a7a" stop-opacity="1"/><stop offset="0.830" stop-color="#8f8f8f" stop-opacity="1"/><stop offset="1.000" stop-color="#9e9e9e" stop-opacity="0"/></linearGradient><linearGradient id="g3_472" gradientUnits="userSpaceOnUse" x1="0" y1="682.7" x2="0" y2="735.2"><stop offset="0.000" stop-color="#9e9e9e" stop-opacity="0"/><stop offset="0.267" stop-color="#8a8a8a" stop-opacity="1"/><stop offset="0.310" stop-color="#7a7a7a" stop-opacity="1"/><stop offset="0.438" stop-color="#4c4c4c" stop-opacity="1"/><stop offset="0.496" stop-color="#2e2e2e" stop-opacity="1"/><stop offset="0.534" stop-color="#4c4c4c" stop-opacity="1"/><stop offset="0.610" stop-color="#666666" stop-opacity="1"/><stop offset="0.752" stop-color="#7a7a7a" stop-opacity="1"/><stop offset="0.828" stop-color="#8f8f8f" stop-opacity="1"/><stop offset="1.000" stop-color="#9e9e9e" stop-opacity="0"/></linearGradient><linearGradient id="g3_476" gradientUnits="userSpaceOnUse" x1="0" y1="683.9" x2="0" y2="736.0"><stop offset="0.000" stop-color="#9e9e9e" stop-opacity="0"/><stop offset="0.269" stop-color="#8a8a8a" stop-opacity="1"/><stop offset="0.308" stop-color="#7a7a7a" stop-opacity="1"/><stop offset="0.432" stop-color="#4c4c4c" stop-opacity="1"/><stop offset="0.489" stop-color="#2e2e2e" stop-opacity="1"/><stop offset="0.528" stop-color="#4c4c4c" stop-opacity="1"/><stop offset="0.604" stop-color="#666666" stop-opacity="1"/><stop offset="0.751" stop-color="#7a7a7a" stop-opacity="1"/><stop offset="0.827" stop-color="#8f8f8f" stop-opacity="1"/><stop offset="1.000" stop-color="#9e9e9e" stop-opacity="0"/></linearGradient><linearGradient id="g3_480" gradientUnits="userSpaceOnUse" x1="0" y1="685.1" x2="0" y2="736.8"><stop offset="0.000" stop-color="#9e9e9e" stop-opacity="0"/><stop offset="0.271" stop-color="#8a8a8a" stop-opacity="1"/><stop offset="0.307" stop-color="#7a7a7a" stop-opacity="1"/><stop offset="0.425" stop-color="#4c4c4c" stop-opacity="1"/><stop offset="0.483" stop-color="#2e2e2e" stop-opacity="1"/><stop offset="0.521" stop-color="#4c4c4c" stop-opacity="1"/><stop offset="0.599" stop-color="#666666" stop-opacity="1"/><stop offset="0.749" stop-color="#7a7a7a" stop-opacity="1"/><stop offset="0.826" stop-color="#8f8f8f" stop-opacity="1"/><stop offset="1.000" stop-color="#9e9e9e" stop-opacity="0"/></linearGradient><linearGradient id="g3_484" gradientUnits="userSpaceOnUse" x1="0" y1="686.2" x2="0" y2="737.6"><stop offset="0.000" stop-color="#9e9e9e" stop-opacity="0"/><stop offset="0.272" stop-color="#8a8a8a" stop-opacity="1"/><stop offset="0.306" stop-color="#7a7a7a" stop-opacity="1"/><stop offset="0.418" stop-color="#4c4c4c" stop-opacity="1"/><stop offset="0.476" stop-color="#2e2e2e" stop-opacity="1"/><stop offset="0.515" stop-color="#4c4c4c" stop-opacity="1"/><stop offset="0.593" stop-color="#666666" stop-opacity="1"/><stop offset="0.747" stop-color="#7a7a7a" stop-opacity="1"/><stop offset="0.825" stop-color="#8f8f8f" stop-opacity="1"/><stop offset="1.000" stop-color="#9e9e9e" stop-opacity="0"/></linearGradient><linearGradient id="g3_488" gradientUnits="userSpaceOnUse" x1="0" y1="687.4" x2="0" y2="738.4"><stop offset="0.000" stop-color="#9e9e9e" stop-opacity="0"/><stop offset="0.274" stop-color="#8a8a8a" stop-opacity="1"/><stop offset="0.304" stop-color="#7a7a7a" stop-opacity="1"/><stop offset="0.409" stop-color="#4c4c4c" stop-opacity="1"/><stop offset="0.468" stop-color="#2e2e2e" stop-opacity="1"/><stop offset="0.507" stop-color="#4c4c4c" stop-opacity="1"/><stop offset="0.586" stop-color="#666666" stop-opacity="1"/><stop offset="0.745" stop-color="#7a7a7a" stop-opacity="1"/><stop offset="0.824" stop-color="#8f8f8f" stop-opacity="1"/><stop offset="1.000" stop-color="#9e9e9e" stop-opacity="0"/></linearGradient><linearGradient id="g3_492" gradientUnits="userSpaceOnUse" x1="0" y1="688.5" x2="0" y2="739.1"><stop offset="0.000" stop-color="#9e9e9e" stop-opacity="0"/><stop offset="0.277" stop-color="#8a8a8a" stop-opacity="1"/><stop offset="0.302" stop-color="#7a7a7a" stop-opacity="1"/><stop offset="0.400" stop-color="#4c4c4c" stop-opacity="1"/><stop offset="0.459" stop-color="#2e2e2e" stop-opacity="1"/><stop offset="0.499" stop-color="#4c4c4c" stop-opacity="1"/><stop offset="0.578" stop-color="#666666" stop-opacity="1"/><stop offset="0.743" stop-color="#7a7a7a" stop-opacity="1"/><stop offset="0.822" stop-color="#8f8f8f" stop-opacity="1"/><stop offset="1.000" stop-color="#9e9e9e" stop-opacity="0"/></linearGradient><linearGradient id="g3_496" gradientUnits="userSpaceOnUse" x1="0" y1="689.7" x2="0" y2="739.5"><stop offset="0.000" stop-color="#9e9e9e" stop-opacity="0"/><stop offset="0.281" stop-color="#8a8a8a" stop-opacity="1"/><stop offset="0.302" stop-color="#7a7a7a" stop-opacity="1"/><stop offset="0.393" stop-color="#4c4c4c" stop-opacity="1"/><stop offset="0.453" stop-color="#2e2e2e" stop-opacity="1"/><stop offset="0.493" stop-color="#4c4c4c" stop-opacity="1"/><stop offset="0.574" stop-color="#666666" stop-opacity="1"/><stop offset="0.739" stop-color="#7a7a7a" stop-opacity="1"/><stop offset="0.819" stop-color="#8f8f8f" stop-opacity="1"/><stop offset="1.000" stop-color="#9e9e9e" stop-opacity="0"/></linearGradient><linearGradient id="g3_500" gradientUnits="userSpaceOnUse" x1="0" y1="690.8" x2="0" y2="739.9"><stop offset="0.000" stop-color="#9e9e9e" stop-opacity="0"/><stop offset="0.285" stop-color="#8a8a8a" stop-opacity="1"/><stop offset="0.302" stop-color="#7a7a7a" stop-opacity="1"/><stop offset="0.386" stop-color="#4c4c4c" stop-opacity="1"/><stop offset="0.447" stop-color="#2e2e2e" stop-opacity="1"/><stop offset="0.488" stop-color="#4c4c4c" stop-opacity="1"/><stop offset="0.569" stop-color="#666666" stop-opacity="1"/><stop offset="0.735" stop-color="#7a7a7a" stop-opacity="1"/><stop offset="0.816" stop-color="#8f8f8f" stop-opacity="1"/><stop offset="1.000" stop-color="#9e9e9e" stop-opacity="0"/></linearGradient><linearGradient id="g3_504" gradientUnits="userSpaceOnUse" x1="0" y1="692.0" x2="0" y2="740.3"><stop offset="0.000" stop-color="#9e9e9e" stop-opacity="0"/><stop offset="0.290" stop-color="#8a8a8a" stop-opacity="1"/><stop offset="0.302" stop-color="#7a7a7a" stop-opacity="1"/><stop offset="0.378" stop-color="#4c4c4c" stop-opacity="1"/><stop offset="0.440" stop-color="#2e2e2e" stop-opacity="1"/><stop offset="0.482" stop-color="#4c4c4c" stop-opacity="1"/><stop offset="0.564" stop-color="#666666" stop-opacity="1"/><stop offset="0.731" stop-color="#7a7a7a" stop-opacity="1"/><stop offset="0.814" stop-color="#8f8f8f" stop-opacity="1"/><stop offset="1.000" stop-color="#9e9e9e" stop-opacity="0"/></linearGradient><linearGradient id="g3_508" gradientUnits="userSpaceOnUse" x1="0" y1="691.7" x2="0" y2="740.7"><stop offset="0.000" stop-color="#9e9e9e" stop-opacity="0"/><stop offset="0.286" stop-color="#8a8a8a" stop-opacity="1"/><stop offset="0.304" stop-color="#7a7a7a" stop-opacity="1"/><stop offset="0.389" stop-color="#4c4c4c" stop-opacity="1"/><stop offset="0.450" stop-color="#2e2e2e" stop-opacity="1"/><stop offset="0.491" stop-color="#4c4c4c" stop-opacity="1"/><stop offset="0.573" stop-color="#666666" stop-opacity="1"/><stop offset="0.734" stop-color="#7a7a7a" stop-opacity="1"/><stop offset="0.816" stop-color="#8f8f8f" stop-opacity="1"/><stop offset="1.000" stop-color="#9e9e9e" stop-opacity="0"/></linearGradient><linearGradient id="g3_512" gradientUnits="userSpaceOnUse" x1="0" y1="691.4" x2="0" y2="741.1"><stop offset="0.000" stop-color="#9e9e9e" stop-opacity="0"/><stop offset="0.282" stop-color="#8a8a8a" stop-opacity="1"/><stop offset="0.305" stop-color="#7a7a7a" stop-opacity="1"/><stop offset="0.399" stop-color="#4c4c4c" stop-opacity="1"/><stop offset="0.460" stop-color="#2e2e2e" stop-opacity="1"/><stop offset="0.500" stop-color="#4c4c4c" stop-opacity="1"/><stop offset="0.581" stop-color="#666666" stop-opacity="1"/><stop offset="0.738" stop-color="#7a7a7a" stop-opacity="1"/><stop offset="0.819" stop-color="#8f8f8f" stop-opacity="1"/><stop offset="1.000" stop-color="#9e9e9e" stop-opacity="0"/></linearGradient><linearGradient id="g3_516" gradientUnits="userSpaceOnUse" x1="0" y1="691.1" x2="0" y2="741.5"><stop offset="0.000" stop-color="#9e9e9e" stop-opacity="0"/><stop offset="0.278" stop-color="#8a8a8a" stop-opacity="1"/><stop offset="0.306" stop-color="#7a7a7a" stop-opacity="1"/><stop offset="0.410" stop-color="#4c4c4c" stop-opacity="1"/><stop offset="0.469" stop-color="#2e2e2e" stop-opacity="1"/><stop offset="0.509" stop-color="#4c4c4c" stop-opacity="1"/><stop offset="0.589" stop-color="#666666" stop-opacity="1"/><stop offset="0.742" stop-color="#7a7a7a" stop-opacity="1"/><stop offset="0.821" stop-color="#8f8f8f" stop-opacity="1"/><stop offset="1.000" stop-color="#9e9e9e" stop-opacity="0"/></linearGradient><linearGradient id="g3_520" gradientUnits="userSpaceOnUse" x1="0" y1="690.9" x2="0" y2="741.8"><stop offset="0.000" stop-color="#9e9e9e" stop-opacity="0"/><stop offset="0.275" stop-color="#8a8a8a" stop-opacity="1"/><stop offset="0.308" stop-color="#7a7a7a" stop-opacity="1"/><stop offset="0.420" stop-color="#4c4c4c" stop-opacity="1"/><stop offset="0.478" stop-color="#2e2e2e" stop-opacity="1"/><stop offset="0.518" stop-color="#4c4c4c" stop-opacity="1"/><stop offset="0.596" stop-color="#666666" stop-opacity="1"/><stop offset="0.745" stop-color="#7a7a7a" stop-opacity="1"/><stop offset="0.823" stop-color="#8f8f8f" stop-opacity="1"/><stop offset="1.000" stop-color="#9e9e9e" stop-opacity="0"/></linearGradient><linearGradient id="g3_524" gradientUnits="userSpaceOnUse" x1="0" y1="690.6" x2="0" y2="742.2"><stop offset="0.000" stop-color="#9e9e9e" stop-opacity="0"/><stop offset="0.271" stop-color="#8a8a8a" stop-opacity="1"/><stop offset="0.309" stop-color="#7a7a7a" stop-opacity="1"/><stop offset="0.429" stop-color="#4c4c4c" stop-opacity="1"/><stop offset="0.487" stop-color="#2e2e2e" stop-opacity="1"/><stop offset="0.526" stop-color="#4c4c4c" stop-opacity="1"/><stop offset="0.603" stop-color="#666666" stop-opacity="1"/><stop offset="0.748" stop-color="#7a7a7a" stop-opacity="1"/><stop offset="0.826" stop-color="#8f8f8f" stop-opacity="1"/><stop offset="1.000" stop-color="#9e9e9e" stop-opacity="0"/></linearGradient><linearGradient id="g3_528" gradientUnits="userSpaceOnUse" x1="0" y1="690.3" x2="0" y2="742.6"><stop offset="0.000" stop-color="#9e9e9e" stop-opacity="0"/><stop offset="0.267" stop-color="#8a8a8a" stop-opacity="1"/><stop offset="0.309" stop-color="#7a7a7a" stop-opacity="1"/><stop offset="0.434" stop-color="#4c4c4c" stop-opacity="1"/><stop offset="0.491" stop-color="#2e2e2e" stop-opacity="1"/><stop offset="0.529" stop-color="#4c4c4c" stop-opacity="1"/><stop offset="0.606" stop-color="#666666" stop-opacity="1"/><stop offset="0.752" stop-color="#7a7a7a" stop-opacity="1"/><stop offset="0.828" stop-color="#8f8f8f" stop-opacity="1"/><stop offset="1.000" stop-color="#9e9e9e" stop-opacity="0"/></linearGradient><linearGradient id="g3_532" gradientUnits="userSpaceOnUse" x1="0" y1="690.0" x2="0" y2="743.0"><stop offset="0.000" stop-color="#9e9e9e" stop-opacity="0"/><stop offset="0.264" stop-color="#8a8a8a" stop-opacity="1"/><stop offset="0.306" stop-color="#7a7a7a" stop-opacity="1"/><stop offset="0.434" stop-color="#4c4c4c" stop-opacity="1"/><stop offset="0.490" stop-color="#2e2e2e" stop-opacity="1"/><stop offset="0.528" stop-color="#4c4c4c" stop-opacity="1"/><stop offset="0.604" stop-color="#666666" stop-opacity="1"/><stop offset="0.755" stop-color="#7a7a7a" stop-opacity="1"/><stop offset="0.830" stop-color="#8f8f8f" stop-opacity="1"/><stop offset="1.000" stop-color="#9e9e9e" stop-opacity="0"/></linearGradient><linearGradient id="g3_536" gradientUnits="userSpaceOnUse" x1="0" y1="689.7" x2="0" y2="743.4"><stop offset="0.000" stop-color="#9e9e9e" stop-opacity="0"/><stop offset="0.261" stop-color="#8a8a8a" stop-opacity="1"/><stop offset="0.304" stop-color="#7a7a7a" stop-opacity="1"/><stop offset="0.434" stop-color="#4c4c4c" stop-opacity="1"/><stop offset="0.490" stop-color="#2e2e2e" stop-opacity="1"/><stop offset="0.527" stop-color="#4c4c4c" stop-opacity="1"/><stop offset="0.601" stop-color="#666666" stop-opacity="1"/><stop offset="0.758" stop-color="#7a7a7a" stop-opacity="1"/><stop offset="0.832" stop-color="#8f8f8f" stop-opacity="1"/><stop offset="1.000" stop-color="#9e9e9e" stop-opacity="0"/></linearGradient><linearGradient id="g3_540" gradientUnits="userSpaceOnUse" x1="0" y1="689.4" x2="0" y2="743.8"><stop offset="0.000" stop-color="#9e9e9e" stop-opacity="0"/><stop offset="0.257" stop-color="#8a8a8a" stop-opacity="1"/><stop offset="0.303" stop-color="#7a7a7a" stop-opacity="1"/><stop offset="0.433" stop-color="#4c4c4c" stop-opacity="1"/><stop offset="0.489" stop-color="#2e2e2e" stop-opacity="1"/><stop offset="0.525" stop-color="#4c4c4c" stop-opacity="1"/><stop offset="0.599" stop-color="#666666" stop-opacity="1"/><stop offset="0.761" stop-color="#7a7a7a" stop-opacity="1"/><stop offset="0.834" stop-color="#8f8f8f" stop-opacity="1"/><stop offset="1.000" stop-color="#9e9e9e" stop-opacity="0"/></linearGradient><linearGradient id="g3_544" gradientUnits="userSpaceOnUse" x1="0" y1="689.1" x2="0" y2="744.0"><stop offset="0.000" stop-color="#9e9e9e" stop-opacity="0"/><stop offset="0.255" stop-color="#8a8a8a" stop-opacity="1"/><stop offset="0.302" stop-color="#7a7a7a" stop-opacity="1"/><stop offset="0.435" stop-color="#4c4c4c" stop-opacity="1"/><stop offset="0.490" stop-color="#2e2e2e" stop-opacity="1"/><stop offset="0.526" stop-color="#4c4c4c" stop-opacity="1"/><stop offset="0.599" stop-color="#666666" stop-opacity="1"/><stop offset="0.763" stop-color="#7a7a7a" stop-opacity="1"/><stop offset="0.836" stop-color="#8f8f8f" stop-opacity="1"/><stop offset="1.000" stop-color="#9e9e9e" stop-opacity="0"/></linearGradient><linearGradient id="g3_548" gradientUnits="userSpaceOnUse" x1="0" y1="687.9" x2="0" y2="744.0"><stop offset="0.000" stop-color="#9e9e9e" stop-opacity="0"/><stop offset="0.250" stop-color="#8a8a8a" stop-opacity="1"/><stop offset="0.303" stop-color="#7a7a7a" stop-opacity="1"/><stop offset="0.447" stop-color="#4c4c4c" stop-opacity="1"/><stop offset="0.501" stop-color="#2e2e2e" stop-opacity="1"/><stop offset="0.536" stop-color="#4c4c4c" stop-opacity="1"/><stop offset="0.608" stop-color="#666666" stop-opacity="1"/><stop offset="0.768" stop-color="#7a7a7a" stop-opacity="1"/><stop offset="0.840" stop-color="#8f8f8f" stop-opacity="1"/><stop offset="1.000" stop-color="#9e9e9e" stop-opacity="0"/></linearGradient><linearGradient id="g3_552" gradientUnits="userSpaceOnUse" x1="0" y1="685.7" x2="0" y2="744.0"><stop offset="0.000" stop-color="#9e9e9e" stop-opacity="0"/><stop offset="0.240" stop-color="#8a8a8a" stop-opacity="1"/><stop offset="0.305" stop-color="#7a7a7a" stop-opacity="1"/><stop offset="0.468" stop-color="#4c4c4c" stop-opacity="1"/><stop offset="0.520" stop-color="#2e2e2e" stop-opacity="1"/><stop offset="0.554" stop-color="#4c4c4c" stop-opacity="1"/><stop offset="0.622" stop-color="#666666" stop-opacity="1"/><stop offset="0.777" stop-color="#7a7a7a" stop-opacity="1"/><stop offset="0.846" stop-color="#8f8f8f" stop-opacity="1"/><stop offset="1.000" stop-color="#9e9e9e" stop-opacity="0"/></linearGradient><linearGradient id="g3_556" gradientUnits="userSpaceOnUse" x1="0" y1="683.5" x2="0" y2="744.0"><stop offset="0.000" stop-color="#9e9e9e" stop-opacity="0"/><stop offset="0.232" stop-color="#8a8a8a" stop-opacity="1"/><stop offset="0.306" stop-color="#7a7a7a" stop-opacity="1"/><stop offset="0.487" stop-color="#4c4c4c" stop-opacity="1"/><stop offset="0.537" stop-color="#2e2e2e" stop-opacity="1"/><stop offset="0.570" stop-color="#4c4c4c" stop-opacity="1"/><stop offset="0.636" stop-color="#666666" stop-opacity="1"/><stop offset="0.785" stop-color="#7a7a7a" stop-opacity="1"/><stop offset="0.851" stop-color="#8f8f8f" stop-opacity="1"/><stop offset="1.000" stop-color="#9e9e9e" stop-opacity="0"/></linearGradient><linearGradient id="g3_560" gradientUnits="userSpaceOnUse" x1="0" y1="681.4" x2="0" y2="744.0"><stop offset="0.000" stop-color="#9e9e9e" stop-opacity="0"/><stop offset="0.224" stop-color="#8a8a8a" stop-opacity="1"/><stop offset="0.308" stop-color="#7a7a7a" stop-opacity="1"/><stop offset="0.505" stop-color="#4c4c4c" stop-opacity="1"/><stop offset="0.553" stop-color="#2e2e2e" stop-opacity="1"/><stop offset="0.585" stop-color="#4c4c4c" stop-opacity="1"/><stop offset="0.649" stop-color="#666666" stop-opacity="1"/><stop offset="0.792" stop-color="#7a7a7a" stop-opacity="1"/><stop offset="0.856" stop-color="#8f8f8f" stop-opacity="1"/><stop offset="1.000" stop-color="#9e9e9e" stop-opacity="0"/></linearGradient><linearGradient id="g3_564" gradientUnits="userSpaceOnUse" x1="0" y1="679.2" x2="0" y2="744.0"><stop offset="0.000" stop-color="#9e9e9e" stop-opacity="0"/><stop offset="0.216" stop-color="#8a8a8a" stop-opacity="1"/><stop offset="0.309" stop-color="#7a7a7a" stop-opacity="1"/><stop offset="0.522" stop-color="#4c4c4c" stop-opacity="1"/><stop offset="0.568" stop-color="#2e2e2e" stop-opacity="1"/><stop offset="0.599" stop-color="#4c4c4c" stop-opacity="1"/><stop offset="0.661" stop-color="#666666" stop-opacity="1"/><stop offset="0.799" stop-color="#7a7a7a" stop-opacity="1"/><stop offset="0.861" stop-color="#8f8f8f" stop-opacity="1"/><stop offset="1.000" stop-color="#9e9e9e" stop-opacity="0"/></linearGradient><linearGradient id="g3_568" gradientUnits="userSpaceOnUse" x1="0" y1="677.0" x2="0" y2="744.0"><stop offset="0.000" stop-color="#9e9e9e" stop-opacity="0"/><stop offset="0.209" stop-color="#8a8a8a" stop-opacity="1"/><stop offset="0.310" stop-color="#7a7a7a" stop-opacity="1"/><stop offset="0.537" stop-color="#4c4c4c" stop-opacity="1"/><stop offset="0.582" stop-color="#2e2e2e" stop-opacity="1"/><stop offset="0.612" stop-color="#4c4c4c" stop-opacity="1"/><stop offset="0.672" stop-color="#666666" stop-opacity="1"/><stop offset="0.806" stop-color="#7a7a7a" stop-opacity="1"/><stop offset="0.866" stop-color="#8f8f8f" stop-opacity="1"/><stop offset="1.000" stop-color="#9e9e9e" stop-opacity="0"/></linearGradient><linearGradient id="g3_572" gradientUnits="userSpaceOnUse" x1="0" y1="677.4" x2="0" y2="744.4"><stop offset="0.000" stop-color="#9e9e9e" stop-opacity="0"/><stop offset="0.209" stop-color="#8a8a8a" stop-opacity="1"/><stop offset="0.308" stop-color="#7a7a7a" stop-opacity="1"/><stop offset="0.531" stop-color="#4c4c4c" stop-opacity="1"/><stop offset="0.576" stop-color="#2e2e2e" stop-opacity="1"/><stop offset="0.606" stop-color="#4c4c4c" stop-opacity="1"/><stop offset="0.666" stop-color="#666666" stop-opacity="1"/><stop offset="0.806" stop-color="#7a7a7a" stop-opacity="1"/><stop offset="0.866" stop-color="#8f8f8f" stop-opacity="1"/><stop offset="1.000" stop-color="#9e9e9e" stop-opacity="0"/></linearGradient><linearGradient id="g3_576" gradientUnits="userSpaceOnUse" x1="0" y1="677.9" x2="0" y2="744.8"><stop offset="0.000" stop-color="#9e9e9e" stop-opacity="0"/><stop offset="0.209" stop-color="#8a8a8a" stop-opacity="1"/><stop offset="0.306" stop-color="#7a7a7a" stop-opacity="1"/><stop offset="0.525" stop-color="#4c4c4c" stop-opacity="1"/><stop offset="0.570" stop-color="#2e2e2e" stop-opacity="1"/><stop offset="0.600" stop-color="#4c4c4c" stop-opacity="1"/><stop offset="0.659" stop-color="#666666" stop-opacity="1"/><stop offset="0.806" stop-color="#7a7a7a" stop-opacity="1"/><stop offset="0.865" stop-color="#8f8f8f" stop-opacity="1"/><stop offset="1.000" stop-color="#9e9e9e" stop-opacity="0"/></linearGradient><linearGradient id="g3_580" gradientUnits="userSpaceOnUse" x1="0" y1="678.3" x2="0" y2="745.2"><stop offset="0.000" stop-color="#9e9e9e" stop-opacity="0"/><stop offset="0.209" stop-color="#8a8a8a" stop-opacity="1"/><stop offset="0.304" stop-color="#7a7a7a" stop-opacity="1"/><stop offset="0.519" stop-color="#4c4c4c" stop-opacity="1"/><stop offset="0.564" stop-color="#2e2e2e" stop-opacity="1"/><stop offset="0.593" stop-color="#4c4c4c" stop-opacity="1"/><stop offset="0.653" stop-color="#666666" stop-opacity="1"/><stop offset="0.806" stop-color="#7a7a7a" stop-opacity="1"/><stop offset="0.865" stop-color="#8f8f8f" stop-opacity="1"/><stop offset="1.000" stop-color="#9e9e9e" stop-opacity="0"/></linearGradient><linearGradient id="g3_584" gradientUnits="userSpaceOnUse" x1="0" y1="678.8" x2="0" y2="745.6"><stop offset="0.000" stop-color="#9e9e9e" stop-opacity="0"/><stop offset="0.210" stop-color="#8a8a8a" stop-opacity="1"/><stop offset="0.302" stop-color="#7a7a7a" stop-opacity="1"/><stop offset="0.512" stop-color="#4c4c4c" stop-opacity="1"/><stop offset="0.557" stop-color="#2e2e2e" stop-opacity="1"/><stop offset="0.587" stop-color="#4c4c4c" stop-opacity="1"/><stop offset="0.647" stop-color="#666666" stop-opacity="1"/><stop offset="0.805" stop-color="#7a7a7a" stop-opacity="1"/><stop offset="0.865" stop-color="#8f8f8f" stop-opacity="1"/><stop offset="1.000" stop-color="#9e9e9e" stop-opacity="0"/></linearGradient><linearGradient id="g3_588" gradientUnits="userSpaceOnUse" x1="0" y1="679.1" x2="0" y2="746.0"><stop offset="0.000" stop-color="#9e9e9e" stop-opacity="0"/><stop offset="0.209" stop-color="#8a8a8a" stop-opacity="1"/><stop offset="0.300" stop-color="#7a7a7a" stop-opacity="1"/><stop offset="0.507" stop-color="#4c4c4c" stop-opacity="1"/><stop offset="0.552" stop-color="#2e2e2e" stop-opacity="1"/><stop offset="0.582" stop-color="#4c4c4c" stop-opacity="1"/><stop offset="0.641" stop-color="#666666" stop-opacity="1"/><stop offset="0.805" stop-color="#7a7a7a" stop-opacity="1"/><stop offset="0.865" stop-color="#8f8f8f" stop-opacity="1"/><stop offset="1.000" stop-color="#9e9e9e" stop-opacity="0"/></linearGradient><linearGradient id="g3_592" gradientUnits="userSpaceOnUse" x1="0" y1="679.4" x2="0" y2="746.4"><stop offset="0.000" stop-color="#9e9e9e" stop-opacity="0"/><stop offset="0.209" stop-color="#8a8a8a" stop-opacity="1"/><stop offset="0.298" stop-color="#7a7a7a" stop-opacity="1"/><stop offset="0.502" stop-color="#4c4c4c" stop-opacity="1"/><stop offset="0.547" stop-color="#2e2e2e" stop-opacity="1"/><stop offset="0.577" stop-color="#4c4c4c" stop-opacity="1"/><stop offset="0.636" stop-color="#666666" stop-opacity="1"/><stop offset="0.806" stop-color="#7a7a7a" stop-opacity="1"/><stop offset="0.866" stop-color="#8f8f8f" stop-opacity="1"/><stop offset="1.000" stop-color="#9e9e9e" stop-opacity="0"/></linearGradient><linearGradient id="g3_596" gradientUnits="userSpaceOnUse" x1="0" y1="679.7" x2="0" y2="746.7"><stop offset="0.000" stop-color="#9e9e9e" stop-opacity="0"/><stop offset="0.209" stop-color="#8a8a8a" stop-opacity="1"/><stop offset="0.296" stop-color="#7a7a7a" stop-opacity="1"/><stop offset="0.497" stop-color="#4c4c4c" stop-opacity="1"/><stop offset="0.542" stop-color="#2e2e2e" stop-opacity="1"/><stop offset="0.572" stop-color="#4c4c4c" stop-opacity="1"/><stop offset="0.631" stop-color="#666666" stop-opacity="1"/><stop offset="0.806" stop-color="#7a7a7a" stop-opacity="1"/><stop offset="0.866" stop-color="#8f8f8f" stop-opacity="1"/><stop offset="1.000" stop-color="#9e9e9e" stop-opacity="0"/></linearGradient><linearGradient id="g3_600" gradientUnits="userSpaceOnUse" x1="0" y1="679.9" x2="0" y2="747.1"><stop offset="0.000" stop-color="#9e9e9e" stop-opacity="0"/><stop offset="0.208" stop-color="#8a8a8a" stop-opacity="1"/><stop offset="0.294" stop-color="#7a7a7a" stop-opacity="1"/><stop offset="0.492" stop-color="#4c4c4c" stop-opacity="1"/><stop offset="0.537" stop-color="#2e2e2e" stop-opacity="1"/><stop offset="0.567" stop-color="#4c4c4c" stop-opacity="1"/><stop offset="0.626" stop-color="#666666" stop-opacity="1"/><stop offset="0.807" stop-color="#7a7a7a" stop-opacity="1"/><stop offset="0.866" stop-color="#8f8f8f" stop-opacity="1"/><stop offset="1.000" stop-color="#9e9e9e" stop-opacity="0"/></linearGradient><linearGradient id="g3_604" gradientUnits="userSpaceOnUse" x1="0" y1="680.2" x2="0" y2="747.5"><stop offset="0.000" stop-color="#9e9e9e" stop-opacity="0"/><stop offset="0.208" stop-color="#8a8a8a" stop-opacity="1"/><stop offset="0.292" stop-color="#7a7a7a" stop-opacity="1"/><stop offset="0.487" stop-color="#4c4c4c" stop-opacity="1"/><stop offset="0.532" stop-color="#2e2e2e" stop-opacity="1"/><stop offset="0.562" stop-color="#4c4c4c" stop-opacity="1"/><stop offset="0.621" stop-color="#666666" stop-opacity="1"/><stop offset="0.807" stop-color="#7a7a7a" stop-opacity="1"/><stop offset="0.866" stop-color="#8f8f8f" stop-opacity="1"/><stop offset="1.000" stop-color="#9e9e9e" stop-opacity="0"/></linearGradient><linearGradient id="g3_608" gradientUnits="userSpaceOnUse" x1="0" y1="680.4" x2="0" y2="747.9"><stop offset="0.000" stop-color="#9e9e9e" stop-opacity="0"/><stop offset="0.207" stop-color="#8a8a8a" stop-opacity="1"/><stop offset="0.290" stop-color="#7a7a7a" stop-opacity="1"/><stop offset="0.483" stop-color="#4c4c4c" stop-opacity="1"/><stop offset="0.527" stop-color="#2e2e2e" stop-opacity="1"/><stop offset="0.557" stop-color="#4c4c4c" stop-opacity="1"/><stop offset="0.616" stop-color="#666666" stop-opacity="1"/><stop offset="0.807" stop-color="#7a7a7a" stop-opacity="1"/><stop offset="0.867" stop-color="#8f8f8f" stop-opacity="1"/><stop offset="1.000" stop-color="#9e9e9e" stop-opacity="0"/></linearGradient><linearGradient id="g3_612" gradientUnits="userSpaceOnUse" x1="0" y1="680.7" x2="0" y2="748.3"><stop offset="0.000" stop-color="#9e9e9e" stop-opacity="0"/><stop offset="0.207" stop-color="#8a8a8a" stop-opacity="1"/><stop offset="0.288" stop-color="#7a7a7a" stop-opacity="1"/><stop offset="0.478" stop-color="#4c4c4c" stop-opacity="1"/><stop offset="0.522" stop-color="#2e2e2e" stop-opacity="1"/><stop offset="0.552" stop-color="#4c4c4c" stop-opacity="1"/><stop offset="0.611" stop-color="#666666" stop-opacity="1"/><stop offset="0.808" stop-color="#7a7a7a" stop-opacity="1"/><stop offset="0.867" stop-color="#8f8f8f" stop-opacity="1"/><stop offset="1.000" stop-color="#9e9e9e" stop-opacity="0"/></linearGradient><linearGradient id="g3_616" gradientUnits="userSpaceOnUse" x1="0" y1="681.0" x2="0" y2="748.7"><stop offset="0.000" stop-color="#9e9e9e" stop-opacity="0"/><stop offset="0.207" stop-color="#8a8a8a" stop-opacity="1"/><stop offset="0.287" stop-color="#7a7a7a" stop-opacity="1"/><stop offset="0.473" stop-color="#4c4c4c" stop-opacity="1"/><stop offset="0.517" stop-color="#2e2e2e" stop-opacity="1"/><stop offset="0.547" stop-color="#4c4c4c" stop-opacity="1"/><stop offset="0.606" stop-color="#666666" stop-opacity="1"/><stop offset="0.808" stop-color="#7a7a7a" stop-opacity="1"/><stop offset="0.867" stop-color="#8f8f8f" stop-opacity="1"/><stop offset="1.000" stop-color="#9e9e9e" stop-opacity="0"/></linearGradient><linearGradient id="g3_620" gradientUnits="userSpaceOnUse" x1="0" y1="681.2" x2="0" y2="749.2"><stop offset="0.000" stop-color="#9e9e9e" stop-opacity="0"/><stop offset="0.206" stop-color="#8a8a8a" stop-opacity="1"/><stop offset="0.284" stop-color="#7a7a7a" stop-opacity="1"/><stop offset="0.468" stop-color="#4c4c4c" stop-opacity="1"/><stop offset="0.512" stop-color="#2e2e2e" stop-opacity="1"/><stop offset="0.541" stop-color="#4c4c4c" stop-opacity="1"/><stop offset="0.600" stop-color="#666666" stop-opacity="1"/><stop offset="0.809" stop-color="#7a7a7a" stop-opacity="1"/><stop offset="0.868" stop-color="#8f8f8f" stop-opacity="1"/><stop offset="1.000" stop-color="#9e9e9e" stop-opacity="0"/></linearGradient><linearGradient id="g3_624" gradientUnits="userSpaceOnUse" x1="0" y1="681.5" x2="0" y2="749.8"><stop offset="0.000" stop-color="#9e9e9e" stop-opacity="0"/><stop offset="0.205" stop-color="#8a8a8a" stop-opacity="1"/><stop offset="0.282" stop-color="#7a7a7a" stop-opacity="1"/><stop offset="0.461" stop-color="#4c4c4c" stop-opacity="1"/><stop offset="0.505" stop-color="#2e2e2e" stop-opacity="1"/><stop offset="0.535" stop-color="#4c4c4c" stop-opacity="1"/><stop offset="0.593" stop-color="#666666" stop-opacity="1"/><stop offset="0.810" stop-color="#7a7a7a" stop-opacity="1"/><stop offset="0.868" stop-color="#8f8f8f" stop-opacity="1"/><stop offset="1.000" stop-color="#9e9e9e" stop-opacity="0"/></linearGradient><linearGradient id="g3_628" gradientUnits="userSpaceOnUse" x1="0" y1="681.7" x2="0" y2="750.4"><stop offset="0.000" stop-color="#9e9e9e" stop-opacity="0"/><stop offset="0.204" stop-color="#8a8a8a" stop-opacity="1"/><stop offset="0.279" stop-color="#7a7a7a" stop-opacity="1"/><stop offset="0.455" stop-color="#4c4c4c" stop-opacity="1"/><stop offset="0.499" stop-color="#2e2e2e" stop-opacity="1"/><stop offset="0.528" stop-color="#4c4c4c" stop-opacity="1"/><stop offset="0.586" stop-color="#666666" stop-opacity="1"/><stop offset="0.811" stop-color="#7a7a7a" stop-opacity="1"/><stop offset="0.869" stop-color="#8f8f8f" stop-opacity="1"/><stop offset="1.000" stop-color="#9e9e9e" stop-opacity="0"/></linearGradient><linearGradient id="g3_632" gradientUnits="userSpaceOnUse" x1="0" y1="682.0" x2="0" y2="751.0"><stop offset="0.000" stop-color="#9e9e9e" stop-opacity="0"/><stop offset="0.203" stop-color="#8a8a8a" stop-opacity="1"/><stop offset="0.276" stop-color="#7a7a7a" stop-opacity="1"/><stop offset="0.448" stop-color="#4c4c4c" stop-opacity="1"/><stop offset="0.492" stop-color="#2e2e2e" stop-opacity="1"/><stop offset="0.521" stop-color="#4c4c4c" stop-opacity="1"/><stop offset="0.579" stop-color="#666666" stop-opacity="1"/><stop offset="0.812" stop-color="#7a7a7a" stop-opacity="1"/><stop offset="0.870" stop-color="#8f8f8f" stop-opacity="1"/><stop offset="1.000" stop-color="#9e9e9e" stop-opacity="0"/></linearGradient><linearGradient id="g3_636" gradientUnits="userSpaceOnUse" x1="0" y1="682.2" x2="0" y2="751.7"><stop offset="0.000" stop-color="#9e9e9e" stop-opacity="0"/><stop offset="0.202" stop-color="#8a8a8a" stop-opacity="1"/><stop offset="0.273" stop-color="#7a7a7a" stop-opacity="1"/><stop offset="0.442" stop-color="#4c4c4c" stop-opacity="1"/><stop offset="0.485" stop-color="#2e2e2e" stop-opacity="1"/><stop offset="0.514" stop-color="#4c4c4c" stop-opacity="1"/><stop offset="0.572" stop-color="#666666" stop-opacity="1"/><stop offset="0.813" stop-color="#7a7a7a" stop-opacity="1"/><stop offset="0.870" stop-color="#8f8f8f" stop-opacity="1"/><stop offset="1.000" stop-color="#9e9e9e" stop-opacity="0"/></linearGradient><linearGradient id="g3_640" gradientUnits="userSpaceOnUse" x1="0" y1="682.4" x2="0" y2="752.3"><stop offset="0.000" stop-color="#9e9e9e" stop-opacity="0"/><stop offset="0.200" stop-color="#8a8a8a" stop-opacity="1"/><stop offset="0.270" stop-color="#7a7a7a" stop-opacity="1"/><stop offset="0.436" stop-color="#4c4c4c" stop-opacity="1"/><stop offset="0.479" stop-color="#2e2e2e" stop-opacity="1"/><stop offset="0.507" stop-color="#4c4c4c" stop-opacity="1"/><stop offset="0.565" stop-color="#666666" stop-opacity="1"/><stop offset="0.814" stop-color="#7a7a7a" stop-opacity="1"/><stop offset="0.871" stop-color="#8f8f8f" stop-opacity="1"/><stop offset="1.000" stop-color="#9e9e9e" stop-opacity="0"/></linearGradient><linearGradient id="g3_644" gradientUnits="userSpaceOnUse" x1="0" y1="682.6" x2="0" y2="752.9"><stop offset="0.000" stop-color="#9e9e9e" stop-opacity="0"/><stop offset="0.199" stop-color="#8a8a8a" stop-opacity="1"/><stop offset="0.267" stop-color="#7a7a7a" stop-opacity="1"/><stop offset="0.430" stop-color="#4c4c4c" stop-opacity="1"/><stop offset="0.472" stop-color="#2e2e2e" stop-opacity="1"/><stop offset="0.501" stop-color="#4c4c4c" stop-opacity="1"/><stop offset="0.558" stop-color="#666666" stop-opacity="1"/><stop offset="0.815" stop-color="#7a7a7a" stop-opacity="1"/><stop offset="0.872" stop-color="#8f8f8f" stop-opacity="1"/><stop offset="1.000" stop-color="#9e9e9e" stop-opacity="0"/></linearGradient><linearGradient id="g3_648" gradientUnits="userSpaceOnUse" x1="0" y1="682.8" x2="0" y2="753.5"><stop offset="0.000" stop-color="#9e9e9e" stop-opacity="0"/><stop offset="0.198" stop-color="#8a8a8a" stop-opacity="1"/><stop offset="0.264" stop-color="#7a7a7a" stop-opacity="1"/><stop offset="0.424" stop-color="#4c4c4c" stop-opacity="1"/><stop offset="0.466" stop-color="#2e2e2e" stop-opacity="1"/><stop offset="0.495" stop-color="#4c4c4c" stop-opacity="1"/><stop offset="0.551" stop-color="#666666" stop-opacity="1"/><stop offset="0.816" stop-color="#7a7a7a" stop-opacity="1"/><stop offset="0.873" stop-color="#8f8f8f" stop-opacity="1"/><stop offset="1.000" stop-color="#9e9e9e" stop-opacity="0"/></linearGradient><linearGradient id="g3_652" gradientUnits="userSpaceOnUse" x1="0" y1="683.0" x2="0" y2="754.2"><stop offset="0.000" stop-color="#9e9e9e" stop-opacity="0"/><stop offset="0.197" stop-color="#8a8a8a" stop-opacity="1"/><stop offset="0.262" stop-color="#7a7a7a" stop-opacity="1"/><stop offset="0.418" stop-color="#4c4c4c" stop-opacity="1"/><stop offset="0.460" stop-color="#2e2e2e" stop-opacity="1"/><stop offset="0.488" stop-color="#4c4c4c" stop-opacity="1"/><stop offset="0.544" stop-color="#666666" stop-opacity="1"/><stop offset="0.817" stop-color="#7a7a7a" stop-opacity="1"/><stop offset="0.873" stop-color="#8f8f8f" stop-opacity="1"/><stop offset="1.000" stop-color="#9e9e9e" stop-opacity="0"/></linearGradient><linearGradient id="g3_656" gradientUnits="userSpaceOnUse" x1="0" y1="683.2" x2="0" y2="754.8"><stop offset="0.000" stop-color="#9e9e9e" stop-opacity="0"/><stop offset="0.196" stop-color="#8a8a8a" stop-opacity="1"/><stop offset="0.259" stop-color="#7a7a7a" stop-opacity="1"/><stop offset="0.412" stop-color="#4c4c4c" stop-opacity="1"/><stop offset="0.454" stop-color="#2e2e2e" stop-opacity="1"/><stop offset="0.482" stop-color="#4c4c4c" stop-opacity="1"/><stop offset="0.538" stop-color="#666666" stop-opacity="1"/><stop offset="0.818" stop-color="#7a7a7a" stop-opacity="1"/><stop offset="0.874" stop-color="#8f8f8f" stop-opacity="1"/><stop offset="1.000" stop-color="#9e9e9e" stop-opacity="0"/></linearGradient><linearGradient id="g3_660" gradientUnits="userSpaceOnUse" x1="0" y1="683.4" x2="0" y2="755.4"><stop offset="0.000" stop-color="#9e9e9e" stop-opacity="0"/><stop offset="0.194" stop-color="#8a8a8a" stop-opacity="1"/><stop offset="0.256" stop-color="#7a7a7a" stop-opacity="1"/><stop offset="0.406" stop-color="#4c4c4c" stop-opacity="1"/><stop offset="0.448" stop-color="#2e2e2e" stop-opacity="1"/><stop offset="0.476" stop-color="#4c4c4c" stop-opacity="1"/><stop offset="0.531" stop-color="#666666" stop-opacity="1"/><stop offset="0.819" stop-color="#7a7a7a" stop-opacity="1"/><stop offset="0.875" stop-color="#8f8f8f" stop-opacity="1"/><stop offset="1.000" stop-color="#9e9e9e" stop-opacity="0"/></linearGradient><linearGradient id="g3_664" gradientUnits="userSpaceOnUse" x1="0" y1="683.7" x2="0" y2="756.1"><stop offset="0.000" stop-color="#9e9e9e" stop-opacity="0"/><stop offset="0.193" stop-color="#8a8a8a" stop-opacity="1"/><stop offset="0.253" stop-color="#7a7a7a" stop-opacity="1"/><stop offset="0.401" stop-color="#4c4c4c" stop-opacity="1"/><stop offset="0.442" stop-color="#2e2e2e" stop-opacity="1"/><stop offset="0.470" stop-color="#4c4c4c" stop-opacity="1"/><stop offset="0.525" stop-color="#666666" stop-opacity="1"/><stop offset="0.820" stop-color="#7a7a7a" stop-opacity="1"/><stop offset="0.876" stop-color="#8f8f8f" stop-opacity="1"/><stop offset="1.000" stop-color="#9e9e9e" stop-opacity="0"/></linearGradient><linearGradient id="g3_668" gradientUnits="userSpaceOnUse" x1="0" y1="683.9" x2="0" y2="756.7"><stop offset="0.000" stop-color="#9e9e9e" stop-opacity="0"/><stop offset="0.192" stop-color="#8a8a8a" stop-opacity="1"/><stop offset="0.251" stop-color="#7a7a7a" stop-opacity="1"/><stop offset="0.395" stop-color="#4c4c4c" stop-opacity="1"/><stop offset="0.436" stop-color="#2e2e2e" stop-opacity="1"/><stop offset="0.464" stop-color="#4c4c4c" stop-opacity="1"/><stop offset="0.518" stop-color="#666666" stop-opacity="1"/><stop offset="0.821" stop-color="#7a7a7a" stop-opacity="1"/><stop offset="0.876" stop-color="#8f8f8f" stop-opacity="1"/><stop offset="1.000" stop-color="#9e9e9e" stop-opacity="0"/></linearGradient><linearGradient id="g3_672" gradientUnits="userSpaceOnUse" x1="0" y1="684.1" x2="0" y2="757.0"><stop offset="0.000" stop-color="#9e9e9e" stop-opacity="0"/><stop offset="0.192" stop-color="#8a8a8a" stop-opacity="1"/><stop offset="0.249" stop-color="#7a7a7a" stop-opacity="1"/><stop offset="0.391" stop-color="#4c4c4c" stop-opacity="1"/><stop offset="0.432" stop-color="#2e2e2e" stop-opacity="1"/><stop offset="0.460" stop-color="#4c4c4c" stop-opacity="1"/><stop offset="0.514" stop-color="#666666" stop-opacity="1"/><stop offset="0.822" stop-color="#7a7a7a" stop-opacity="1"/><stop offset="0.877" stop-color="#8f8f8f" stop-opacity="1"/><stop offset="1.000" stop-color="#9e9e9e" stop-opacity="0"/></linearGradient><linearGradient id="g3_676" gradientUnits="userSpaceOnUse" x1="0" y1="684.3" x2="0" y2="757.0"><stop offset="0.000" stop-color="#9e9e9e" stop-opacity="0"/><stop offset="0.193" stop-color="#8a8a8a" stop-opacity="1"/><stop offset="0.249" stop-color="#7a7a7a" stop-opacity="1"/><stop offset="0.389" stop-color="#4c4c4c" stop-opacity="1"/><stop offset="0.430" stop-color="#2e2e2e" stop-opacity="1"/><stop offset="0.457" stop-color="#4c4c4c" stop-opacity="1"/><stop offset="0.512" stop-color="#666666" stop-opacity="1"/><stop offset="0.821" stop-color="#7a7a7a" stop-opacity="1"/><stop offset="0.876" stop-color="#8f8f8f" stop-opacity="1"/><stop offset="1.000" stop-color="#9e9e9e" stop-opacity="0"/></linearGradient><linearGradient id="g3_680" gradientUnits="userSpaceOnUse" x1="0" y1="684.5" x2="0" y2="757.0"><stop offset="0.000" stop-color="#9e9e9e" stop-opacity="0"/><stop offset="0.193" stop-color="#8a8a8a" stop-opacity="1"/><stop offset="0.248" stop-color="#7a7a7a" stop-opacity="1"/><stop offset="0.386" stop-color="#4c4c4c" stop-opacity="1"/><stop offset="0.428" stop-color="#2e2e2e" stop-opacity="1"/><stop offset="0.455" stop-color="#4c4c4c" stop-opacity="1"/><stop offset="0.511" stop-color="#666666" stop-opacity="1"/><stop offset="0.821" stop-color="#7a7a7a" stop-opacity="1"/><stop offset="0.876" stop-color="#8f8f8f" stop-opacity="1"/><stop offset="1.000" stop-color="#9e9e9e" stop-opacity="0"/></linearGradient><linearGradient id="g3_684" gradientUnits="userSpaceOnUse" x1="0" y1="684.7" x2="0" y2="757.0"><stop offset="0.000" stop-color="#9e9e9e" stop-opacity="0"/><stop offset="0.194" stop-color="#8a8a8a" stop-opacity="1"/><stop offset="0.248" stop-color="#7a7a7a" stop-opacity="1"/><stop offset="0.384" stop-color="#4c4c4c" stop-opacity="1"/><stop offset="0.426" stop-color="#2e2e2e" stop-opacity="1"/><stop offset="0.453" stop-color="#4c4c4c" stop-opacity="1"/><stop offset="0.509" stop-color="#666666" stop-opacity="1"/><stop offset="0.820" stop-color="#7a7a7a" stop-opacity="1"/><stop offset="0.876" stop-color="#8f8f8f" stop-opacity="1"/><stop offset="1.000" stop-color="#9e9e9e" stop-opacity="0"/></linearGradient><linearGradient id="g3_688" gradientUnits="userSpaceOnUse" x1="0" y1="684.9" x2="0" y2="757.0"><stop offset="0.000" stop-color="#9e9e9e" stop-opacity="0"/><stop offset="0.194" stop-color="#8a8a8a" stop-opacity="1"/><stop offset="0.247" stop-color="#7a7a7a" stop-opacity="1"/><stop offset="0.382" stop-color="#4c4c4c" stop-opacity="1"/><stop offset="0.424" stop-color="#2e2e2e" stop-opacity="1"/><stop offset="0.451" stop-color="#4c4c4c" stop-opacity="1"/><stop offset="0.507" stop-color="#666666" stop-opacity="1"/><stop offset="0.820" stop-color="#7a7a7a" stop-opacity="1"/><stop offset="0.875" stop-color="#8f8f8f" stop-opacity="1"/><stop offset="1.000" stop-color="#9e9e9e" stop-opacity="0"/></linearGradient><linearGradient id="g3_692" gradientUnits="userSpaceOnUse" x1="0" y1="683.2" x2="0" y2="757.0"><stop offset="0.000" stop-color="#9e9e9e" stop-opacity="0"/><stop offset="0.190" stop-color="#8a8a8a" stop-opacity="1"/><stop offset="0.250" stop-color="#7a7a7a" stop-opacity="1"/><stop offset="0.396" stop-color="#4c4c4c" stop-opacity="1"/><stop offset="0.436" stop-color="#2e2e2e" stop-opacity="1"/><stop offset="0.464" stop-color="#4c4c4c" stop-opacity="1"/><stop offset="0.518" stop-color="#666666" stop-opacity="1"/><stop offset="0.824" stop-color="#7a7a7a" stop-opacity="1"/><stop offset="0.878" stop-color="#8f8f8f" stop-opacity="1"/><stop offset="1.000" stop-color="#9e9e9e" stop-opacity="0"/></linearGradient><linearGradient id="g3_696" gradientUnits="userSpaceOnUse" x1="0" y1="679.5" x2="0" y2="757.0"><stop offset="0.000" stop-color="#9e9e9e" stop-opacity="0"/><stop offset="0.181" stop-color="#8a8a8a" stop-opacity="1"/><stop offset="0.254" stop-color="#7a7a7a" stop-opacity="1"/><stop offset="0.424" stop-color="#4c4c4c" stop-opacity="1"/><stop offset="0.462" stop-color="#2e2e2e" stop-opacity="1"/><stop offset="0.488" stop-color="#4c4c4c" stop-opacity="1"/><stop offset="0.540" stop-color="#666666" stop-opacity="1"/><stop offset="0.832" stop-color="#7a7a7a" stop-opacity="1"/><stop offset="0.884" stop-color="#8f8f8f" stop-opacity="1"/><stop offset="1.000" stop-color="#9e9e9e" stop-opacity="0"/></linearGradient><linearGradient id="g3_700" gradientUnits="userSpaceOnUse" x1="0" y1="675.9" x2="0" y2="757.0"><stop offset="0.000" stop-color="#9e9e9e" stop-opacity="0"/><stop offset="0.173" stop-color="#8a8a8a" stop-opacity="1"/><stop offset="0.258" stop-color="#7a7a7a" stop-opacity="1"/><stop offset="0.449" stop-color="#4c4c4c" stop-opacity="1"/><stop offset="0.486" stop-color="#2e2e2e" stop-opacity="1"/><stop offset="0.511" stop-color="#4c4c4c" stop-opacity="1"/><stop offset="0.560" stop-color="#666666" stop-opacity="1"/><stop offset="0.840" stop-color="#7a7a7a" stop-opacity="1"/><stop offset="0.889" stop-color="#8f8f8f" stop-opacity="1"/><stop offset="1.000" stop-color="#9e9e9e" stop-opacity="0"/></linearGradient><linearGradient id="g3_704" gradientUnits="userSpaceOnUse" x1="0" y1="675.0" x2="0" y2="757.0"><stop offset="0.000" stop-color="#9e9e9e" stop-opacity="0"/><stop offset="0.171" stop-color="#8a8a8a" stop-opacity="1"/><stop offset="0.259" stop-color="#7a7a7a" stop-opacity="1"/><stop offset="0.455" stop-color="#4c4c4c" stop-opacity="1"/><stop offset="0.491" stop-color="#2e2e2e" stop-opacity="1"/><stop offset="0.516" stop-color="#4c4c4c" stop-opacity="1"/><stop offset="0.565" stop-color="#666666" stop-opacity="1"/><stop offset="0.841" stop-color="#7a7a7a" stop-opacity="1"/><stop offset="0.890" stop-color="#8f8f8f" stop-opacity="1"/><stop offset="1.000" stop-color="#9e9e9e" stop-opacity="0"/></linearGradient><linearGradient id="g3_708" gradientUnits="userSpaceOnUse" x1="0" y1="675.0" x2="0" y2="757.0"><stop offset="0.000" stop-color="#9e9e9e" stop-opacity="0"/><stop offset="0.171" stop-color="#8a8a8a" stop-opacity="1"/><stop offset="0.259" stop-color="#7a7a7a" stop-opacity="1"/><stop offset="0.454" stop-color="#4c4c4c" stop-opacity="1"/><stop offset="0.491" stop-color="#2e2e2e" stop-opacity="1"/><stop offset="0.515" stop-color="#4c4c4c" stop-opacity="1"/><stop offset="0.564" stop-color="#666666" stop-opacity="1"/><stop offset="0.841" stop-color="#7a7a7a" stop-opacity="1"/><stop offset="0.890" stop-color="#8f8f8f" stop-opacity="1"/><stop offset="1.000" stop-color="#9e9e9e" stop-opacity="0"/></linearGradient><linearGradient id="g3_712" gradientUnits="userSpaceOnUse" x1="0" y1="675.0" x2="0" y2="757.0"><stop offset="0.000" stop-color="#9e9e9e" stop-opacity="0"/><stop offset="0.171" stop-color="#8a8a8a" stop-opacity="1"/><stop offset="0.259" stop-color="#7a7a7a" stop-opacity="1"/><stop offset="0.454" stop-color="#4c4c4c" stop-opacity="1"/><stop offset="0.490" stop-color="#2e2e2e" stop-opacity="1"/><stop offset="0.515" stop-color="#4c4c4c" stop-opacity="1"/><stop offset="0.564" stop-color="#666666" stop-opacity="1"/><stop offset="0.841" stop-color="#7a7a7a" stop-opacity="1"/><stop offset="0.890" stop-color="#8f8f8f" stop-opacity="1"/><stop offset="1.000" stop-color="#9e9e9e" stop-opacity="0"/></linearGradient><linearGradient id="g3_716" gradientUnits="userSpaceOnUse" x1="0" y1="675.0" x2="0" y2="757.0"><stop offset="0.000" stop-color="#9e9e9e" stop-opacity="0"/><stop offset="0.171" stop-color="#8a8a8a" stop-opacity="1"/><stop offset="0.259" stop-color="#7a7a7a" stop-opacity="1"/><stop offset="0.453" stop-color="#4c4c4c" stop-opacity="1"/><stop offset="0.490" stop-color="#2e2e2e" stop-opacity="1"/><stop offset="0.514" stop-color="#4c4c4c" stop-opacity="1"/><stop offset="0.563" stop-color="#666666" stop-opacity="1"/><stop offset="0.841" stop-color="#7a7a7a" stop-opacity="1"/><stop offset="0.890" stop-color="#8f8f8f" stop-opacity="1"/><stop offset="1.000" stop-color="#9e9e9e" stop-opacity="0"/></linearGradient><linearGradient id="g3_720" gradientUnits="userSpaceOnUse" x1="0" y1="675.0" x2="0" y2="757.0"><stop offset="0.000" stop-color="#9e9e9e" stop-opacity="0"/><stop offset="0.171" stop-color="#8a8a8a" stop-opacity="1"/><stop offset="0.259" stop-color="#7a7a7a" stop-opacity="1"/><stop offset="0.453" stop-color="#4c4c4c" stop-opacity="1"/><stop offset="0.490" stop-color="#2e2e2e" stop-opacity="1"/><stop offset="0.514" stop-color="#4c4c4c" stop-opacity="1"/><stop offset="0.563" stop-color="#666666" stop-opacity="1"/><stop offset="0.841" stop-color="#7a7a7a" stop-opacity="1"/><stop offset="0.890" stop-color="#8f8f8f" stop-opacity="1"/><stop offset="1.000" stop-color="#9e9e9e" stop-opacity="0"/></linearGradient><linearGradient id="g3_724" gradientUnits="userSpaceOnUse" x1="0" y1="675.0" x2="0" y2="757.0"><stop offset="0.000" stop-color="#9e9e9e" stop-opacity="0"/><stop offset="0.171" stop-color="#8a8a8a" stop-opacity="1"/><stop offset="0.258" stop-color="#7a7a7a" stop-opacity="1"/><stop offset="0.453" stop-color="#4c4c4c" stop-opacity="1"/><stop offset="0.489" stop-color="#2e2e2e" stop-opacity="1"/><stop offset="0.514" stop-color="#4c4c4c" stop-opacity="1"/><stop offset="0.562" stop-color="#666666" stop-opacity="1"/><stop offset="0.841" stop-color="#7a7a7a" stop-opacity="1"/><stop offset="0.890" stop-color="#8f8f8f" stop-opacity="1"/><stop offset="1.000" stop-color="#9e9e9e" stop-opacity="0"/></linearGradient><linearGradient id="g3_728" gradientUnits="userSpaceOnUse" x1="0" y1="675.0" x2="0" y2="757.0"><stop offset="0.000" stop-color="#9e9e9e" stop-opacity="0"/><stop offset="0.171" stop-color="#8a8a8a" stop-opacity="1"/><stop offset="0.258" stop-color="#7a7a7a" stop-opacity="1"/><stop offset="0.452" stop-color="#4c4c4c" stop-opacity="1"/><stop offset="0.489" stop-color="#2e2e2e" stop-opacity="1"/><stop offset="0.513" stop-color="#4c4c4c" stop-opacity="1"/><stop offset="0.562" stop-color="#666666" stop-opacity="1"/><stop offset="0.841" stop-color="#7a7a7a" stop-opacity="1"/><stop offset="0.890" stop-color="#8f8f8f" stop-opacity="1"/><stop offset="1.000" stop-color="#9e9e9e" stop-opacity="0"/></linearGradient><linearGradient id="g3_732" gradientUnits="userSpaceOnUse" x1="0" y1="675.0" x2="0" y2="757.0"><stop offset="0.000" stop-color="#9e9e9e" stop-opacity="0"/><stop offset="0.171" stop-color="#8a8a8a" stop-opacity="1"/><stop offset="0.258" stop-color="#7a7a7a" stop-opacity="1"/><stop offset="0.452" stop-color="#4c4c4c" stop-opacity="1"/><stop offset="0.488" stop-color="#2e2e2e" stop-opacity="1"/><stop offset="0.513" stop-color="#4c4c4c" stop-opacity="1"/><stop offset="0.561" stop-color="#666666" stop-opacity="1"/><stop offset="0.841" stop-color="#7a7a7a" stop-opacity="1"/><stop offset="0.890" stop-color="#8f8f8f" stop-opacity="1"/><stop offset="1.000" stop-color="#9e9e9e" stop-opacity="0"/></linearGradient><clipPath id="chclip"><polygon points="60.0,385.5 80.0,385.5 83.5,384.5 111.8,384.5 115.3,381.6 272.4,381.6 275.9,383.8 304.1,383.8 307.7,386.2 334.1,386.2 338.0,388.7 345.0,388.7 348.3,386.2 440.0,386.2 503.5,386.2 507.1,389.1 535.3,390.5 545.9,393.3 553.0,398.6 563.5,403.2 574.1,405.7 591.8,407.4 605.9,410.2 613.0,412.7 632.4,412.7 634.1,403.9 630.6,396.8 632.4,391.5 637.7,390.5 665.9,390.5 687.1,392.6 701.2,396.8 711.8,403.9 722.4,410.9 729.5,416.2 733.0,418.0 738.3,407.4 741.8,400.4 750.6,395.1 764.7,391.5 778.9,389.1 793.0,386.9 800.0,386.9 820.0,386.9 820.0,517.5 800.0,517.5 747.1,517.5 729.4,515.4 722.4,514.7 718.9,512.9 609.4,512.9 605.9,511.2 588.3,511.2 584.7,508.4 556.5,508.4 553.0,505.9 503.5,505.9 496.5,504.1 489.4,502.4 484.1,500.6 481.7,497.1 478.8,500.6 475.3,507.6 468.2,510.5 464.7,513.0 414.0,513.0 411.0,511.5 402.0,511.5 399.5,513.0 380.0,513.0 369.4,516.9 365.9,519.0 346.5,519.0 343.0,521.5 230.0,521.5 226.5,519.0 200.0,519.0 196.5,516.9 170.0,516.9 166.5,514.4 138.2,514.4 136.5,512.0 133.0,514.4 104.7,514.4 101.2,516.9 80.0,516.9 60.0,516.9"/></clipPath><filter id="camo" x="80" y="360" width="720" height="181" filterUnits="userSpaceOnUse" color-interpolation-filters="sRGB">
<feTurbulence type="fractalNoise" baseFrequency="0.028 0.07" numOctaves="4" seed="11" result="n"/>
<feColorMatrix in="n" type="matrix" values="4 0 0 0 -1.5  4 0 0 0 -1.5  4 0 0 0 -1.5  0 0 0 0 1" result="n2"/>
<feComposite in="SourceGraphic" in2="n2" operator="arithmetic" k1="0" k2="1" k3="1" k4="-0.5" result="sum"/>
<feComponentTransfer in="sum"><feFuncR type="discrete" tableValues="0.502 0.753"/><feFuncG type="discrete" tableValues="0.502 0.753"/><feFuncB type="discrete" tableValues="0.502 0.753"/><feFuncA type="discrete" tableValues="1 1"/></feComponentTransfer>
</filter><linearGradient id="p2top" gradientUnits="userSpaceOnUse" x1="0" y1="380" x2="0" y2="408"><stop offset="0" stop-color="#e6e6e6"/><stop offset="1" stop-color="#ffffff"/></linearGradient><linearGradient id="p2bot" gradientUnits="userSpaceOnUse" x1="0" y1="508" x2="0" y2="541"><stop offset="0" stop-color="#fcfcfc"/><stop offset="1" stop-color="#e8e8e8"/></linearGradient><filter id="mag" x="80" y="100" width="720" height="181" filterUnits="userSpaceOnUse" color-interpolation-filters="sRGB">
<feTurbulence type="fractalNoise" baseFrequency="0.065 0.12" numOctaves="3" seed="5" result="n"/>
<feColorMatrix in="n" type="matrix" values="0.42 0 0 0 0.29000000000000004  0.42 0 0 0 0.29000000000000004  0.42 0 0 0 0.29000000000000004  0 0 0 0 1" result="n2"/>
<feComposite in="SourceGraphic" in2="n2" operator="arithmetic" k1="0" k2="1" k3="1" k4="-0.5" result="sum"/>
<feComponentTransfer in="sum" result="nl"><feFuncR type="table" tableValues="0.0000 0.0120 0.0240 0.0360 0.0480 0.0600 0.0720 0.0840 0.0960 0.1080 0.1200 0.1320 0.1440 0.1560 0.1680 0.1800 0.1920 0.2040 0.2160 0.2280 0.2400 0.2520 0.2640 0.2760 0.2880 0.3000 0.3070 0.3140 0.3210 0.3280 0.3350 0.3420 0.3490 0.3560 0.3630 0.3700 0.3764 0.3829 0.3893 0.3957 0.4021 0.4086 0.4150 0.4220 0.4290 0.4360 0.4430 0.4500 0.4577 0.4654 0.5000 0.5326 0.5370 0.5413 0.5457 0.5500 0.5540 0.5580 0.5620 0.5660 0.5700 0.5763 0.5825 0.5887 0.5950 0.6013 0.6075 0.6138 0.6200 0.6283 0.6367 0.6450 0.6533 0.6617 0.6700 0.6783 0.6867 0.6950 0.7033 0.7117 0.7200 0.7340 0.7480 0.7620 0.7760 0.7900 0.8040 0.8180 0.8320 0.8460 0.8600 0.8740 0.8880 0.9020 0.9160 0.9300 0.9440 0.9580 0.9720 0.9860 1.0000"/><feFuncG type="table" tableValues="0.0000 0.0120 0.0240 0.0360 0.0480 0.0600 0.0720 0.0840 0.0960 0.1080 0.1200 0.1320 0.1440 0.1560 0.1680 0.1800 0.1920 0.2040 0.2160 0.2280 0.2400 0.2520 0.2640 0.2760 0.2880 0.3000 0.3070 0.3140 0.3210 0.3280 0.3350 0.3420 0.3490 0.3560 0.3630 0.3700 0.3764 0.3829 0.3893 0.3957 0.4021 0.4086 0.4150 0.4220 0.4290 0.4360 0.4430 0.4500 0.4577 0.4654 0.5000 0.5326 0.5370 0.5413 0.5457 0.5500 0.5540 0.5580 0.5620 0.5660 0.5700 0.5763 0.5825 0.5887 0.5950 0.6013 0.6075 0.6138 0.6200 0.6283 0.6367 0.6450 0.6533 0.6617 0.6700 0.6783 0.6867 0.6950 0.7033 0.7117 0.7200 0.7340 0.7480 0.7620 0.7760 0.7900 0.8040 0.8180 0.8320 0.8460 0.8600 0.8740 0.8880 0.9020 0.9160 0.9300 0.9440 0.9580 0.9720 0.9860 1.0000"/><feFuncB type="table" tableValues="0.0000 0.0120 0.0240 0.0360 0.0480 0.0600 0.0720 0.0840 0.0960 0.1080 0.1200 0.1320 0.1440 0.1560 0.1680 0.1800 0.1920 0.2040 0.2160 0.2280 0.2400 0.2520 0.2640 0.2760 0.2880 0.3000 0.3070 0.3140 0.3210 0.3280 0.3350 0.3420 0.3490 0.3560 0.3630 0.3700 0.3764 0.3829 0.3893 0.3957 0.4021 0.4086 0.4150 0.4220 0.4290 0.4360 0.4430 0.4500 0.4577 0.4654 0.5000 0.5326 0.5370 0.5413 0.5457 0.5500 0.5540 0.5580 0.5620 0.5660 0.5700 0.5763 0.5825 0.5887 0.5950 0.6013 0.6075 0.6138 0.6200 0.6283 0.6367 0.6450 0.6533 0.6617 0.6700 0.6783 0.6867 0.6950 0.7033 0.7117 0.7200 0.7340 0.7480 0.7620 0.7760 0.7900 0.8040 0.8180 0.8320 0.8460 0.8600 0.8740 0.8880 0.9020 0.9160 0.9300 0.9440 0.9580 0.9720 0.9860 1.0000"/></feComponentTransfer>
<feComponentTransfer in="nl"><feFuncR type="discrete" tableValues="0.059 0.118 0.196 0.275 0.333 0.392 0.471 0.549 0.608 0.667 0.910 0.980 1.000 1.000 1.000 1.000 1.000 1.000 1.000 1.000 1.000"/><feFuncG type="discrete" tableValues="0.059 0.118 0.196 0.275 0.333 0.392 0.471 0.549 0.608 0.667 0.910 0.635 0.549 0.471 0.392 0.333 0.275 0.216 0.157 0.098 0.000"/><feFuncB type="discrete" tableValues="1.000 0.973 0.961 0.961 0.961 0.961 0.973 0.980 0.988 1.000 0.910 0.635 0.549 0.471 0.392 0.333 0.275 0.216 0.157 0.098 0.000"/><feFuncA type="discrete" tableValues="1 1"/></feComponentTransfer>
</filter></defs>
<g clip-path="url(#clip3)">
<rect x="80" y="880" width="5" height="181" fill="url(#g4_0)"/>
<rect x="85" y="880" width="5" height="181" fill="url(#g4_5)"/>
<rect x="90" y="880" width="5" height="181" fill="url(#g4_10)"/>
<rect x="95" y="880" width="5" height="181" fill="url(#g4_15)"/>
<rect x="100" y="880" width="5" height="181" fill="url(#g4_20)"/>
<rect x="105" y="880" width="5" height="181" fill="url(#g4_25)"/>
<rect x="110" y="880" width="5" height="181" fill="url(#g4_30)"/>
<rect x="115" y="880" width="5" height="181" fill="url(#g4_35)"/>
<rect x="120" y="880" width="5" height="181" fill="url(#g4_40)"/>
<rect x="125" y="880" width="5" height="181" fill="url(#g4_45)"/>
<rect x="130" y="880" width="5" height="181" fill="url(#g4_50)"/>
<rect x="135" y="880" width="5" height="181" fill="url(#g4_55)"/>
<rect x="140" y="880" width="5" height="181" fill="url(#g4_60)"/>
<rect x="145" y="880" width="5" height="181" fill="url(#g4_65)"/>
<rect x="150" y="880" width="5" height="181" fill="url(#g4_70)"/>
<rect x="155" y="880" width="5" height="181" fill="url(#g4_75)"/>
<rect x="160" y="880" width="5" height="181" fill="url(#g4_80)"/>
<rect x="165" y="880" width="5" height="181" fill="url(#g4_85)"/>
<rect x="170" y="880" width="5" height="181" fill="url(#g4_90)"/>
<rect x="175" y="880" width="5" height="181" fill="url(#g4_95)"/>
<rect x="180" y="880" width="5" height="181" fill="url(#g4_100)"/>
<rect x="185" y="880" width="5" height="181" fill="url(#g4_105)"/>
<rect x="190" y="880" width="5" height="181" fill="url(#g4_110)"/>
<rect x="195" y="880" width="5" height="181" fill="url(#g4_115)"/>
<rect x="200" y="880" width="5" height="181" fill="url(#g4_120)"/>
<rect x="205" y="880" width="5" height="181" fill="url(#g4_125)"/>
<rect x="210" y="880" width="5" height="181" fill="url(#g4_130)"/>
<rect x="215" y="880" width="5" height="181" fill="url(#g4_135)"/>
<rect x="220" y="880" width="5" height="181" fill="url(#g4_140)"/>
<rect x="225" y="880" width="5" height="181" fill="url(#g4_145)"/>
<rect x="230" y="880" width="5" height="181" fill="url(#g4_150)"/>
<rect x="235" y="880" width="5" height="181" fill="url(#g4_155)"/>
<rect x="240" y="880" width="5" height="181" fill="url(#g4_160)"/>
<rect x="245" y="880" width="5" height="181" fill="url(#g4_165)"/>
<rect x="250" y="880" width="5" height="181" fill="url(#g4_170)"/>
<rect x="255" y="880" width="5" height="181" fill="url(#g4_175)"/>
<rect x="260" y="880" width="5" height="181" fill="url(#g4_180)"/>
<rect x="265" y="880" width="5" height="181" fill="url(#g4_185)"/>
<rect x="270" y="880" width="5" height="181" fill="url(#g4_190)"/>
<rect x="275" y="880" width="5" height="181" fill="url(#g4_195)"/>
<rect x="280" y="880" width="5" height="181" fill="url(#g4_200)"/>
<rect x="285" y="880" width="5" height="181" fill="url(#g4_205)"/>
<rect x="290" y="880" width="5" height="181" fill="url(#g4_210)"/>
<rect x="295" y="880" width="5" height="181" fill="url(#g4_215)"/>
<rect x="300" y="880" width="5" height="181" fill="url(#g4_220)"/>
<rect x="305" y="880" width="5" height="181" fill="url(#g4_225)"/>
<rect x="310" y="880" width="5" height="181" fill="url(#g4_230)"/>
<rect x="315" y="880" width="5" height="181" fill="url(#g4_235)"/>
<rect x="320" y="880" width="5" height="181" fill="url(#g4_240)"/>
<rect x="325" y="880" width="5" height="181" fill="url(#g4_245)"/>
<rect x="330" y="880" width="5" height="181" fill="url(#g4_250)"/>
<rect x="335" y="880" width="5" height="181" fill="url(#g4_255)"/>
<rect x="340" y="880" width="5" height="181" fill="url(#g4_260)"/>
<rect x="345" y="880" width="5" height="181" fill="url(#g4_265)"/>
<rect x="350" y="880" width="5" height="181" fill="url(#g4_270)"/>
<rect x="355" y="880" width="5" height="181" fill="url(#g4_275)"/>
<rect x="360" y="880" width="5" height="181" fill="url(#g4_280)"/>
<rect x="365" y="880" width="5" height="181" fill="url(#g4_285)"/>
<rect x="370" y="880" width="5" height="181" fill="url(#g4_290)"/>
<rect x="375" y="880" width="5" height="181" fill="url(#g4_295)"/>
<rect x="380" y="880" width="5" height="181" fill="url(#g4_300)"/>
<rect x="385" y="880" width="5" height="181" fill="url(#g4_305)"/>
<rect x="390" y="880" width="5" height="181" fill="url(#g4_310)"/>
<rect x="395" y="880" width="5" height="181" fill="url(#g4_315)"/>
<rect x="400" y="880" width="5" height="181" fill="url(#g4_320)"/>
<rect x="405" y="880" width="5" height="181" fill="url(#g4_325)"/>
<rect x="410" y="880" width="5" height="181" fill="url(#g4_330)"/>
<rect x="415" y="880" width="5" height="181" fill="url(#g4_335)"/>
<rect x="420" y="880" width="5" height="181" fill="url(#g4_340)"/>
<rect x="425" y="880" width="5" height="181" fill="url(#g4_345)"/>
<rect x="430" y="880" width="5" height="181" fill="url(#g4_350)"/>
<rect x="435" y="880" width="5" height="181" fill="url(#g4_355)"/>
<rect x="440" y="880" width="5" height="181" fill="url(#g4_360)"/>
<rect x="445" y="880" width="5" height="181" fill="url(#g4_365)"/>
<rect x="450" y="880" width="5" height="181" fill="url(#g4_370)"/>
<rect x="455" y="880" width="5" height="181" fill="url(#g4_375)"/>
<rect x="460" y="880" width="5" height="181" fill="url(#g4_380)"/>
<rect x="465" y="880" width="5" height="181" fill="url(#g4_385)"/>
<rect x="470" y="880" width="5" height="181" fill="url(#g4_390)"/>
<rect x="475" y="880" width="5" height="181" fill="url(#g4_395)"/>
<rect x="480" y="880" width="5" height="181" fill="url(#g4_400)"/>
<rect x="485" y="880" width="5" height="181" fill="url(#g4_405)"/>
<rect x="490" y="880" width="5" height="181" fill="url(#g4_410)"/>
<rect x="495" y="880" width="5" height="181" fill="url(#g4_415)"/>
<rect x="500" y="880" width="5" height="181" fill="url(#g4_420)"/>
<rect x="505" y="880" width="5" height="181" fill="url(#g4_425)"/>
<rect x="510" y="880" width="5" height="181" fill="url(#g4_430)"/>
<rect x="515" y="880" width="5" height="181" fill="url(#g4_435)"/>
<rect x="520" y="880" width="5" height="181" fill="url(#g4_440)"/>
<rect x="525" y="880" width="5" height="181" fill="url(#g4_445)"/>
<rect x="530" y="880" width="5" height="181" fill="url(#g4_450)"/>
<rect x="535" y="880" width="5" height="181" fill="url(#g4_455)"/>
<rect x="540" y="880" width="5" height="181" fill="url(#g4_460)"/>
<rect x="545" y="880" width="5" height="181" fill="url(#g4_465)"/>
<rect x="550" y="880" width="5" height="181" fill="url(#g4_470)"/>
<rect x="555" y="880" width="5" height="181" fill="url(#g4_475)"/>
<rect x="560" y="880" width="5" height="181" fill="url(#g4_480)"/>
<rect x="565" y="880" width="5" height="181" fill="url(#g4_485)"/>
<rect x="570" y="880" width="5" height="181" fill="url(#g4_490)"/>
<rect x="575" y="880" width="5" height="181" fill="url(#g4_495)"/>
<rect x="580" y="880" width="5" height="181" fill="url(#g4_500)"/>
<rect x="585" y="880" width="5" height="181" fill="url(#g4_505)"/>
<rect x="590" y="880" width="5" height="181" fill="url(#g4_510)"/>
<rect x="595" y="880" width="5" height="181" fill="url(#g4_515)"/>
<rect x="600" y="880" width="5" height="181" fill="url(#g4_520)"/>
<rect x="605" y="880" width="5" height="181" fill="url(#g4_525)"/>
<rect x="610" y="880" width="5" height="181" fill="url(#g4_530)"/>
<rect x="615" y="880" width="5" height="181" fill="url(#g4_535)"/>
<rect x="620" y="880" width="5" height="181" fill="url(#g4_540)"/>
<rect x="625" y="880" width="5" height="181" fill="url(#g4_545)"/>
<rect x="630" y="880" width="5" height="181" fill="url(#g4_550)"/>
<rect x="635" y="880" width="5" height="181" fill="url(#g4_555)"/>
<rect x="640" y="880" width="5" height="181" fill="url(#g4_560)"/>
<rect x="645" y="880" width="5" height="181" fill="url(#g4_565)"/>
<rect x="650" y="880" width="5" height="181" fill="url(#g4_570)"/>
<rect x="655" y="880" width="5" height="181" fill="url(#g4_575)"/>
<rect x="660" y="880" width="5" height="181" fill="url(#g4_580)"/>
<rect x="665" y="880" width="5" height="181" fill="url(#g4_585)"/>
<rect x="670" y="880" width="5" height="181" fill="url(#g4_590)"/>
<rect x="675" y="880" width="5" height="181" fill="url(#g4_595)"/>
<rect x="680" y="880" width="5" height="181" fill="url(#g4_600)"/>
<rect x="685" y="880" width="5" height="181" fill="url(#g4_605)"/>
<rect x="690" y="880" width="5" height="181" fill="url(#g4_610)"/>
<rect x="695" y="880" width="5" height="181" fill="url(#g4_615)"/>
<rect x="700" y="880" width="5" height="181" fill="url(#g4_620)"/>
<rect x="705" y="880" width="5" height="181" fill="url(#g4_625)"/>
<rect x="710" y="880" width="5" height="181" fill="url(#g4_630)"/>
<rect x="715" y="880" width="5" height="181" fill="url(#g4_635)"/>
<rect x="720" y="880" width="5" height="181" fill="url(#g4_640)"/>
<rect x="725" y="880" width="5" height="181" fill="url(#g4_645)"/>
<rect x="730" y="880" width="5" height="181" fill="url(#g4_650)"/>
<rect x="735" y="880" width="5" height="181" fill="url(#g4_655)"/>
<rect x="740" y="880" width="5" height="181" fill="url(#g4_660)"/>
<rect x="745" y="880" width="5" height="181" fill="url(#g4_665)"/>
<rect x="750" y="880" width="5" height="181" fill="url(#g4_670)"/>
<rect x="755" y="880" width="5" height="181" fill="url(#g4_675)"/>
<rect x="760" y="880" width="5" height="181" fill="url(#g4_680)"/>
<rect x="765" y="880" width="5" height="181" fill="url(#g4_685)"/>
<rect x="770" y="880" width="5" height="181" fill="url(#g4_690)"/>
<rect x="775" y="880" width="5" height="181" fill="url(#g4_695)"/>
<rect x="780" y="880" width="5" height="181" fill="url(#g4_700)"/>
<rect x="785" y="880" width="5" height="181" fill="url(#g4_705)"/>
<rect x="790" y="880" width="5" height="181" fill="url(#g4_710)"/>
<rect x="795" y="880" width="5" height="181" fill="url(#g4_715)"/>
<polyline points="80.0,968.0 99.4,964.2 131.5,959.6 149.4,957.8 174.4,957.8 195.8,959.6 220.8,962.4 249.3,964.6 277.9,964.2 299.3,961.7 327.8,957.1 349.2,953.5 374.2,950.7 395.6,949.2 427.7,949.2 442.0,950.0 454.3,951.0 475.7,955.3 497.1,959.9 525.7,966.0 557.8,970.6 589.9,975.6 604.2,976.7 661.3,976.7 689.8,976.0 746.9,975.6 768.3,972.8 789.7,969.9 800.0,968.5" fill="none" stroke="#000" stroke-width="2" shape-rendering="auto"/>
</g>
<g clip-path="url(#clip2)"><g filter="url(#cmap)">
<rect x="60" y="600" width="760" height="220" fill="url(#p3bg)"/>
<g filter="url(#bl10)" fill="#d6d6d6"><polygon points="60.0,745.0 300.0,750.0 470.0,742.0 480.0,765.0 400.0,780.0 60.0,785.0"/></g>
<g filter="url(#bl10)" fill="#ffffff">
<polygon points="285.0,648.0 440.0,646.0 560.0,650.0 645.0,655.0 650.0,690.0 640.0,698.0 600.0,706.0 560.0,703.0 520.0,692.0 440.0,684.0 300.0,680.0 270.0,672.0"/>
<polygon points="705.0,670.0 765.0,668.0 770.0,696.0 740.0,700.0 705.0,695.0"/>
</g>
<g filter="url(#bl6)" fill="#ffffff"><polygon points="636.0,739.0 662.0,758.0 686.0,782.0 692.0,805.0 455.0,805.0 478.0,786.0 560.0,764.0 612.0,746.0"/></g>
<g filter="url(#bl10)" fill="#f2f2f2"><ellipse cx="115" cy="659" rx="50" ry="9"/></g>
<g filter="url(#bl8)" fill="#f2f2f2">
<polygon points="250.0,660.0 285.0,650.0 290.0,680.0 250.0,678.0"/>
<polygon points="650.0,660.0 705.0,660.0 705.0,690.0 650.0,688.0"/>
<polygon points="690.0,775.0 810.0,770.0 810.0,810.0 690.0,810.0"/>
<polygon points="640.0,640.0 810.0,640.0 810.0,680.0 640.0,685.0"/>
<polygon points="770.0,670.0 810.0,665.0 810.0,682.0 775.0,684.0"/>
</g>
<g filter="url(#blh)">
<rect x="72" y="664.9" width="4" height="90.3" fill="url(#g3_0)"/>
<rect x="76" y="664.8" width="4" height="90.4" fill="url(#g3_4)"/>
<rect x="80" y="664.8" width="4" height="90.5" fill="url(#g3_8)"/>
<rect x="84" y="664.8" width="4" height="90.6" fill="url(#g3_12)"/>
<rect x="88" y="664.7" width="4" height="90.6" fill="url(#g3_16)"/>
<rect x="92" y="664.7" width="4" height="90.7" fill="url(#g3_20)"/>
<rect x="96" y="664.6" width="4" height="90.8" fill="url(#g3_24)"/>
<rect x="100" y="664.6" width="4" height="90.9" fill="url(#g3_28)"/>
<rect x="104" y="664.6" width="4" height="91.0" fill="url(#g3_32)"/>
<rect x="108" y="664.5" width="4" height="91.1" fill="url(#g3_36)"/>
<rect x="112" y="664.5" width="4" height="91.2" fill="url(#g3_40)"/>
<rect x="116" y="664.4" width="4" height="91.3" fill="url(#g3_44)"/>
<rect x="120" y="664.4" width="4" height="91.3" fill="url(#g3_48)"/>
<rect x="124" y="664.4" width="4" height="91.4" fill="url(#g3_52)"/>
<rect x="128" y="664.3" width="4" height="91.5" fill="url(#g3_56)"/>
<rect x="132" y="664.3" width="4" height="91.6" fill="url(#g3_60)"/>
<rect x="136" y="664.3" width="4" height="91.7" fill="url(#g3_64)"/>
<rect x="140" y="664.2" width="4" height="91.8" fill="url(#g3_68)"/>
<rect x="144" y="664.2" width="4" height="91.9" fill="url(#g3_72)"/>
<rect x="148" y="664.1" width="4" height="91.9" fill="url(#g3_76)"/>
<rect x="152" y="664.1" width="4" height="92.0" fill="url(#g3_80)"/>
<rect x="156" y="664.1" width="4" height="92.1" fill="url(#g3_84)"/>
<rect x="160" y="664.0" width="4" height="92.2" fill="url(#g3_88)"/>
<rect x="164" y="664.0" width="4" height="92.3" fill="url(#g3_92)"/>
<rect x="168" y="664.0" width="4" height="92.4" fill="url(#g3_96)"/>
<rect x="172" y="663.9" width="4" height="92.5" fill="url(#g3_100)"/>
<rect x="176" y="663.9" width="4" height="92.6" fill="url(#g3_104)"/>
<rect x="180" y="663.8" width="4" height="92.6" fill="url(#g3_108)"/>
<rect x="184" y="663.8" width="4" height="92.7" fill="url(#g3_112)"/>
<rect x="188" y="663.8" width="4" height="92.8" fill="url(#g3_116)"/>
<rect x="192" y="663.7" width="4" height="92.9" fill="url(#g3_120)"/>
<rect x="196" y="663.7" width="4" height="93.0" fill="url(#g3_124)"/>
<rect x="200" y="663.6" width="4" height="93.1" fill="url(#g3_128)"/>
<rect x="204" y="663.6" width="4" height="93.2" fill="url(#g3_132)"/>
<rect x="208" y="663.6" width="4" height="93.2" fill="url(#g3_136)"/>
<rect x="212" y="663.5" width="4" height="93.3" fill="url(#g3_140)"/>
<rect x="216" y="663.5" width="4" height="93.4" fill="url(#g3_144)"/>
<rect x="220" y="663.5" width="4" height="93.5" fill="url(#g3_148)"/>
<rect x="224" y="663.4" width="4" height="93.6" fill="url(#g3_152)"/>
<rect x="228" y="663.4" width="4" height="93.8" fill="url(#g3_156)"/>
<rect x="232" y="663.3" width="4" height="94.0" fill="url(#g3_160)"/>
<rect x="236" y="663.3" width="4" height="94.2" fill="url(#g3_164)"/>
<rect x="240" y="663.3" width="4" height="94.4" fill="url(#g3_168)"/>
<rect x="244" y="663.2" width="4" height="94.6" fill="url(#g3_172)"/>
<rect x="248" y="663.2" width="4" height="94.8" fill="url(#g3_176)"/>
<rect x="252" y="663.2" width="4" height="95.0" fill="url(#g3_180)"/>
<rect x="256" y="663.1" width="4" height="95.2" fill="url(#g3_184)"/>
<rect x="260" y="663.1" width="4" height="95.4" fill="url(#g3_188)"/>
<rect x="264" y="663.0" width="4" height="95.6" fill="url(#g3_192)"/>
<rect x="268" y="663.0" width="4" height="95.8" fill="url(#g3_196)"/>
<rect x="272" y="664.0" width="4" height="95.0" fill="url(#g3_200)"/>
<rect x="276" y="665.0" width="4" height="94.1" fill="url(#g3_204)"/>
<rect x="280" y="666.0" width="4" height="93.3" fill="url(#g3_208)"/>
<rect x="284" y="667.0" width="4" height="92.4" fill="url(#g3_212)"/>
<rect x="288" y="668.0" width="4" height="91.6" fill="url(#g3_216)"/>
<rect x="292" y="667.2" width="4" height="92.6" fill="url(#g3_220)"/>
<rect x="296" y="666.4" width="4" height="93.5" fill="url(#g3_224)"/>
<rect x="300" y="666.0" width="4" height="94.2" fill="url(#g3_228)"/>
<rect x="304" y="666.0" width="4" height="94.6" fill="url(#g3_232)"/>
<rect x="308" y="666.1" width="4" height="94.9" fill="url(#g3_236)"/>
<rect x="312" y="666.1" width="4" height="95.3" fill="url(#g3_240)"/>
<rect x="316" y="666.1" width="4" height="95.7" fill="url(#g3_244)"/>
<rect x="320" y="666.1" width="4" height="96.1" fill="url(#g3_248)"/>
<rect x="324" y="666.1" width="4" height="96.5" fill="url(#g3_252)"/>
<rect x="328" y="666.2" width="4" height="96.8" fill="url(#g3_256)"/>
<rect x="332" y="666.2" width="4" height="97.2" fill="url(#g3_260)"/>
<rect x="336" y="666.2" width="4" height="97.6" fill="url(#g3_264)"/>
<rect x="340" y="666.2" width="4" height="97.0" fill="url(#g3_268)"/>
<rect x="344" y="666.2" width="4" height="95.4" fill="url(#g3_272)"/>
<rect x="348" y="666.3" width="4" height="93.7" fill="url(#g3_276)"/>
<rect x="352" y="666.3" width="4" height="92.1" fill="url(#g3_280)"/>
<rect x="356" y="666.3" width="4" height="90.5" fill="url(#g3_284)"/>
<rect x="360" y="666.3" width="4" height="80.6" fill="url(#g3_288)"/>
<rect x="364" y="666.3" width="4" height="80.6" fill="url(#g3_292)"/>
<rect x="368" y="666.4" width="4" height="80.5" fill="url(#g3_296)"/>
<rect x="372" y="666.4" width="4" height="80.4" fill="url(#g3_300)"/>
<rect x="376" y="666.4" width="4" height="80.4" fill="url(#g3_304)"/>
<rect x="380" y="666.4" width="4" height="80.3" fill="url(#g3_308)"/>
<rect x="384" y="666.5" width="4" height="80.2" fill="url(#g3_312)"/>
<rect x="388" y="666.5" width="4" height="80.2" fill="url(#g3_316)"/>
<rect x="392" y="666.5" width="4" height="80.1" fill="url(#g3_320)"/>
<rect x="396" y="666.5" width="4" height="80.0" fill="url(#g3_324)"/>
<rect x="400" y="666.5" width="4" height="79.9" fill="url(#g3_328)"/>
<rect x="404" y="666.6" width="4" height="79.9" fill="url(#g3_332)"/>
<rect x="408" y="666.6" width="4" height="79.8" fill="url(#g3_336)"/>
<rect x="412" y="666.6" width="4" height="79.7" fill="url(#g3_340)"/>
<rect x="416" y="666.6" width="4" height="79.7" fill="url(#g3_344)"/>
<rect x="420" y="666.6" width="4" height="79.6" fill="url(#g3_348)"/>
<rect x="424" y="666.7" width="4" height="79.5" fill="url(#g3_352)"/>
<rect x="428" y="666.7" width="4" height="79.4" fill="url(#g3_356)"/>
<rect x="432" y="666.7" width="4" height="79.4" fill="url(#g3_360)"/>
<rect x="436" y="666.7" width="4" height="79.3" fill="url(#g3_364)"/>
<rect x="440" y="666.7" width="4" height="79.1" fill="url(#g3_368)"/>
<rect x="444" y="666.8" width="4" height="78.9" fill="url(#g3_372)"/>
<rect x="448" y="666.8" width="4" height="78.7" fill="url(#g3_376)"/>
<rect x="452" y="666.8" width="4" height="78.5" fill="url(#g3_380)"/>
<rect x="456" y="666.8" width="4" height="78.2" fill="url(#g3_384)"/>
<rect x="460" y="666.9" width="4" height="78.0" fill="url(#g3_388)"/>
<rect x="464" y="666.9" width="4" height="77.8" fill="url(#g3_392)"/>
<rect x="468" y="666.9" width="4" height="77.5" fill="url(#g3_396)"/>
<rect x="472" y="666.9" width="4" height="77.3" fill="url(#g3_400)"/>
<rect x="476" y="666.9" width="4" height="77.1" fill="url(#g3_404)"/>
<rect x="480" y="667.0" width="4" height="75.0" fill="url(#g3_408)"/>
<rect x="484" y="667.0" width="4" height="73.0" fill="url(#g3_412)"/>
<rect x="488" y="667.0" width="4" height="71.0" fill="url(#g3_416)"/>
<rect x="492" y="669.0" width="4" height="68.1" fill="url(#g3_420)"/>
<rect x="496" y="671.0" width="4" height="65.3" fill="url(#g3_424)"/>
<rect x="500" y="672.5" width="4" height="63.0" fill="url(#g3_428)"/>
<rect x="504" y="673.4" width="4" height="61.6" fill="url(#g3_432)"/>
<rect x="508" y="674.2" width="4" height="60.6" fill="url(#g3_436)"/>
<rect x="512" y="675.1" width="4" height="59.6" fill="url(#g3_440)"/>
<rect x="516" y="676.0" width="4" height="58.6" fill="url(#g3_444)"/>
<rect x="520" y="677.0" width="4" height="57.5" fill="url(#g3_448)"/>
<rect x="524" y="677.9" width="4" height="56.5" fill="url(#g3_452)"/>
<rect x="528" y="678.8" width="4" height="55.5" fill="url(#g3_456)"/>
<rect x="532" y="679.6" width="4" height="54.5" fill="url(#g3_460)"/>
<rect x="536" y="680.5" width="4" height="53.5" fill="url(#g3_464)"/>
<rect x="540" y="681.6" width="4" height="52.8" fill="url(#g3_468)"/>
<rect x="544" y="682.7" width="4" height="52.5" fill="url(#g3_472)"/>
<rect x="548" y="683.9" width="4" height="52.1" fill="url(#g3_476)"/>
<rect x="552" y="685.1" width="4" height="51.7" fill="url(#g3_480)"/>
<rect x="556" y="686.2" width="4" height="51.4" fill="url(#g3_484)"/>
<rect x="560" y="687.4" width="4" height="51.0" fill="url(#g3_488)"/>
<rect x="564" y="688.5" width="4" height="50.6" fill="url(#g3_492)"/>
<rect x="568" y="689.7" width="4" height="49.8" fill="url(#g3_496)"/>
<rect x="572" y="690.8" width="4" height="49.0" fill="url(#g3_500)"/>
<rect x="576" y="692.0" width="4" height="48.3" fill="url(#g3_504)"/>
<rect x="580" y="691.7" width="4" height="49.0" fill="url(#g3_508)"/>
<rect x="584" y="691.4" width="4" height="49.6" fill="url(#g3_512)"/>
<rect x="588" y="691.1" width="4" height="50.3" fill="url(#g3_516)"/>
<rect x="592" y="690.9" width="4" height="51.0" fill="url(#g3_520)"/>
<rect x="596" y="690.6" width="4" height="51.7" fill="url(#g3_524)"/>
<rect x="600" y="690.3" width="4" height="52.3" fill="url(#g3_528)"/>
<rect x="604" y="690.0" width="4" height="53.0" fill="url(#g3_532)"/>
<rect x="608" y="689.7" width="4" height="53.7" fill="url(#g3_536)"/>
<rect x="612" y="689.4" width="4" height="54.4" fill="url(#g3_540)"/>
<rect x="616" y="689.1" width="4" height="54.9" fill="url(#g3_544)"/>
<rect x="620" y="687.9" width="4" height="56.1" fill="url(#g3_548)"/>
<rect x="624" y="685.7" width="4" height="58.3" fill="url(#g3_552)"/>
<rect x="628" y="683.5" width="4" height="60.5" fill="url(#g3_556)"/>
<rect x="632" y="681.4" width="4" height="62.6" fill="url(#g3_560)"/>
<rect x="636" y="679.2" width="4" height="64.8" fill="url(#g3_564)"/>
<rect x="640" y="677.0" width="4" height="67.0" fill="url(#g3_568)"/>
<rect x="644" y="677.4" width="4" height="66.9" fill="url(#g3_572)"/>
<rect x="648" y="677.9" width="4" height="66.9" fill="url(#g3_576)"/>
<rect x="652" y="678.3" width="4" height="66.8" fill="url(#g3_580)"/>
<rect x="656" y="678.8" width="4" height="66.8" fill="url(#g3_584)"/>
<rect x="660" y="679.1" width="4" height="66.8" fill="url(#g3_588)"/>
<rect x="664" y="679.4" width="4" height="67.0" fill="url(#g3_592)"/>
<rect x="668" y="679.7" width="4" height="67.1" fill="url(#g3_596)"/>
<rect x="672" y="679.9" width="4" height="67.2" fill="url(#g3_600)"/>
<rect x="676" y="680.2" width="4" height="67.4" fill="url(#g3_604)"/>
<rect x="680" y="680.4" width="4" height="67.5" fill="url(#g3_608)"/>
<rect x="684" y="680.7" width="4" height="67.6" fill="url(#g3_612)"/>
<rect x="688" y="681.0" width="4" height="67.7" fill="url(#g3_616)"/>
<rect x="692" y="681.2" width="4" height="67.9" fill="url(#g3_620)"/>
<rect x="696" y="681.5" width="4" height="68.3" fill="url(#g3_624)"/>
<rect x="700" y="681.7" width="4" height="68.7" fill="url(#g3_628)"/>
<rect x="704" y="682.0" width="4" height="69.0" fill="url(#g3_632)"/>
<rect x="708" y="682.2" width="4" height="69.5" fill="url(#g3_636)"/>
<rect x="712" y="682.4" width="4" height="69.9" fill="url(#g3_640)"/>
<rect x="716" y="682.6" width="4" height="70.3" fill="url(#g3_644)"/>
<rect x="720" y="682.8" width="4" height="70.7" fill="url(#g3_648)"/>
<rect x="724" y="683.0" width="4" height="71.1" fill="url(#g3_652)"/>
<rect x="728" y="683.2" width="4" height="71.6" fill="url(#g3_656)"/>
<rect x="732" y="683.4" width="4" height="72.0" fill="url(#g3_660)"/>
<rect x="736" y="683.7" width="4" height="72.4" fill="url(#g3_664)"/>
<rect x="740" y="683.9" width="4" height="72.8" fill="url(#g3_668)"/>
<rect x="744" y="684.1" width="4" height="72.9" fill="url(#g3_672)"/>
<rect x="748" y="684.3" width="4" height="72.7" fill="url(#g3_676)"/>
<rect x="752" y="684.5" width="4" height="72.5" fill="url(#g3_680)"/>
<rect x="756" y="684.7" width="4" height="72.3" fill="url(#g3_684)"/>
<rect x="760" y="684.9" width="4" height="72.1" fill="url(#g3_688)"/>
<rect x="764" y="683.2" width="4" height="73.8" fill="url(#g3_692)"/>
<rect x="768" y="679.5" width="4" height="77.5" fill="url(#g3_696)"/>
<rect x="772" y="675.9" width="4" height="81.1" fill="url(#g3_700)"/>
<rect x="776" y="675.0" width="4" height="82.0" fill="url(#g3_704)"/>
<rect x="780" y="675.0" width="4" height="82.0" fill="url(#g3_708)"/>
<rect x="784" y="675.0" width="4" height="82.0" fill="url(#g3_712)"/>
<rect x="788" y="675.0" width="4" height="82.0" fill="url(#g3_716)"/>
<rect x="792" y="675.0" width="4" height="82.0" fill="url(#g3_720)"/>
<rect x="796" y="675.0" width="4" height="82.0" fill="url(#g3_724)"/>
<rect x="800" y="675.0" width="4" height="82.0" fill="url(#g3_728)"/>
<rect x="804" y="675.0" width="4" height="82.0" fill="url(#g3_732)"/>
</g>
<g filter="url(#bl4)" fill="#d1d1d1">
<ellipse cx="405" cy="715" rx="52" ry="11"/>
<ellipse cx="160" cy="718" rx="17" ry="3.5"/>
</g>
<g filter="url(#bl3)" fill="#bdbdbd"><ellipse cx="448" cy="716" rx="10" ry="5"/></g>
<g filter="url(#bl1)" fill="none" stroke="#303030" stroke-width="1.5"><polyline points="60.0,703.0 100.0,705.0 130.0,700.0 200.0,699.0 270.0,700.0 300.0,703.0 325.0,696.0 351.0,692.0 427.0,691.0 478.0,693.0 499.0,698.0 529.0,706.0 560.0,711.0 600.0,716.0 700.0,716.0 810.0,715.0"/>
<polyline points="80.0,712.0 120.0,718.0 180.0,727.0 240.0,730.0 300.0,736.0 340.0,742.0" stroke-width="1.5" stroke="#575757"/>
<polyline points="340.0,720.0 360.0,730.0 420.0,733.0 470.0,728.0" stroke-width="1.5" stroke="#5c5c5c"/>
</g>
<g filter="url(#bl3)" fill="#363636"><ellipse cx="772" cy="724" rx="22" ry="9"/></g>
<g filter="url(#bl2)" fill="none" stroke="#575757" stroke-width="4" stroke-linecap="round">
<line x1="76" y1="704" x2="98" y2="730"/>
<line x1="89" y1="699" x2="115" y2="726"/>
<line x1="109" y1="708" x2="140" y2="726"/>
<line x1="190" y1="708" x2="212" y2="734"/>
<line x1="216" y1="704" x2="238" y2="730"/>
<line x1="236" y1="708" x2="258" y2="738"/>
<line x1="258" y1="704" x2="269" y2="738"/>
<line x1="269" y1="704" x2="287" y2="730"/>
<line x1="287" y1="704" x2="274" y2="730"/>
<line x1="293" y1="699" x2="300" y2="717"/>
<line x1="300" y1="706" x2="318" y2="732"/>
<line x1="320" y1="700" x2="338" y2="728"/>
<line x1="560" y1="716" x2="575" y2="735"/>
<line x1="585" y1="717" x2="598" y2="733"/>
<line x1="612" y1="718" x2="626" y2="736"/>
<line x1="700" y1="718" x2="716" y2="738"/>
<line x1="725" y1="718" x2="742" y2="742"/>
<line x1="648" y1="690" x2="668" y2="708"/>
<line x1="662" y1="688" x2="684" y2="708"/>
<line x1="676" y1="690" x2="694" y2="706"/>
<line x1="540" y1="694" x2="556" y2="708"/>
<line x1="515" y1="690" x2="528" y2="702"/>
</g>
</g>
<ellipse cx="276.2" cy="621.2" rx="4.5" ry="1.8" fill="#f00a05"/><ellipse cx="296.8" cy="622.8" rx="4.5" ry="2.1" fill="#f00a05"/>
</g>
<g clip-path="url(#clip1)">
<g filter="url(#cmap)">
<rect x="60" y="340" width="760" height="110" fill="url(#p2top)"/>
<rect x="60" y="450" width="760" height="110" fill="url(#p2bot)"/>
<g filter="url(#bl8)" fill="#e1e1e1"><polygon points="40.0,505.0 380.0,505.0 420.0,545.0 40.0,560.0"/></g>
<g filter="url(#bl10)" fill="#ffffff"><ellipse cx="585" cy="522" rx="135" ry="16"/></g>
<g filter="url(#bl6)" fill="#ececec"><polygon points="740.0,525.0 820.0,520.0 820.0,560.0 740.0,560.0"/></g>
</g>
<g clip-path="url(#chclip)"><g filter="url(#camo)">
<rect x="60" y="340" width="760" height="220" fill="#8c8c8c"/>
<g filter="url(#bl6)">
<rect x="60" y="370" width="270" height="28" fill="#d9d9d9"/>
<rect x="330" y="370" width="490" height="30" fill="#adadad"/>
<rect x="88" y="398" width="192" height="30" fill="#595959"/>
<rect x="280" y="398" width="160" height="37" fill="#808080"/>
<rect x="60" y="468" width="205" height="30" fill="#9e9e9e"/>
<rect x="440" y="430" width="360" height="40" fill="#808080"/>
<rect x="60" y="502" width="760" height="28" fill="#2e2e2e"/>
<rect x="440" y="490" width="360" height="15" fill="#7a7a7a"/>
<rect x="540" y="400" width="260" height="40" fill="#9e9e9e"/>
</g></g></g>
<polyline points="80.0,384.9 83.5,383.9 111.8,383.9 115.3,381.0 272.4,381.0 275.9,383.2 304.1,383.2 307.7,385.6 334.1,385.6 338.0,388.1 345.0,388.1 348.3,385.6 440.0,385.6 503.5,385.6 507.1,388.5 535.3,389.9 545.9,392.7 553.0,398.0 563.5,402.6 574.1,405.1 591.8,406.8 605.9,409.6 613.0,412.1 632.4,412.1 634.1,403.3 630.6,396.2 632.4,390.9 637.7,389.9 665.9,389.9 687.1,392.0 701.2,396.2 711.8,403.3 722.4,410.3 729.5,415.6 733.0,417.4 738.3,406.8 741.8,399.8 750.6,394.5 764.7,390.9 778.9,388.5 793.0,386.3 800.0,386.3" fill="none" stroke="#a8d25a" stroke-width="1" shape-rendering="auto"/>
<polyline points="80.0,385.9 83.5,384.9 111.8,384.9 115.3,382.0 272.4,382.0 275.9,384.2 304.1,384.2 307.7,386.6 334.1,386.6 338.0,389.1 345.0,389.1 348.3,386.6 440.0,386.6 503.5,386.6 507.1,389.5 535.3,390.9 545.9,393.7 553.0,399.0 563.5,403.6 574.1,406.1 591.8,407.8 605.9,410.6 613.0,413.1 632.4,413.1 634.1,404.3 630.6,397.2 632.4,391.9 637.7,390.9 665.9,390.9 687.1,393.0 701.2,397.2 711.8,404.3 722.4,411.3 729.5,416.6 733.0,418.4 738.3,407.8 741.8,400.8 750.6,395.5 764.7,391.9 778.9,389.5 793.0,387.3 800.0,387.3" fill="none" stroke="#4678b4" stroke-width="1" shape-rendering="auto"/>
<polyline points="800.0,518.1 747.1,518.1 729.4,516.0 722.4,515.3 718.9,513.5 609.4,513.5 605.9,511.8 588.3,511.8 584.7,509.0 556.5,509.0 553.0,506.5 503.5,506.5 496.5,504.7 489.4,503.0 484.1,501.2 481.7,497.7 478.8,501.2 475.3,508.2 468.2,511.1 464.7,513.6 414.0,513.6 411.0,512.1 402.0,512.1 399.5,513.6 380.0,513.6 369.4,517.5 365.9,519.6 346.5,519.6 343.0,522.1 230.0,522.1 226.5,519.6 200.0,519.6 196.5,517.5 170.0,517.5 166.5,515.0 138.2,515.0 136.5,512.6 133.0,515.0 104.7,515.0 101.2,517.5 80.0,517.5" fill="none" stroke="#a8d25a" stroke-width="1" shape-rendering="auto"/>
<polyline points="800.0,517.1 747.1,517.1 729.4,515.0 722.4,514.3 718.9,512.5 609.4,512.5 605.9,510.8 588.3,510.8 584.7,508.0 556.5,508.0 553.0,505.5 503.5,505.5 496.5,503.7 489.4,502.0 484.1,500.2 481.7,496.7 478.8,500.2 475.3,507.2 468.2,510.1 464.7,512.6 414.0,512.6 411.0,511.1 402.0,511.1 399.5,512.6 380.0,512.6 369.4,516.5 365.9,518.6 346.5,518.6 343.0,521.1 230.0,521.1 226.5,518.6 200.0,518.6 196.5,516.5 170.0,516.5 166.5,514.0 138.2,514.0 136.5,511.6 133.0,514.0 104.7,514.0 101.2,516.5 80.0,516.5" fill="none" stroke="#4678b4" stroke-width="1" shape-rendering="auto"/>
<polygon points="396.5,455.7 411.4,454.1 443.5,453.8 447.5,458.8 464.7,469.0 449.0,465.1 442.7,463.2 423.9,463.5 403.5,470.6 402.0,473.0 401.2,469.0 397.3,460.4" fill="#d27d28" stroke="#3cc8a0" stroke-width="1.2" shape-rendering="auto"/>
<polygon points="144.4,459.4 147.0,455.9 150.6,455.0 156.8,451.5 157.6,455.9 154.1,458.5 147.9,460.3" fill="#64f07a" stroke="#2050d0" stroke-width="1" shape-rendering="auto"/>
<polygon points="134.7,485.9 138.2,479.7 143.5,475.3 149.7,476.2 153.2,481.5 151.5,485.9 145.3,486.8 136.5,487.6" fill="#c89632" stroke="#50d28c" stroke-width="1.2" shape-rendering="auto"/>
<polyline points="468.0,478.0 472.0,482.0 470.0,488.0 475.0,494.0 477.0,498.0" fill="none" stroke="#40c0c0" stroke-width="1.5" shape-rendering="auto"/>
<polyline points="80.0,448.0 99.4,444.2 131.5,439.6 149.4,437.8 174.4,437.8 195.8,439.6 220.8,442.4 249.3,444.6 277.9,444.2 299.3,441.7 327.8,437.1 349.2,433.5 374.2,430.7 395.6,429.2 427.7,429.2 442.0,430.0 454.3,431.0 475.7,435.3 497.1,439.9 525.7,446.0 557.8,450.6 589.9,455.6 604.2,456.7 661.3,456.7 689.8,456.0 746.9,455.6 768.3,452.8 789.7,449.9 800.0,448.5" fill="none" stroke="#000" stroke-width="2" shape-rendering="auto"/>
<ellipse cx="276.2" cy="361.2" rx="4.5" ry="1.8" fill="#f00a05"/><ellipse cx="296.8" cy="362.8" rx="4.5" ry="2.1" fill="#f00a05"/>
</g>
<g clip-path="url(#clip0)"><g filter="url(#mag)">
<rect x="60" y="80" width="760" height="220" fill="#808080"/>
<g filter="url(#bl5)">
<rect x="60" y="80" width="760" height="56" fill="#999999"/>
<rect x="440" y="130" width="380" height="12" fill="#8c8c8c"/>
<rect x="60" y="140" width="270" height="65" fill="#787878"/>
<rect x="330" y="140" width="230" height="75" fill="#7c7c7c"/>
<rect x="560" y="140" width="260" height="75" fill="#858585"/>
<rect x="440" y="138" width="120" height="27" fill="#858585"/>
<rect x="60" y="222" width="380" height="22" fill="#949494"/>
<rect x="395" y="155" width="75" height="45" fill="#737373"/>
<rect x="440" y="218" width="380" height="30" fill="#858585"/>
<rect x="60" y="248" width="760" height="52" fill="#636363"/>
<rect x="262" y="264" width="68" height="36" fill="#808080"/>
<rect x="545" y="270" width="55" height="30" fill="#8f8f8f"/>
</g><g filter="url(#bl3)">
<ellipse cx="131" cy="180" rx="11" ry="6" fill="#d1d1d1"/>
<ellipse cx="150" cy="184" rx="13" ry="8" fill="#333333"/>
<ellipse cx="205" cy="179" rx="14" ry="6" fill="#c2c2c2"/>
<ellipse cx="228" cy="181" rx="8" ry="7" fill="#383838"/>
<ellipse cx="273" cy="197" rx="6" ry="4" fill="#333333"/>
<ellipse cx="288" cy="199" rx="7" ry="4" fill="#c7c7c7"/>
<ellipse cx="514" cy="172" rx="6" ry="5" fill="#cccccc"/>
<ellipse cx="527" cy="171" rx="8" ry="6" fill="#383838"/>
<ellipse cx="640" cy="186" rx="14" ry="7" fill="#cccccc"/>
<ellipse cx="668" cy="184" rx="16" ry="10" fill="#383838"/>
<ellipse cx="448" cy="185" rx="10" ry="12" fill="#595959"/>
</g></g>
<polygon points="560,100 586,100 576,104 563,110 558,114" fill="#e8e8e8"/>
</g>
<text x="209.50" y="45.7" font-size="26" textLength="508.80" lengthAdjust="spacing">Kislovodsk Mountain Astronomical Station</text>
<rect x="71" y="62" width="2" height="4" fill="#667733"/>
<rect x="97" y="62" width="2" height="4" fill="#667733"/>
<rect x="124" y="62" width="2" height="4" fill="#667733"/>
<rect x="171" y="62" width="2" height="4" fill="#667733"/>
<rect x="222" y="62" width="2" height="4" fill="#667733"/>
<rect x="364" y="62" width="2" height="4" fill="#667733"/>
<rect x="390" y="62" width="2" height="4" fill="#667733"/>
<rect x="417" y="62" width="2" height="4" fill="#667733"/>
<rect x="555" y="55" width="2" height="11" fill="#000"/>
<rect x="686" y="60" width="2" height="6" fill="#000"/>
<rect x="739" y="60" width="2" height="6" fill="#000"/>
<rect x="766" y="60" width="2" height="6" fill="#000"/>
<rect x="78" y="99" width="2" height="183" fill="#000"/>
<rect x="78" y="99" width="725" height="1" fill="#000"/>
<rect x="801" y="99" width="2" height="183" fill="#000"/>
<rect x="78" y="281" width="725" height="1" fill="#000"/>
<rect x="80" y="95" width="1" height="4" fill="#000"/>
<text x="84.5" y="86.5" font-size="16" text-anchor="middle" fill="#000">0</text>
<rect x="100" y="97" width="1" height="2" fill="#000"/>
<rect x="120" y="97" width="1" height="2" fill="#000"/>
<rect x="140" y="95" width="1" height="4" fill="#000"/>
<text x="144.5" y="86.5" font-size="16" text-anchor="middle" fill="#000">30</text>
<rect x="160" y="97" width="1" height="2" fill="#000"/>
<rect x="180" y="97" width="1" height="2" fill="#000"/>
<rect x="200" y="95" width="1" height="4" fill="#000"/>
<text x="204.5" y="86.5" font-size="16" text-anchor="middle" fill="#000">60</text>
<rect x="220" y="97" width="1" height="2" fill="#000"/>
<rect x="240" y="97" width="1" height="2" fill="#000"/>
<rect x="260" y="95" width="1" height="4" fill="#000"/>
<text x="264.5" y="86.5" font-size="16" text-anchor="middle" fill="#000">90</text>
<rect x="280" y="97" width="1" height="2" fill="#000"/>
<rect x="300" y="97" width="1" height="2" fill="#000"/>
<rect x="320" y="95" width="1" height="4" fill="#000"/>
<text x="324.5" y="86.5" font-size="16" text-anchor="middle" fill="#000">120</text>
<rect x="340" y="97" width="1" height="2" fill="#000"/>
<rect x="360" y="97" width="1" height="2" fill="#000"/>
<rect x="380" y="95" width="1" height="4" fill="#000"/>
<text x="384.5" y="86.5" font-size="16" text-anchor="middle" fill="#000">150</text>
<rect x="400" y="97" width="1" height="2" fill="#000"/>
<rect x="420" y="97" width="1" height="2" fill="#000"/>
<rect x="440" y="95" width="1" height="4" fill="#000"/>
<text x="444.5" y="86.5" font-size="16" text-anchor="middle" fill="#000">180</text>
<rect x="460" y="97" width="1" height="2" fill="#000"/>
<rect x="480" y="97" width="1" height="2" fill="#000"/>
<rect x="500" y="95" width="1" height="4" fill="#000"/>
<text x="504.5" y="86.5" font-size="16" text-anchor="middle" fill="#000">210</text>
<rect x="520" y="97" width="1" height="2" fill="#000"/>
<rect x="540" y="97" width="1" height="2" fill="#000"/>
<rect x="560" y="95" width="1" height="4" fill="#000"/>
<text x="564.5" y="86.5" font-size="16" text-anchor="middle" fill="#000">240</text>
<rect x="580" y="97" width="1" height="2" fill="#000"/>
<rect x="600" y="97" width="1" height="2" fill="#000"/>
<rect x="620" y="95" width="1" height="4" fill="#000"/>
<text x="624.5" y="86.5" font-size="16" text-anchor="middle" fill="#000">270</text>
<rect x="640" y="97" width="1" height="2" fill="#000"/>
<rect x="660" y="97" width="1" height="2" fill="#000"/>
<rect x="680" y="95" width="1" height="4" fill="#000"/>
<text x="684.5" y="86.5" font-size="16" text-anchor="middle" fill="#000">300</text>
<rect x="700" y="97" width="1" height="2" fill="#000"/>
<rect x="720" y="97" width="1" height="2" fill="#000"/>
<rect x="740" y="95" width="1" height="4" fill="#000"/>
<text x="744.5" y="86.5" font-size="16" text-anchor="middle" fill="#000">330</text>
<rect x="760" y="97" width="1" height="2" fill="#000"/>
<rect x="780" y="97" width="1" height="2" fill="#000"/>
<rect x="800" y="95" width="1" height="4" fill="#000"/>
<text x="804.5" y="86.5" font-size="16" text-anchor="middle" fill="#000">360</text>
<text x="64.3" y="109.6" font-size="16" text-anchor="middle" fill="#000">90</text>
<text x="824.3" y="109.6" font-size="16" text-anchor="middle" fill="#000">90</text>
<rect x="75" y="130" width="3" height="1" fill="#000"/>
<rect x="803" y="130" width="3" height="1" fill="#000"/>
<text x="64.3" y="139.6" font-size="16" text-anchor="middle" fill="#000">60</text>
<text x="824.3" y="139.6" font-size="16" text-anchor="middle" fill="#000">60</text>
<rect x="75" y="160" width="3" height="1" fill="#000"/>
<rect x="803" y="160" width="3" height="1" fill="#000"/>
<text x="64.3" y="169.6" font-size="16" text-anchor="middle" fill="#000">30</text>
<text x="824.3" y="169.6" font-size="16" text-anchor="middle" fill="#000">30</text>
<rect x="75" y="190" width="3" height="1" fill="#000"/>
<rect x="803" y="190" width="3" height="1" fill="#000"/>
<text x="64.3" y="199.6" font-size="16" text-anchor="middle" fill="#000">0</text>
<text x="824.3" y="199.6" font-size="16" text-anchor="middle" fill="#000">0</text>
<rect x="75" y="220" width="3" height="1" fill="#000"/>
<rect x="803" y="220" width="3" height="1" fill="#000"/>
<text x="62.0" y="229.6" font-size="16" text-anchor="middle" fill="#000">-30</text>
<text x="821.8" y="229.6" font-size="16" text-anchor="middle" fill="#000">-30</text>
<rect x="75" y="250" width="3" height="1" fill="#000"/>
<rect x="803" y="250" width="3" height="1" fill="#000"/>
<text x="62.0" y="259.6" font-size="16" text-anchor="middle" fill="#000">-60</text>
<text x="821.8" y="259.6" font-size="16" text-anchor="middle" fill="#000">-60</text>
<text x="62.0" y="289.6" font-size="16" text-anchor="middle" fill="#000">-90</text>
<text x="821.8" y="289.6" font-size="16" text-anchor="middle" fill="#000">-90</text>
<rect x="84" y="282" width="1" height="3" fill="#000"/>
<rect x="110" y="282" width="1" height="3" fill="#000"/>
<rect x="137" y="282" width="1" height="8" fill="#000"/>
<text x="118.0" y="307.5" font-size="16" fill="#000">10</text>
<rect x="163" y="282" width="1" height="3" fill="#000"/>
<rect x="189" y="282" width="1" height="3" fill="#000"/>
<rect x="216" y="282" width="1" height="3" fill="#000"/>
<rect x="242" y="282" width="1" height="3" fill="#000"/>
<rect x="269" y="282" width="1" height="8" fill="#000"/>
<text x="249.9" y="307.5" font-size="16" fill="#000">5</text>
<rect x="295" y="282" width="1" height="3" fill="#000"/>
<rect x="321" y="282" width="1" height="3" fill="#000"/>
<rect x="348" y="282" width="1" height="3" fill="#000"/>
<rect x="374" y="282" width="1" height="16" fill="#000"/>
<rect x="400" y="282" width="1" height="3" fill="#000"/>
<rect x="427" y="282" width="1" height="8" fill="#000"/>
<text x="408.1" y="307.5" font-size="16" fill="#000">30</text>
<rect x="453" y="282" width="1" height="3" fill="#000"/>
<rect x="480" y="282" width="1" height="3" fill="#000"/>
<rect x="506" y="282" width="1" height="3" fill="#000"/>
<rect x="532" y="282" width="1" height="3" fill="#000"/>
<rect x="559" y="282" width="1" height="8" fill="#000"/>
<text x="540.0" y="307.5" font-size="16" fill="#000">25</text>
<rect x="585" y="282" width="1" height="3" fill="#000"/>
<rect x="611" y="282" width="1" height="3" fill="#000"/>
<rect x="638" y="282" width="1" height="3" fill="#000"/>
<rect x="664" y="282" width="1" height="3" fill="#000"/>
<rect x="691" y="282" width="1" height="8" fill="#000"/>
<text x="671.8" y="307.5" font-size="16" fill="#000">20</text>
<rect x="717" y="282" width="1" height="3" fill="#000"/>
<rect x="743" y="282" width="1" height="3" fill="#000"/>
<rect x="770" y="282" width="1" height="3" fill="#000"/>
<rect x="796" y="282" width="1" height="3" fill="#000"/>
<rect x="800" y="282" width="1" height="8" fill="#000"/>
<text x="782" y="307.5" font-size="16" fill="#000">15</text>
<text x="80.90" y="324.6" font-size="16" textLength="26.10" lengthAdjust="spacing">Jun</text>
<text x="439.40" y="329.6" font-size="16" textLength="36.89" lengthAdjust="spacing">2018</text>
<text x="729.40" y="329.5" font-size="16" textLength="57.52" lengthAdjust="spacing">Nr:2204</text>
<text x="799.80" y="324.7" font-size="16" textLength="30.43" lengthAdjust="spacing">May</text>
<rect x="78" y="359" width="2" height="183" fill="#000"/>
<rect x="78" y="359" width="725" height="1" fill="#000"/>
<rect x="801" y="359" width="2" height="183" fill="#000"/>
<rect x="78" y="541" width="725" height="1" fill="#000"/>
<rect x="80" y="355" width="1" height="4" fill="#000"/>
<text x="84.5" y="346.5" font-size="16" text-anchor="middle" fill="#000">0</text>
<rect x="100" y="357" width="1" height="2" fill="#000"/>
<rect x="120" y="357" width="1" height="2" fill="#000"/>
<rect x="140" y="355" width="1" height="4" fill="#000"/>
<text x="144.5" y="346.5" font-size="16" text-anchor="middle" fill="#000">30</text>
<rect x="160" y="357" width="1" height="2" fill="#000"/>
<rect x="180" y="357" width="1" height="2" fill="#000"/>
<rect x="200" y="355" width="1" height="4" fill="#000"/>
<text x="204.5" y="346.5" font-size="16" text-anchor="middle" fill="#000">60</text>
<rect x="220" y="357" width="1" height="2" fill="#000"/>
<rect x="240" y="357" width="1" height="2" fill="#000"/>
<rect x="260" y="355" width="1" height="4" fill="#000"/>
<text x="264.5" y="346.5" font-size="16" text-anchor="middle" fill="#000">90</text>
<rect x="280" y="357" width="1" height="2" fill="#000"/>
<rect x="300" y="357" width="1" height="2" fill="#000"/>
<rect x="320" y="355" width="1" height="4" fill="#000"/>
<text x="324.5" y="346.5" font-size="16" text-anchor="middle" fill="#000">120</text>
<rect x="340" y="357" width="1" height="2" fill="#000"/>
<rect x="360" y="357" width="1" height="2" fill="#000"/>
<rect x="380" y="355" width="1" height="4" fill="#000"/>
<text x="384.5" y="346.5" font-size="16" text-anchor="middle" fill="#000">150</text>
<rect x="400" y="357" width="1" height="2" fill="#000"/>
<rect x="420" y="357" width="1" height="2" fill="#000"/>
<rect x="440" y="355" width="1" height="4" fill="#000"/>
<text x="444.5" y="346.5" font-size="16" text-anchor="middle" fill="#000">180</text>
<rect x="460" y="357" width="1" height="2" fill="#000"/>
<rect x="480" y="357" width="1" height="2" fill="#000"/>
<rect x="500" y="355" width="1" height="4" fill="#000"/>
<text x="504.5" y="346.5" font-size="16" text-anchor="middle" fill="#000">210</text>
<rect x="520" y="357" width="1" height="2" fill="#000"/>
<rect x="540" y="357" width="1" height="2" fill="#000"/>
<rect x="560" y="355" width="1" height="4" fill="#000"/>
<text x="564.5" y="346.5" font-size="16" text-anchor="middle" fill="#000">240</text>
<rect x="580" y="357" width="1" height="2" fill="#000"/>
<rect x="600" y="357" width="1" height="2" fill="#000"/>
<rect x="620" y="355" width="1" height="4" fill="#000"/>
<text x="624.5" y="346.5" font-size="16" text-anchor="middle" fill="#000">270</text>
<rect x="640" y="357" width="1" height="2" fill="#000"/>
<rect x="660" y="357" width="1" height="2" fill="#000"/>
<rect x="680" y="355" width="1" height="4" fill="#000"/>
<text x="684.5" y="346.5" font-size="16" text-anchor="middle" fill="#000">300</text>
<rect x="700" y="357" width="1" height="2" fill="#000"/>
<rect x="720" y="357" width="1" height="2" fill="#000"/>
<rect x="740" y="355" width="1" height="4" fill="#000"/>
<text x="744.5" y="346.5" font-size="16" text-anchor="middle" fill="#000">330</text>
<rect x="760" y="357" width="1" height="2" fill="#000"/>
<rect x="780" y="357" width="1" height="2" fill="#000"/>
<rect x="800" y="355" width="1" height="4" fill="#000"/>
<text x="804.5" y="346.5" font-size="16" text-anchor="middle" fill="#000">360</text>
<text x="64.3" y="369.6" font-size="16" text-anchor="middle" fill="#000">90</text>
<text x="824.3" y="369.6" font-size="16" text-anchor="middle" fill="#000">90</text>
<rect x="75" y="390" width="3" height="1" fill="#000"/>
<rect x="803" y="390" width="3" height="1" fill="#000"/>
<text x="64.3" y="399.6" font-size="16" text-anchor="middle" fill="#000">60</text>
<text x="824.3" y="399.6" font-size="16" text-anchor="middle" fill="#000">60</text>
<rect x="75" y="420" width="3" height="1" fill="#000"/>
<rect x="803" y="420" width="3" height="1" fill="#000"/>
<text x="64.3" y="429.6" font-size="16" text-anchor="middle" fill="#000">30</text>
<text x="824.3" y="429.6" font-size="16" text-anchor="middle" fill="#000">30</text>
<rect x="75" y="450" width="3" height="1" fill="#000"/>
<rect x="803" y="450" width="3" height="1" fill="#000"/>
<text x="64.3" y="459.6" font-size="16" text-anchor="middle" fill="#000">0</text>
<text x="824.3" y="459.6" font-size="16" text-anchor="middle" fill="#000">0</text>
<rect x="75" y="480" width="3" height="1" fill="#000"/>
<rect x="803" y="480" width="3" height="1" fill="#000"/>
<text x="62.0" y="489.6" font-size="16" text-anchor="middle" fill="#000">-30</text>
<text x="821.8" y="489.6" font-size="16" text-anchor="middle" fill="#000">-30</text>
<rect x="75" y="510" width="3" height="1" fill="#000"/>
<rect x="803" y="510" width="3" height="1" fill="#000"/>
<text x="62.0" y="519.6" font-size="16" text-anchor="middle" fill="#000">-60</text>
<text x="821.8" y="519.6" font-size="16" text-anchor="middle" fill="#000">-60</text>
<text x="62.0" y="549.6" font-size="16" text-anchor="middle" fill="#000">-90</text>
<text x="821.8" y="549.6" font-size="16" text-anchor="middle" fill="#000">-90</text>
<rect x="84" y="542" width="1" height="3" fill="#000"/>
<rect x="110" y="542" width="1" height="3" fill="#000"/>
<rect x="137" y="542" width="1" height="8" fill="#000"/>
<text x="118.0" y="567.5" font-size="16" fill="#000">10</text>
<rect x="163" y="542" width="1" height="3" fill="#000"/>
<rect x="189" y="542" width="1" height="3" fill="#000"/>
<rect x="216" y="542" width="1" height="3" fill="#000"/>
<rect x="242" y="542" width="1" height="3" fill="#000"/>
<rect x="269" y="542" width="1" height="8" fill="#000"/>
<text x="249.9" y="567.5" font-size="16" fill="#000">5</text>
<rect x="295" y="542" width="1" height="3" fill="#000"/>
<rect x="321" y="542" width="1" height="3" fill="#000"/>
<rect x="348" y="542" width="1" height="3" fill="#000"/>
<rect x="374" y="542" width="1" height="16" fill="#000"/>
<rect x="400" y="542" width="1" height="3" fill="#000"/>
<rect x="427" y="542" width="1" height="8" fill="#000"/>
<text x="408.1" y="567.5" font-size="16" fill="#000">30</text>
<rect x="453" y="542" width="1" height="3" fill="#000"/>
<rect x="480" y="542" width="1" height="3" fill="#000"/>
<rect x="506" y="542" width="1" height="3" fill="#000"/>
<rect x="532" y="542" width="1" height="3" fill="#000"/>
<rect x="559" y="542" width="1" height="8" fill="#000"/>
<text x="540.0" y="567.5" font-size="16" fill="#000">25</text>
<rect x="585" y="542" width="1" height="3" fill="#000"/>
<rect x="611" y="542" width="1" height="3" fill="#000"/>
<rect x="638" y="542" width="1" height="3" fill="#000"/>
<rect x="664" y="542" width="1" height="3" fill="#000"/>
<rect x="691" y="542" width="1" height="8" fill="#000"/>
<text x="671.8" y="567.5" font-size="16" fill="#000">20</text>
<rect x="717" y="542" width="1" height="3" fill="#000"/>
<rect x="743" y="542" width="1" height="3" fill="#000"/>
<rect x="770" y="542" width="1" height="3" fill="#000"/>
<rect x="796" y="542" width="1" height="3" fill="#000"/>
<rect x="800" y="542" width="1" height="8" fill="#000"/>
<text x="782" y="567.5" font-size="16" fill="#000">15</text>
<rect x="78" y="619" width="2" height="183" fill="#000"/>
<rect x="78" y="619" width="725" height="1" fill="#000"/>
<rect x="801" y="619" width="2" height="183" fill="#000"/>
<rect x="78" y="801" width="725" height="1" fill="#000"/>
<rect x="80" y="615" width="1" height="4" fill="#000"/>
<text x="84.5" y="606.5" font-size="16" text-anchor="middle" fill="#000">0</text>
<rect x="100" y="617" width="1" height="2" fill="#000"/>
<rect x="120" y="617" width="1" height="2" fill="#000"/>
<rect x="140" y="615" width="1" height="4" fill="#000"/>
<text x="144.5" y="606.5" font-size="16" text-anchor="middle" fill="#000">30</text>
<rect x="160" y="617" width="1" height="2" fill="#000"/>
<rect x="180" y="617" width="1" height="2" fill="#000"/>
<rect x="200" y="615" width="1" height="4" fill="#000"/>
<text x="204.5" y="606.5" font-size="16" text-anchor="middle" fill="#000">60</text>
<rect x="220" y="617" width="1" height="2" fill="#000"/>
<rect x="240" y="617" width="1" height="2" fill="#000"/>
<rect x="260" y="615" width="1" height="4" fill="#000"/>
<text x="264.5" y="606.5" font-size="16" text-anchor="middle" fill="#000">90</text>
<rect x="280" y="617" width="1" height="2" fill="#000"/>
<rect x="300" y="617" width="1" height="2" fill="#000"/>
<rect x="320" y="615" width="1" height="4" fill="#000"/>
<text x="324.5" y="606.5" font-size="16" text-anchor="middle" fill="#000">120</text>
<rect x="340" y="617" width="1" height="2" fill="#000"/>
<rect x="360" y="617" width="1" height="2" fill="#000"/>
<rect x="380" y="615" width="1" height="4" fill="#000"/>
<text x="384.5" y="606.5" font-size="16" text-anchor="middle" fill="#000">150</text>
<rect x="400" y="617" width="1" height="2" fill="#000"/>
<rect x="420" y="617" width="1" height="2" fill="#000"/>
<rect x="440" y="615" width="1" height="4" fill="#000"/>
<text x="444.5" y="606.5" font-size="16" text-anchor="middle" fill="#000">180</text>
<rect x="460" y="617" width="1" height="2" fill="#000"/>
<rect x="480" y="617" width="1" height="2" fill="#000"/>
<rect x="500" y="615" width="1" height="4" fill="#000"/>
<text x="504.5" y="606.5" font-size="16" text-anchor="middle" fill="#000">210</text>
<rect x="520" y="617" width="1" height="2" fill="#000"/>
<rect x="540" y="617" width="1" height="2" fill="#000"/>
<rect x="560" y="615" width="1" height="4" fill="#000"/>
<text x="564.5" y="606.5" font-size="16" text-anchor="middle" fill="#000">240</text>
<rect x="580" y="617" width="1" height="2" fill="#000"/>
<rect x="600" y="617" width="1" height="2" fill="#000"/>
<rect x="620" y="615" width="1" height="4" fill="#000"/>
<text x="624.5" y="606.5" font-size="16" text-anchor="middle" fill="#000">270</text>
<rect x="640" y="617" width="1" height="2" fill="#000"/>
<rect x="660" y="617" width="1" height="2" fill="#000"/>
<rect x="680" y="615" width="1" height="4" fill="#000"/>
<text x="684.5" y="606.5" font-size="16" text-anchor="middle" fill="#000">300</text>
<rect x="700" y="617" width="1" height="2" fill="#000"/>
<rect x="720" y="617" width="1" height="2" fill="#000"/>
<rect x="740" y="615" width="1" height="4" fill="#000"/>
<text x="744.5" y="606.5" font-size="16" text-anchor="middle" fill="#000">330</text>
<rect x="760" y="617" width="1" height="2" fill="#000"/>
<rect x="780" y="617" width="1" height="2" fill="#000"/>
<rect x="800" y="615" width="1" height="4" fill="#000"/>
<text x="804.5" y="606.5" font-size="16" text-anchor="middle" fill="#000">360</text>
<text x="64.3" y="629.6" font-size="16" text-anchor="middle" fill="#000">90</text>
<text x="824.3" y="629.6" font-size="16" text-anchor="middle" fill="#000">90</text>
<rect x="75" y="650" width="3" height="1" fill="#000"/>
<rect x="803" y="650" width="3" height="1" fill="#000"/>
<text x="64.3" y="659.6" font-size="16" text-anchor="middle" fill="#000">60</text>
<text x="824.3" y="659.6" font-size="16" text-anchor="middle" fill="#000">60</text>
<rect x="75" y="680" width="3" height="1" fill="#000"/>
<rect x="803" y="680" width="3" height="1" fill="#000"/>
<text x="64.3" y="689.6" font-size="16" text-anchor="middle" fill="#000">30</text>
<text x="824.3" y="689.6" font-size="16" text-anchor="middle" fill="#000">30</text>
<rect x="75" y="710" width="3" height="1" fill="#000"/>
<rect x="803" y="710" width="3" height="1" fill="#000"/>
<text x="64.3" y="719.6" font-size="16" text-anchor="middle" fill="#000">0</text>
<text x="824.3" y="719.6" font-size="16" text-anchor="middle" fill="#000">0</text>
<rect x="75" y="740" width="3" height="1" fill="#000"/>
<rect x="803" y="740" width="3" height="1" fill="#000"/>
<text x="62.0" y="749.6" font-size="16" text-anchor="middle" fill="#000">-30</text>
<text x="821.8" y="749.6" font-size="16" text-anchor="middle" fill="#000">-30</text>
<rect x="75" y="770" width="3" height="1" fill="#000"/>
<rect x="803" y="770" width="3" height="1" fill="#000"/>
<text x="62.0" y="779.6" font-size="16" text-anchor="middle" fill="#000">-60</text>
<text x="821.8" y="779.6" font-size="16" text-anchor="middle" fill="#000">-60</text>
<text x="62.0" y="809.6" font-size="16" text-anchor="middle" fill="#000">-90</text>
<text x="821.8" y="809.6" font-size="16" text-anchor="middle" fill="#000">-90</text>
<rect x="84" y="802" width="1" height="3" fill="#000"/>
<rect x="110" y="802" width="1" height="3" fill="#000"/>
<rect x="137" y="802" width="1" height="8" fill="#000"/>
<text x="118.0" y="827.5" font-size="16" fill="#000">10</text>
<rect x="163" y="802" width="1" height="3" fill="#000"/>
<rect x="189" y="802" width="1" height="3" fill="#000"/>
<rect x="216" y="802" width="1" height="3" fill="#000"/>
<rect x="242" y="802" width="1" height="3" fill="#000"/>
<rect x="269" y="802" width="1" height="8" fill="#000"/>
<text x="249.9" y="827.5" font-size="16" fill="#000">5</text>
<rect x="295" y="802" width="1" height="3" fill="#000"/>
<rect x="321" y="802" width="1" height="3" fill="#000"/>
<rect x="348" y="802" width="1" height="3" fill="#000"/>
<rect x="374" y="802" width="1" height="16" fill="#000"/>
<rect x="400" y="802" width="1" height="3" fill="#000"/>
<rect x="427" y="802" width="1" height="8" fill="#000"/>
<text x="408.1" y="827.5" font-size="16" fill="#000">30</text>
<rect x="453" y="802" width="1" height="3" fill="#000"/>
<rect x="480" y="802" width="1" height="3" fill="#000"/>
<rect x="506" y="802" width="1" height="3" fill="#000"/>
<rect x="532" y="802" width="1" height="3" fill="#000"/>
<rect x="559" y="802" width="1" height="8" fill="#000"/>
<text x="540.0" y="827.5" font-size="16" fill="#000">25</text>
<rect x="585" y="802" width="1" height="3" fill="#000"/>
<rect x="611" y="802" width="1" height="3" fill="#000"/>
<rect x="638" y="802" width="1" height="3" fill="#000"/>
<rect x="664" y="802" width="1" height="3" fill="#000"/>
<rect x="691" y="802" width="1" height="8" fill="#000"/>
<text x="671.8" y="827.5" font-size="16" fill="#000">20</text>
<rect x="717" y="802" width="1" height="3" fill="#000"/>
<rect x="743" y="802" width="1" height="3" fill="#000"/>
<rect x="770" y="802" width="1" height="3" fill="#000"/>
<rect x="796" y="802" width="1" height="3" fill="#000"/>
<rect x="800" y="802" width="1" height="8" fill="#000"/>
<text x="782" y="827.5" font-size="16" fill="#000">15</text>
<rect x="78" y="879" width="2" height="183" fill="#000"/>
<rect x="78" y="879" width="725" height="1" fill="#000"/>
<rect x="801" y="879" width="2" height="183" fill="#000"/>
<rect x="78" y="1061" width="725" height="1" fill="#000"/>
<rect x="80" y="875" width="1" height="4" fill="#000"/>
<text x="84.5" y="866.5" font-size="16" text-anchor="middle" fill="#000">0</text>
<rect x="100" y="877" width="1" height="2" fill="#000"/>
<rect x="120" y="877" width="1" height="2" fill="#000"/>
<rect x="140" y="875" width="1" height="4" fill="#000"/>
<text x="144.5" y="866.5" font-size="16" text-anchor="middle" fill="#000">30</text>
<rect x="160" y="877" width="1" height="2" fill="#000"/>
<rect x="180" y="877" width="1" height="2" fill="#000"/>
<rect x="200" y="875" width="1" height="4" fill="#000"/>
<text x="204.5" y="866.5" font-size="16" text-anchor="middle" fill="#000">60</text>
<rect x="220" y="877" width="1" height="2" fill="#000"/>
<rect x="240" y="877" width="1" height="2" fill="#000"/>
<rect x="260" y="875" width="1" height="4" fill="#000"/>
<text x="264.5" y="866.5" font-size="16" text-anchor="middle" fill="#000">90</text>
<rect x="280" y="877" width="1" height="2" fill="#000"/>
<rect x="300" y="877" width="1" height="2" fill="#000"/>
<rect x="320" y="875" width="1" height="4" fill="#000"/>
<text x="324.5" y="866.5" font-size="16" text-anchor="middle" fill="#000">120</text>
<rect x="340" y="877" width="1" height="2" fill="#000"/>
<rect x="360" y="877" width="1" height="2" fill="#000"/>
<rect x="380" y="875" width="1" height="4" fill="#000"/>
<text x="384.5" y="866.5" font-size="16" text-anchor="middle" fill="#000">150</text>
<rect x="400" y="877" width="1" height="2" fill="#000"/>
<rect x="420" y="877" width="1" height="2" fill="#000"/>
<rect x="440" y="875" width="1" height="4" fill="#000"/>
<text x="444.5" y="866.5" font-size="16" text-anchor="middle" fill="#000">180</text>
<rect x="460" y="877" width="1" height="2" fill="#000"/>
<rect x="480" y="877" width="1" height="2" fill="#000"/>
<rect x="500" y="875" width="1" height="4" fill="#000"/>
<text x="504.5" y="866.5" font-size="16" text-anchor="middle" fill="#000">210</text>
<rect x="520" y="877" width="1" height="2" fill="#000"/>
<rect x="540" y="877" width="1" height="2" fill="#000"/>
<rect x="560" y="875" width="1" height="4" fill="#000"/>
<text x="564.5" y="866.5" font-size="16" text-anchor="middle" fill="#000">240</text>
<rect x="580" y="877" width="1" height="2" fill="#000"/>
<rect x="600" y="877" width="1" height="2" fill="#000"/>
<rect x="620" y="875" width="1" height="4" fill="#000"/>
<text x="624.5" y="866.5" font-size="16" text-anchor="middle" fill="#000">270</text>
<rect x="640" y="877" width="1" height="2" fill="#000"/>
<rect x="660" y="877" width="1" height="2" fill="#000"/>
<rect x="680" y="875" width="1" height="4" fill="#000"/>
<text x="684.5" y="866.5" font-size="16" text-anchor="middle" fill="#000">300</text>
<rect x="700" y="877" width="1" height="2" fill="#000"/>
<rect x="720" y="877" width="1" height="2" fill="#000"/>
<rect x="740" y="875" width="1" height="4" fill="#000"/>
<text x="744.5" y="866.5" font-size="16" text-anchor="middle" fill="#000">330</text>
<rect x="760" y="877" width="1" height="2" fill="#000"/>
<rect x="780" y="877" width="1" height="2" fill="#000"/>
<rect x="800" y="875" width="1" height="4" fill="#000"/>
<text x="804.5" y="866.5" font-size="16" text-anchor="middle" fill="#000">360</text>
<text x="64.3" y="889.6" font-size="16" text-anchor="middle" fill="#000">90</text>
<text x="824.3" y="889.6" font-size="16" text-anchor="middle" fill="#000">90</text>
<rect x="75" y="910" width="3" height="1" fill="#000"/>
<rect x="803" y="910" width="3" height="1" fill="#000"/>
<text x="64.3" y="919.6" font-size="16" text-anchor="middle" fill="#000">60</text>
<text x="824.3" y="919.6" font-size="16" text-anchor="middle" fill="#000">60</text>
<rect x="75" y="940" width="3" height="1" fill="#000"/>
<rect x="803" y="940" width="3" height="1" fill="#000"/>
<text x="64.3" y="949.6" font-size="16" text-anchor="middle" fill="#000">30</text>
<text x="824.3" y="949.6" font-size="16" text-anchor="middle" fill="#000">30</text>
<rect x="75" y="970" width="3" height="1" fill="#000"/>
<rect x="803" y="970" width="3" height="1" fill="#000"/>
<text x="64.3" y="979.6" font-size="16" text-anchor="middle" fill="#000">0</text>
<text x="824.3" y="979.6" font-size="16" text-anchor="middle" fill="#000">0</text>
<rect x="75" y="1000" width="3" height="1" fill="#000"/>
<rect x="803" y="1000" width="3" height="1" fill="#000"/>
<text x="62.0" y="1009.6" font-size="16" text-anchor="middle" fill="#000">-30</text>
<text x="821.8" y="1009.6" font-size="16" text-anchor="middle" fill="#000">-30</text>
<rect x="75" y="1030" width="3" height="1" fill="#000"/>
<rect x="803" y="1030" width="3" height="1" fill="#000"/>
<text x="62.0" y="1039.6" font-size="16" text-anchor="middle" fill="#000">-60</text>
<text x="821.8" y="1039.6" font-size="16" text-anchor="middle" fill="#000">-60</text>
<text x="62.0" y="1069.6" font-size="16" text-anchor="middle" fill="#000">-90</text>
<text x="821.8" y="1069.6" font-size="16" text-anchor="middle" fill="#000">-90</text>
<rect x="84" y="1062" width="1" height="3" fill="#000"/>
<rect x="110" y="1062" width="1" height="3" fill="#000"/>
<rect x="137" y="1062" width="1" height="8" fill="#000"/>
<text x="118.0" y="1087.5" font-size="16" fill="#000">10</text>
<rect x="163" y="1062" width="1" height="3" fill="#000"/>
<rect x="189" y="1062" width="1" height="3" fill="#000"/>
<rect x="216" y="1062" width="1" height="3" fill="#000"/>
<rect x="242" y="1062" width="1" height="3" fill="#000"/>
<rect x="269" y="1062" width="1" height="8" fill="#000"/>
<text x="249.9" y="1087.5" font-size="16" fill="#000">5</text>
<rect x="295" y="1062" width="1" height="3" fill="#000"/>
<rect x="321" y="1062" width="1" height="3" fill="#000"/>
<rect x="348" y="1062" width="1" height="3" fill="#000"/>
<rect x="374" y="1062" width="1" height="16" fill="#000"/>
<rect x="400" y="1062" width="1" height="3" fill="#000"/>
<rect x="427" y="1062" width="1" height="8" fill="#000"/>
<text x="408.1" y="1087.5" font-size="16" fill="#000">30</text>
<rect x="453" y="1062" width="1" height="3" fill="#000"/>
<rect x="480" y="1062" width="1" height="3" fill="#000"/>
<rect x="506" y="1062" width="1" height="3" fill="#000"/>
<rect x="532" y="1062" width="1" height="3" fill="#000"/>
<rect x="559" y="1062" width="1" height="8" fill="#000"/>
<text x="540.0" y="1087.5" font-size="16" fill="#000">25</text>
<rect x="585" y="1062" width="1" height="3" fill="#000"/>
<rect x="611" y="1062" width="1" height="3" fill="#000"/>
<rect x="638" y="1062" width="1" height="3" fill="#000"/>
<rect x="664" y="1062" width="1" height="3" fill="#000"/>
<rect x="691" y="1062" width="1" height="8" fill="#000"/>
<text x="671.8" y="1087.5" font-size="16" fill="#000">20</text>
<rect x="717" y="1062" width="1" height="3" fill="#000"/>
<rect x="743" y="1062" width="1" height="3" fill="#000"/>
<rect x="770" y="1062" width="1" height="3" fill="#000"/>
<rect x="796" y="1062" width="1" height="3" fill="#000"/>
<rect x="800" y="1062" width="1" height="8" fill="#000"/>
<text x="782" y="1087.5" font-size="16" fill="#000">15</text>
<text x="80.90" y="1104.6" font-size="16" textLength="26.10" lengthAdjust="spacing">Jun</text>
<text x="439.40" y="1109.6" font-size="16" textLength="36.89" lengthAdjust="spacing">2018</text>
<text x="729.40" y="1109.5" font-size="16" textLength="57.52" lengthAdjust="spacing">Nr:2204</text>
<text x="799.80" y="1104.7" font-size="16" textLength="30.43" lengthAdjust="spacing">May</text>
<rect x="870" y="99" width="20" height="9" fill="rgb(255, 0, 0)"/>
<rect x="870" y="108" width="20" height="9" fill="rgb(255, 25, 25)"/>
<rect x="870" y="117" width="20" height="8" fill="rgb(255, 40, 40)"/>
<rect x="870" y="125" width="20" height="9" fill="rgb(255, 55, 55)"/>
<rect x="870" y="134" width="20" height="8" fill="rgb(255, 70, 70)"/>
<rect x="870" y="142" width="20" height="9" fill="rgb(255, 85, 85)"/>
<rect x="870" y="151" width="20" height="9" fill="rgb(255, 100, 100)"/>
<rect x="870" y="160" width="20" height="8" fill="rgb(255, 120, 120)"/>
<rect x="870" y="168" width="20" height="9" fill="rgb(255, 140, 140)"/>
<rect x="870" y="177" width="20" height="8" fill="rgb(250, 162, 162)"/>
<rect x="870" y="185" width="20" height="9" fill="rgb(232, 232, 232)"/>
<rect x="870" y="194" width="20" height="9" fill="rgb(170, 170, 255)"/>
<rect x="870" y="203" width="20" height="8" fill="rgb(155, 155, 252)"/>
<rect x="870" y="211" width="20" height="9" fill="rgb(140, 140, 250)"/>
<rect x="870" y="220" width="20" height="8" fill="rgb(120, 120, 248)"/>
<rect x="870" y="228" width="20" height="9" fill="rgb(100, 100, 245)"/>
<rect x="870" y="237" width="20" height="9" fill="rgb(85, 85, 245)"/>
<rect x="870" y="246" width="20" height="8" fill="rgb(70, 70, 245)"/>
<rect x="870" y="254" width="20" height="9" fill="rgb(50, 50, 245)"/>
<rect x="870" y="263" width="20" height="8" fill="rgb(30, 30, 248)"/>
<rect x="870" y="271" width="20" height="9" fill="rgb(15, 15, 255)"/>
<rect x="892" y="108" width="5" height="1" fill="#000"/>
<text x="900" y="112.7" font-size="13" fill="#000">512</text>
<rect x="892" y="117" width="5" height="1" fill="#000"/>
<rect x="892" y="125" width="5" height="1" fill="#000"/>
<text x="900" y="129.7" font-size="13" fill="#000">128</text>
<rect x="892" y="134" width="5" height="1" fill="#000"/>
<rect x="892" y="142" width="5" height="1" fill="#000"/>
<text x="900" y="146.7" font-size="13" fill="#000">32</text>
<rect x="892" y="151" width="5" height="1" fill="#000"/>
<rect x="892" y="160" width="5" height="1" fill="#000"/>
<text x="900" y="164.7" font-size="13" fill="#000">8</text>
<rect x="892" y="168" width="5" height="1" fill="#000"/>
<rect x="892" y="177" width="5" height="1" fill="#000"/>
<text x="900" y="181.7" font-size="13" fill="#000">2</text>
<rect x="892" y="185" width="5" height="1" fill="#000"/>
<rect x="892" y="194" width="5" height="1" fill="#000"/>
<text x="900" y="198.7" font-size="13" fill="#000">0</text>
<rect x="892" y="203" width="5" height="1" fill="#000"/>
<rect x="892" y="211" width="5" height="1" fill="#000"/>
<text x="900" y="215.7" font-size="13" fill="#000">-2</text>
<rect x="892" y="220" width="5" height="1" fill="#000"/>
<rect x="892" y="228" width="5" height="1" fill="#000"/>
<text x="900" y="232.7" font-size="13" fill="#000">-8</text>
<rect x="892" y="237" width="5" height="1" fill="#000"/>
<rect x="892" y="246" width="5" height="1" fill="#000"/>
<text x="900" y="250.7" font-size="13" fill="#000">-32</text>
<rect x="892" y="254" width="5" height="1" fill="#000"/>
<rect x="892" y="263" width="5" height="1" fill="#000"/>
<text x="900" y="267.7" font-size="13" fill="#000">-128</text>
<rect x="892" y="271" width="5" height="1" fill="#000"/>
<rect x="892" y="280" width="5" height="1" fill="#000"/>
<text x="900" y="284.7" font-size="13" fill="#000">-512</text>
<text x="839.90" y="91.6" font-size="16" textLength="166.24" lengthAdjust="spacing">Photospheric field Br</text>
<text x="950.10" y="206.7" font-size="16" textLength="36.42" lengthAdjust="spacing">B, G</text>
<rect x="870" y="360" width="20" height="181" fill="url(#jet)"/>
<text x="839.80" y="351.20000000000005" font-size="16" textLength="174.45" lengthAdjust="spacing">Derived coronal holes</text>
<text x="949.70" y="466.4" font-size="16" textLength="37.48" lengthAdjust="spacing">km/s</text>
<rect x="892" y="360" width="5" height="1" fill="#000"/>
<text x="899.5" y="370.2" font-size="16" fill="#000">750</text>
<rect x="892" y="396" width="5" height="1" fill="#000"/>
<text x="899.5" y="406.1" font-size="16" fill="#000">650</text>
<rect x="892" y="432" width="5" height="1" fill="#000"/>
<text x="899.5" y="442.1" font-size="16" fill="#000">550</text>
<rect x="892" y="468" width="5" height="1" fill="#000"/>
<text x="899.5" y="478.0" font-size="16" fill="#000">450</text>
<rect x="892" y="504" width="5" height="1" fill="#000"/>
<text x="899.5" y="513.9" font-size="16" fill="#000">350</text>
<rect x="892" y="540" width="5" height="1" fill="#000"/>
<text x="899.5" y="549.8" font-size="16" fill="#000">250</text>
<rect x="870" y="620" width="20" height="181" fill="url(#jet)"/>
<text x="839.80" y="611.2" font-size="16" textLength="138.15" lengthAdjust="spacing">Solar wind speed</text>
<text x="950.70" y="726.4000000000001" font-size="16" textLength="57.77" lengthAdjust="spacing">V, km/s</text>
<rect x="892" y="620" width="5" height="1" fill="#000"/>
<text x="899.5" y="630.2" font-size="16" fill="#000">750</text>
<rect x="892" y="656" width="5" height="1" fill="#000"/>
<text x="899.5" y="666.1" font-size="16" fill="#000">650</text>
<rect x="892" y="692" width="5" height="1" fill="#000"/>
<text x="899.5" y="702.1" font-size="16" fill="#000">550</text>
<rect x="892" y="728" width="5" height="1" fill="#000"/>
<text x="899.5" y="738.0" font-size="16" fill="#000">450</text>
<rect x="892" y="764" width="5" height="1" fill="#000"/>
<text x="899.5" y="773.9" font-size="16" fill="#000">350</text>
<rect x="892" y="800" width="5" height="1" fill="#000"/>
<text x="899.5" y="809.8" font-size="16" fill="#000">250</text>
<rect x="870" y="880" width="20" height="181" fill="url(#ssf)"/>
<text x="839.80" y="871.2" font-size="16" textLength="160.01" lengthAdjust="spacing">Source surface field</text>
<text x="949.70" y="986.4000000000001" font-size="16" textLength="43.05" lengthAdjust="spacing">Br, G</text>
<rect x="892" y="908" width="5" height="1" fill="#000"/>
<text x="899.5" y="917.9" font-size="16" fill="#000">0,2</text>
<rect x="892" y="939" width="5" height="1" fill="#000"/>
<text x="899.5" y="948.9" font-size="16" fill="#000">0,1</text>
<rect x="892" y="970" width="5" height="1" fill="#000"/>
<text x="899.5" y="979.7" font-size="16" fill="#000">0</text>
<rect x="892" y="1002" width="5" height="1" fill="#000"/>
<text x="899.5" y="1011.1" font-size="16" fill="#000">-0,1</text>
<rect x="892" y="1033" width="5" height="1" fill="#000"/>
<text x="899.5" y="1042.7" font-size="16" fill="#000">-0,2</text>
<text x="9.70" y="1161" font-size="20.5" textLength="71.54" lengthAdjust="spacing">Created</text>
<text x="92.80" y="1161" font-size="20.5" textLength="99.01" lengthAdjust="spacing">2018.05.27</text>
<text x="208.80" y="1156.7" font-size="15" textLength="294.97" lengthAdjust="spacing">CH area (% hms): Total: 27.7 CH+: 14.7</text>
<text x="519.00" y="1156.7" font-size="15" textLength="70.70" lengthAdjust="spacing">CH-: 13.0</text>
<text x="609.20" y="1156.7" font-size="15" textLength="300.86" lengthAdjust="spacing">For date 2018.05.27 (&lt;45deg) CH+: 0.62</text>
<text x="929.80" y="1156.7" font-size="15" textLength="71.10" lengthAdjust="spacing">CH-: 0.57</text>
</svg>
</body></html>
